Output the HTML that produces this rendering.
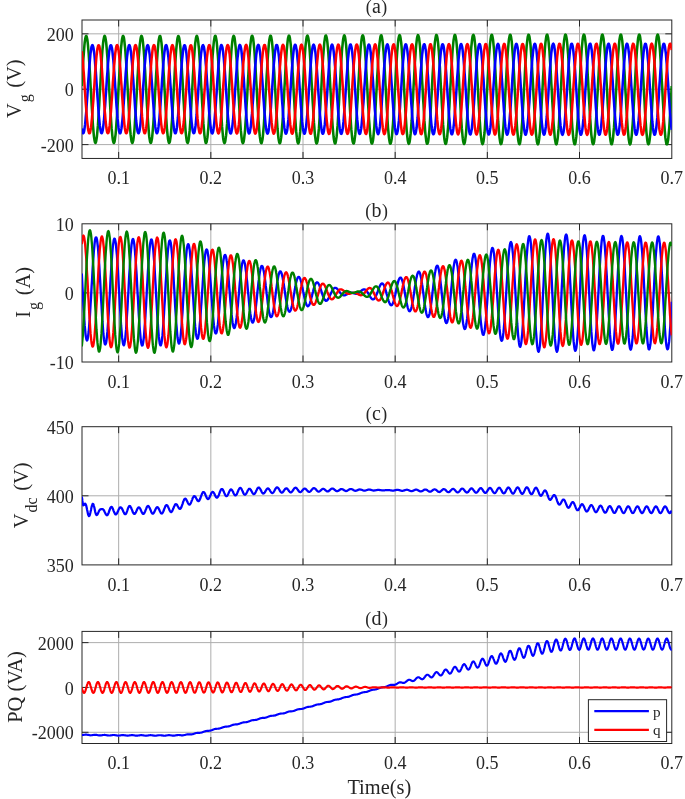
<!DOCTYPE html>
<html lang="en"><head><meta charset="utf-8"><title>Figure</title>
<style>html,body{margin:0;padding:0;background:#fff;}svg{display:block;-webkit-font-smoothing:antialiased;will-change:transform;}</style></head>
<body>
<svg width="685" height="799" viewBox="0 0 685 799" font-family="'Liberation Serif', serif" fill="#262626">
<rect width="685" height="799" fill="#ffffff"/>
<defs>
<clipPath id="clipa"><rect x="82.0" y="20.0" width="589.80" height="138.45"/></clipPath>
<clipPath id="clipb"><rect x="82.0" y="223.8" width="589.80" height="138.20"/></clipPath>
<clipPath id="clipc"><rect x="82.0" y="426.7" width="589.80" height="138.20"/></clipPath>
<clipPath id="clipd"><rect x="82.0" y="631.4" width="589.80" height="112.10"/></clipPath>
</defs>
<line x1="118.66" y1="20.0" x2="118.66" y2="158.45" stroke="#adadad" stroke-width="1.0"/>
<line x1="210.83" y1="20.0" x2="210.83" y2="158.45" stroke="#adadad" stroke-width="1.0"/>
<line x1="303.00" y1="20.0" x2="303.00" y2="158.45" stroke="#adadad" stroke-width="1.0"/>
<line x1="395.17" y1="20.0" x2="395.17" y2="158.45" stroke="#adadad" stroke-width="1.0"/>
<line x1="487.34" y1="20.0" x2="487.34" y2="158.45" stroke="#adadad" stroke-width="1.0"/>
<line x1="579.51" y1="20.0" x2="579.51" y2="158.45" stroke="#adadad" stroke-width="1.0"/>
<line x1="82.0" y1="33.84" x2="671.8" y2="33.84" stroke="#adadad" stroke-width="1.0"/>
<line x1="82.0" y1="89.22" x2="671.8" y2="89.22" stroke="#adadad" stroke-width="1.0"/>
<line x1="82.0" y1="144.60" x2="671.8" y2="144.60" stroke="#adadad" stroke-width="1.0"/>
<rect x="82.0" y="20.0" width="589.80" height="138.45" fill="none" stroke="#262626" stroke-width="1.0"/>
<line x1="118.66" y1="158.45" x2="118.66" y2="151.95" stroke="#262626" stroke-width="1.0"/>
<line x1="118.66" y1="20.0" x2="118.66" y2="26.5" stroke="#262626" stroke-width="1.0"/>
<line x1="210.83" y1="158.45" x2="210.83" y2="151.95" stroke="#262626" stroke-width="1.0"/>
<line x1="210.83" y1="20.0" x2="210.83" y2="26.5" stroke="#262626" stroke-width="1.0"/>
<line x1="303.00" y1="158.45" x2="303.00" y2="151.95" stroke="#262626" stroke-width="1.0"/>
<line x1="303.00" y1="20.0" x2="303.00" y2="26.5" stroke="#262626" stroke-width="1.0"/>
<line x1="395.17" y1="158.45" x2="395.17" y2="151.95" stroke="#262626" stroke-width="1.0"/>
<line x1="395.17" y1="20.0" x2="395.17" y2="26.5" stroke="#262626" stroke-width="1.0"/>
<line x1="487.34" y1="158.45" x2="487.34" y2="151.95" stroke="#262626" stroke-width="1.0"/>
<line x1="487.34" y1="20.0" x2="487.34" y2="26.5" stroke="#262626" stroke-width="1.0"/>
<line x1="579.51" y1="158.45" x2="579.51" y2="151.95" stroke="#262626" stroke-width="1.0"/>
<line x1="579.51" y1="20.0" x2="579.51" y2="26.5" stroke="#262626" stroke-width="1.0"/>
<line x1="82.0" y1="33.84" x2="88.5" y2="33.84" stroke="#262626" stroke-width="1.0"/>
<line x1="671.8" y1="33.84" x2="665.3" y2="33.84" stroke="#262626" stroke-width="1.0"/>
<line x1="82.0" y1="89.22" x2="88.5" y2="89.22" stroke="#262626" stroke-width="1.0"/>
<line x1="671.8" y1="89.22" x2="665.3" y2="89.22" stroke="#262626" stroke-width="1.0"/>
<line x1="82.0" y1="144.60" x2="88.5" y2="144.60" stroke="#262626" stroke-width="1.0"/>
<line x1="671.8" y1="144.60" x2="665.3" y2="144.60" stroke="#262626" stroke-width="1.0"/>
<g clip-path="url(#clipa)">
<polyline fill="none" stroke="#008000" stroke-width="2.55" stroke-linejoin="round" points="81.8,86.1 82.1,80.1 82.4,74.3 82.8,68.7 83.1,63.3 83.4,58.3 83.8,53.6 84.1,49.4 84.4,45.7 84.7,42.5 85.1,39.9 85.4,38.0 85.7,36.7 86.1,36.0 86.4,36.0 86.7,36.7 87.0,38.0 87.4,40.0 87.7,42.6 88.0,45.7 88.3,49.5 88.7,53.7 89.0,58.3 89.3,63.4 89.7,68.8 90.0,74.4 90.3,80.2 90.6,86.2 91.0,92.2 91.3,98.1 91.6,103.9 92.0,109.6 92.3,115.0 92.6,120.1 92.9,124.8 93.3,129.1 93.6,132.8 93.9,136.1 94.3,138.7 94.6,140.7 94.9,142.1 95.2,142.9 95.6,142.9 95.9,142.3 96.2,141.1 96.5,139.2 96.9,136.6 97.2,133.5 97.5,129.9 97.9,125.7 98.2,121.1 98.5,116.1 98.8,110.7 99.2,105.1 99.5,99.3 99.8,93.4 100.2,87.4 100.5,81.4 100.8,75.6 101.1,69.9 101.5,64.5 101.8,59.3 102.1,54.6 102.4,50.3 102.8,46.5 103.1,43.2 103.4,40.5 103.8,38.4 104.1,36.9 104.4,36.1 104.7,35.9 105.1,36.5 105.4,37.7 105.7,39.5 106.1,42.0 106.4,45.0 106.7,48.6 107.0,52.7 107.4,57.3 107.7,62.3 108.0,67.6 108.4,73.2 108.7,79.0 109.0,84.9 109.3,90.8 109.7,96.8 110.0,102.7 110.3,108.4 110.6,113.8 111.0,119.0 111.3,123.8 111.6,128.2 112.0,132.0 112.3,135.4 112.6,138.2 112.9,140.3 113.3,141.9 113.6,142.7 113.9,143.0 114.3,142.5 114.6,141.4 114.9,139.6 115.2,137.2 115.6,134.3 115.9,130.7 116.2,126.6 116.5,122.1 116.9,117.2 117.2,111.9 117.5,106.4 117.9,100.6 118.2,94.7 118.5,88.7 118.8,82.7 119.2,76.9 119.5,71.1 119.8,65.6 120.2,60.4 120.5,55.6 120.8,51.2 121.1,47.3 121.5,43.8 121.8,41.0 122.1,38.8 122.5,37.2 122.8,36.2 123.1,35.9 123.4,36.3 123.8,37.3 124.1,39.0 124.4,41.4 124.7,44.3 125.1,47.8 125.4,51.8 125.7,56.3 126.1,61.1 126.4,66.4 126.7,71.9 127.0,77.7 127.4,83.6 127.7,89.5 128.0,95.5 128.4,101.4 128.7,107.1 129.0,112.7 129.3,117.9 129.7,122.8 130.0,127.2 130.3,131.2 130.6,134.7 131.0,137.6 131.3,139.9 131.6,141.6 132.0,142.6 132.3,143.0 132.6,142.7 132.9,141.7 133.3,140.1 133.6,137.8 133.9,135.0 134.3,131.5 134.6,127.6 134.9,123.1 135.2,118.3 135.6,113.1 135.9,107.6 136.2,101.9 136.6,96.0 136.9,90.0 137.2,84.0 137.5,78.1 137.9,72.4 138.2,66.8 138.5,61.5 138.8,56.6 139.2,52.1 139.5,48.1 139.8,44.5 140.2,41.6 140.5,39.2 140.8,37.5 141.1,36.4 141.5,35.9 141.8,36.2 142.1,37.1 142.5,38.6 142.8,40.8 143.1,43.6 143.4,47.0 143.8,50.9 144.1,55.2 144.4,60.0 144.7,65.2 145.1,70.7 145.4,76.4 145.7,82.3 146.1,88.2 146.4,94.2 146.7,100.1 147.0,105.9 147.4,111.5 147.7,116.8 148.0,121.7 148.4,126.3 148.7,130.4 149.0,134.0 149.3,137.0 149.7,139.5 150.0,141.3 150.3,142.4 150.7,142.9 151.0,142.8 151.3,142.0 151.6,140.5 152.0,138.4 152.3,135.6 152.6,132.3 152.9,128.5 153.3,124.2 153.6,119.4 153.9,114.3 154.3,108.8 154.6,103.1 154.9,97.3 155.2,91.3 155.6,85.3 155.9,79.4 156.2,73.6 156.6,68.0 156.9,62.7 157.2,57.7 157.5,53.1 157.9,48.9 158.2,45.3 158.5,42.2 158.8,39.7 159.2,37.8 159.5,36.5 159.8,36.0 160.2,36.1 160.5,36.8 160.8,38.2 161.1,40.3 161.5,42.9 161.8,46.2 162.1,50.0 162.5,54.2 162.8,59.0 163.1,64.1 163.4,69.5 163.8,75.1 164.1,81.0 164.4,86.9 164.8,92.9 165.1,98.8 165.4,104.7 165.7,110.3 166.1,115.7 166.4,120.7 166.7,125.3 167.0,129.5 167.4,133.3 167.7,136.4 168.0,139.0 168.4,140.9 168.7,142.2 169.0,142.9 169.3,142.9 169.7,142.2 170.0,140.9 170.3,138.9 170.7,136.3 171.0,133.1 171.3,129.4 171.6,125.1 172.0,120.5 172.3,115.4 172.6,110.0 172.9,104.4 173.3,98.6 173.6,92.6 173.9,86.6 174.3,80.7 174.6,74.9 174.9,69.2 175.2,63.8 175.6,58.7 175.9,54.0 176.2,49.8 176.6,46.0 176.9,42.8 177.2,40.2 177.5,38.1 177.9,36.8 178.2,36.0 178.5,36.0 178.8,36.6 179.2,37.9 179.5,39.8 179.8,42.3 180.2,45.4 180.5,49.1 180.8,53.3 181.1,57.9 181.5,62.9 181.8,68.3 182.1,73.9 182.5,79.7 182.8,85.6 183.1,91.6 183.4,97.5 183.8,103.4 184.1,109.1 184.4,114.5 184.8,119.6 185.1,124.4 185.4,128.7 185.7,132.5 186.1,135.8 186.4,138.5 186.7,140.6 187.0,142.0 187.4,142.8 187.7,143.0 188.0,142.4 188.4,141.2 188.7,139.4 189.0,136.9 189.3,133.8 189.7,130.2 190.0,126.1 190.3,121.5 190.7,116.6 191.0,111.2 191.3,105.6 191.6,99.9 192.0,93.9 192.3,88.0 192.6,82.0 192.9,76.1 193.3,70.4 193.6,65.0 193.9,59.8 194.3,55.0 194.6,50.7 194.9,46.8 195.2,43.4 195.6,40.7 195.9,38.5 196.2,37.0 196.6,36.1 196.9,35.9 197.2,36.4 197.5,37.5 197.9,39.3 198.2,41.7 198.5,44.7 198.9,48.2 199.2,52.3 199.5,56.8 199.8,61.8 200.2,67.0 200.5,72.6 200.8,78.4 201.1,84.3 201.5,90.3 201.8,96.3 202.1,102.1 202.5,107.9 202.8,113.4 203.1,118.6 203.4,123.4 203.8,127.8 204.1,131.7 204.4,135.1 204.8,138.0 205.1,140.2 205.4,141.8 205.7,142.8 206.1,143.0 206.4,142.6 206.7,141.6 207.0,139.9 207.4,137.5 207.7,134.6 208.0,131.1 208.4,127.1 208.7,122.6 209.0,117.7 209.3,112.4 209.7,106.9 210.0,101.1 210.3,95.2 210.7,89.3 211.0,83.3 211.3,77.4 211.6,71.6 212.0,66.1 212.3,60.9 212.6,56.0 213.0,51.5 213.3,47.5 213.6,44.1 213.9,41.2 214.3,38.9 214.6,37.2 214.9,36.2 215.2,35.8 215.6,36.1 215.9,37.1 216.2,38.8 216.6,41.0 216.9,43.9 217.2,47.3 217.5,51.3 217.9,55.8 218.2,60.6 218.5,65.8 218.9,71.4 219.2,77.1 219.5,83.0 219.8,89.0 220.2,95.0 220.5,100.9 220.8,106.7 221.1,112.2 221.5,117.5 221.8,122.4 222.1,126.9 222.5,131.0 222.8,134.5 223.1,137.5 223.4,139.8 223.8,141.6 224.1,142.7 224.4,143.1 224.8,142.8 225.1,141.9 225.4,140.4 225.7,138.2 226.1,135.4 226.4,132.0 226.7,128.1 227.1,123.7 227.4,118.8 227.7,113.7 228.0,108.2 228.4,102.4 228.7,96.5 229.0,90.6 229.3,84.6 229.7,78.7 230.0,72.9 230.3,67.3 230.7,62.0 231.0,57.0 231.3,52.4 231.6,48.3 232.0,44.7 232.3,41.7 232.6,39.3 233.0,37.4 233.3,36.3 233.6,35.8 233.9,36.0 234.3,36.8 234.6,38.3 234.9,40.4 235.2,43.2 235.6,46.5 235.9,50.4 236.2,54.7 236.6,59.5 236.9,64.6 237.2,70.1 237.5,75.8 237.9,81.7 238.2,87.7 238.5,93.7 238.9,99.6 239.2,105.4 239.5,111.0 239.8,116.4 240.2,121.4 240.5,126.0 240.8,130.2 241.2,133.8 241.5,136.9 241.8,139.4 242.1,141.3 242.5,142.5 242.8,143.1 243.1,143.0 243.4,142.3 243.8,140.8 244.1,138.8 244.4,136.1 244.8,132.8 245.1,129.0 245.4,124.7 245.7,120.0 246.1,114.8 246.4,109.4 246.7,103.7 247.1,97.9 247.4,91.9 247.7,85.9 248.0,79.9 248.4,74.1 248.7,68.4 249.0,63.1 249.3,58.0 249.7,53.3 250.0,49.1 250.3,45.4 250.7,42.2 251.0,39.7 251.3,37.7 251.6,36.4 252.0,35.8 252.3,35.8 252.6,36.5 253.0,37.8 253.3,39.8 253.6,42.5 253.9,45.7 254.3,49.4 254.6,53.7 254.9,58.4 255.2,63.5 255.6,68.9 255.9,74.5 256.2,80.4 256.6,86.3 256.9,92.4 257.2,98.3 257.5,104.2 257.9,109.9 258.2,115.3 258.5,120.4 258.9,125.1 259.2,129.4 259.5,133.1 259.8,136.4 260.2,139.0 260.5,141.0 260.8,142.4 261.2,143.1 261.5,143.2 261.8,142.5 262.1,141.3 262.5,139.3 262.8,136.8 263.1,133.6 263.4,129.9 263.8,125.7 264.1,121.1 264.4,116.0 264.8,110.7 265.1,105.0 265.4,99.2 265.7,93.2 266.1,87.2 266.4,81.2 266.7,75.3 267.1,69.6 267.4,64.2 267.7,59.0 268.0,54.3 268.4,50.0 268.7,46.1 269.0,42.8 269.3,40.1 269.7,38.0 270.0,36.6 270.3,35.8 270.7,35.7 271.0,36.2 271.3,37.4 271.6,39.3 272.0,41.8 272.3,44.9 272.6,48.5 273.0,52.7 273.3,57.3 273.6,62.3 273.9,67.6 274.3,73.2 274.6,79.1 274.9,85.0 275.3,91.0 275.6,97.0 275.9,102.9 276.2,108.7 276.6,114.1 276.9,119.3 277.2,124.1 277.5,128.5 277.9,132.4 278.2,135.8 278.5,138.5 278.9,140.7 279.2,142.2 279.5,143.1 279.8,143.3 280.2,142.8 280.5,141.7 280.8,139.9 281.2,137.4 281.5,134.4 281.8,130.8 282.1,126.7 282.5,122.2 282.8,117.2 283.1,111.9 283.4,106.3 283.8,100.5 284.1,94.5 284.4,88.5 284.8,82.5 285.1,76.6 285.4,70.8 285.7,65.3 286.1,60.1 286.4,55.2 286.7,50.8 287.1,46.9 287.4,43.4 287.7,40.6 288.0,38.4 288.4,36.8 288.7,35.8 289.0,35.6 289.4,36.0 289.7,37.0 290.0,38.8 290.3,41.1 290.7,44.1 291.0,47.6 291.3,51.7 291.6,56.2 292.0,61.1 292.3,66.4 292.6,72.0 293.0,77.8 293.3,83.7 293.6,89.7 293.9,95.7 294.3,101.7 294.6,107.4 294.9,113.0 295.3,118.3 295.6,123.2 295.9,127.6 296.2,131.7 296.6,135.1 296.9,138.0 297.2,140.3 297.5,142.0 297.9,143.0 298.2,143.4 298.5,143.0 298.9,142.0 299.2,140.4 299.5,138.1 299.8,135.2 300.2,131.7 300.5,127.7 300.8,123.3 301.2,118.4 301.5,113.1 301.8,107.5 302.1,101.8 302.5,95.8 302.8,89.8 303.1,83.8 303.5,77.9 303.8,72.1 304.1,66.5 304.4,61.2 304.8,56.2 305.1,51.7 305.4,47.6 305.7,44.1 306.1,41.1 306.4,38.7 306.7,37.0 307.1,35.9 307.4,35.5 307.7,35.8 308.0,36.7 308.4,38.3 308.7,40.5 309.0,43.3 309.4,46.7 309.7,50.7 310.0,55.1 310.3,60.0 310.7,65.2 311.0,70.7 311.3,76.5 311.6,82.4 312.0,88.4 312.3,94.4 312.6,100.4 313.0,106.2 313.3,111.8 313.6,117.2 313.9,122.2 314.3,126.8 314.6,130.9 314.9,134.5 315.3,137.5 315.6,140.0 315.9,141.8 316.2,142.9 316.6,143.4 316.9,143.2 317.2,142.4 317.6,140.9 317.9,138.7 318.2,135.9 318.5,132.6 318.9,128.7 319.2,124.3 319.5,119.5 319.8,114.3 320.2,108.8 320.5,103.1 320.8,97.2 321.2,91.1 321.5,85.1 321.8,79.1 322.1,73.3 322.5,67.6 322.8,62.3 323.1,57.2 323.5,52.6 323.8,48.4 324.1,44.8 324.4,41.6 324.8,39.1 325.1,37.3 325.4,36.0 325.7,35.5 326.1,35.6 326.4,36.4 326.7,37.8 327.1,39.9 327.4,42.6 327.7,45.9 328.0,49.7 328.4,54.1 328.7,58.8 329.0,64.0 329.4,69.5 329.7,75.2 330.0,81.1 330.3,87.1 330.7,93.1 331.0,99.1 331.3,105.0 331.7,110.7 332.0,116.1 332.3,121.2 332.6,125.8 333.0,130.1 333.3,133.8 333.6,137.0 333.9,139.5 334.3,141.5 334.6,142.8 334.9,143.4 335.3,143.4 335.6,142.7 335.9,141.3 336.2,139.3 336.6,136.7 336.9,133.4 337.2,129.6 337.6,125.4 337.9,120.6 338.2,115.5 338.5,110.1 338.9,104.4 339.2,98.5 339.5,92.5 339.8,86.4 340.2,80.4 340.5,74.5 340.8,68.8 341.2,63.4 341.5,58.3 341.8,53.5 342.1,49.2 342.5,45.5 342.8,42.2 343.1,39.6 343.5,37.5 343.8,36.2 344.1,35.5 344.4,35.4 344.8,36.1 345.1,37.4 345.4,39.3 345.7,41.9 346.1,45.1 346.4,48.8 346.7,53.0 347.1,57.7 347.4,62.8 347.7,68.2 348.0,73.9 348.4,79.8 348.7,85.8 349.0,91.8 349.4,97.8 349.7,103.7 350.0,109.5 350.3,114.9 350.7,120.1 351.0,124.9 351.3,129.2 351.7,133.1 352.0,136.4 352.3,139.1 352.6,141.2 353.0,142.6 353.3,143.4 353.6,143.5 353.9,143.0 354.3,141.8 354.6,139.9 354.9,137.4 355.3,134.2 355.6,130.6 355.9,126.4 356.2,121.7 356.6,116.7 356.9,111.3 357.2,105.7 357.6,99.8 357.9,93.8 358.2,87.7 358.5,81.7 358.9,75.8 359.2,70.0 359.5,64.5 359.8,59.3 360.2,54.5 360.5,50.1 360.8,46.2 361.2,42.8 361.5,40.0 361.8,37.9 362.1,36.3 362.5,35.5 362.8,35.3 363.1,35.8 363.5,36.9 363.8,38.8 364.1,41.2 364.4,44.2 364.8,47.9 365.1,52.0 365.4,56.6 365.8,61.6 366.1,67.0 366.4,72.6 366.7,78.4 367.1,84.4 367.4,90.5 367.7,96.5 368.0,102.5 368.4,108.3 368.7,113.8 369.0,119.1 369.4,123.9 369.7,128.4 370.0,132.3 370.3,135.8 370.7,138.6 371.0,140.9 371.3,142.5 371.7,143.4 372.0,143.7 372.3,143.2 372.6,142.1 373.0,140.4 373.3,138.0 373.6,135.0 373.9,131.5 374.3,127.4 374.6,122.8 374.9,117.9 375.3,112.5 375.6,106.9 375.9,101.1 376.2,95.1 376.6,89.1 376.9,83.0 377.2,77.1 377.6,71.2 377.9,65.7 378.2,60.4 378.5,55.4 378.9,50.9 379.2,46.9 379.5,43.4 379.9,40.5 380.2,38.2 380.5,36.5 380.8,35.5 381.2,35.2 381.5,35.5 381.8,36.6 382.1,38.2 382.5,40.5 382.8,43.5 383.1,47.0 383.5,51.0 383.8,55.5 384.1,60.4 384.4,65.7 384.8,71.3 385.1,77.1 385.4,83.1 385.8,89.2 386.1,95.2 386.4,101.2 386.7,107.0 387.1,112.6 387.4,118.0 387.7,122.9 388.0,127.5 388.4,131.6 388.7,135.1 389.0,138.1 389.4,140.5 389.7,142.2 390.0,143.3 390.3,143.7 390.7,143.5 391.0,142.5 391.3,140.9 391.7,138.7 392.0,135.8 392.3,132.4 392.6,128.4 393.0,123.9 393.3,119.0 393.6,113.8 394.0,108.2 394.3,102.4 394.6,96.4 394.9,90.4 395.3,84.3 395.6,78.3 395.9,72.5 396.2,66.8 396.6,61.5 396.9,56.4 397.2,51.8 397.6,47.7 397.9,44.1 398.2,41.0 398.5,38.6 398.9,36.8 399.2,35.6 399.5,35.1 399.9,35.3 400.2,36.2 400.5,37.7 400.8,39.9 401.2,42.7 401.5,46.1 401.8,50.0 402.1,54.4 402.5,59.3 402.8,64.5 403.1,70.1 403.5,75.8 403.8,81.8 404.1,87.8 404.4,93.9 404.8,99.9 405.1,105.8 405.4,111.5 405.8,116.9 406.1,121.9 406.4,126.6 406.7,130.8 407.1,134.5 407.4,137.6 407.7,140.1 408.1,142.0 408.4,143.2 408.7,143.8 409.0,143.6 409.4,142.8 409.7,141.4 410.0,139.3 410.3,136.5 410.7,133.2 411.0,129.3 411.3,125.0 411.7,120.2 412.0,115.0 412.3,109.5 412.6,103.7 413.0,97.8 413.3,91.7 413.6,85.7 414.0,79.6 414.3,73.7 414.6,68.0 414.9,62.6 415.3,57.5 415.6,52.8 415.9,48.5 416.2,44.8 416.6,41.6 416.9,39.0 417.2,37.1 417.6,35.8 417.9,35.1 418.2,35.2 418.5,35.9 418.9,37.3 419.2,39.3 419.5,42.0 419.9,45.3 420.2,49.1 420.5,53.4 420.8,58.2 421.2,63.3 421.5,68.8 421.8,74.5 422.1,80.5 422.5,86.5 422.8,92.6 423.1,98.6 423.5,104.5 423.8,110.3 424.1,115.8 424.4,120.9 424.8,125.7 425.1,130.0 425.4,133.8 425.8,137.0 426.1,139.7 426.4,141.7 426.7,143.1 427.1,143.8 427.4,143.8 427.7,143.1 428.1,141.8 428.4,139.8 428.7,137.2 429.0,134.0 429.4,130.3 429.7,126.0 430.0,121.3 430.3,116.2 430.7,110.7 431.0,105.0 431.3,99.1 431.7,93.1 432.0,87.0 432.3,80.9 432.6,75.0 433.0,69.2 433.3,63.7 433.6,58.5 434.0,53.7 434.3,49.4 434.6,45.5 434.9,42.2 435.3,39.5 435.6,37.4 435.9,35.9 436.2,35.1 436.6,35.0 436.9,35.6 437.2,36.9 437.6,38.8 437.9,41.3 438.2,44.4 438.5,48.1 438.9,52.4 439.2,57.0 439.5,62.1 439.9,67.5 440.2,73.2 440.5,79.1 440.8,85.2 441.2,91.3 441.5,97.3 441.8,103.3 442.2,109.1 442.5,114.6 442.8,119.8 443.1,124.7 443.5,129.1 443.8,133.0 444.1,136.4 444.4,139.2 444.8,141.4 445.1,142.9 445.4,143.7 445.8,143.9 446.1,143.4 446.4,142.2 446.7,140.4 447.1,137.9 447.4,134.9 447.7,131.2 448.1,127.0 448.4,122.4 448.7,117.4 449.0,112.0 449.4,106.3 449.7,100.4 450.0,94.4 450.3,88.3 450.7,82.2 451.0,76.3 451.3,70.4 451.7,64.9 452.0,59.6 452.3,54.7 452.6,50.2 453.0,46.2 453.3,42.8 453.6,39.9 454.0,37.7 454.3,36.1 454.6,35.2 454.9,34.9 455.3,35.4 455.6,36.5 455.9,38.2 456.3,40.6 456.6,43.6 456.9,47.2 457.2,51.3 457.6,55.9 457.9,60.9 458.2,66.3 458.5,72.0 458.9,77.8 459.2,83.8 459.5,89.9 459.9,96.0 460.2,102.0 460.5,107.8 460.8,113.5 461.2,118.8 461.5,123.7 461.8,128.2 462.2,132.3 462.5,135.8 462.8,138.7 463.1,141.0 463.5,142.7 463.8,143.7 464.1,144.0 464.4,143.6 464.8,142.6 465.1,140.9 465.4,138.6 465.8,135.6 466.1,132.1 466.4,128.0 466.7,123.5 467.1,118.5 467.4,113.2 467.7,107.6 468.1,101.7 468.4,95.7 468.7,89.6 469.0,83.6 469.4,77.5 469.7,71.7 470.0,66.0 470.4,60.7 470.7,55.7 471.0,51.1 471.3,47.0 471.7,43.4 472.0,40.5 472.3,38.1 472.6,36.3 473.0,35.3 473.3,34.9 473.6,35.1 474.0,36.1 474.3,37.7 474.6,40.0 474.9,42.9 475.3,46.3 475.6,50.4 475.9,54.8 476.3,59.8 476.6,65.1 476.9,70.7 477.2,76.5 477.6,82.5 477.9,88.6 478.2,94.7 478.5,100.7 478.9,106.6 479.2,112.3 479.5,117.7 479.9,122.7 480.2,127.3 480.5,131.5 480.8,135.1 481.2,138.2 481.5,140.6 481.8,142.4 482.2,143.6 482.5,144.1 482.8,143.9 483.1,143.0 483.5,141.4 483.8,139.2 484.1,136.4 484.5,133.0 484.8,129.0 485.1,124.6 485.4,119.7 485.8,114.4 486.1,108.9 486.4,103.0 486.7,97.1 487.1,91.0 487.4,84.9 487.7,78.8 488.1,72.9 488.4,67.2 488.7,61.8 489.0,56.7 489.4,52.0 489.7,47.8 490.0,44.1 490.4,41.0 490.7,38.5 491.0,36.6 491.3,35.4 491.7,34.8 492.0,34.9 492.3,35.8 492.6,37.2 493.0,39.4 493.3,42.1 493.6,45.5 494.0,49.4 494.3,53.8 494.6,58.6 494.9,63.8 495.3,69.4 495.6,75.2 495.9,81.2 496.3,87.2 496.6,93.4 496.9,99.4 497.2,105.3 497.6,111.1 497.9,116.6 498.2,121.7 498.6,126.4 498.9,130.7 499.2,134.4 499.5,137.6 499.9,140.2 500.2,142.2 500.5,143.5 500.8,144.1 501.2,144.0 501.5,143.3 501.8,141.9 502.2,139.8 502.5,137.1 502.8,133.8 503.1,130.0 503.5,125.6 503.8,120.8 504.1,115.7 504.5,110.1 504.8,104.4 505.1,98.4 505.4,92.3 505.8,86.2 506.1,80.1 506.4,74.2 506.7,68.4 507.1,62.9 507.4,57.7 507.7,53.0 508.1,48.6 508.4,44.8 508.7,41.6 509.0,38.9 509.4,36.9 509.7,35.5 510.0,34.8 510.4,34.8 510.7,35.5 511.0,36.8 511.3,38.8 511.7,41.4 512.0,44.6 512.3,48.4 512.6,52.7 513.0,57.5 513.3,62.6 513.6,68.1 514.0,73.9 514.3,79.8 514.6,85.9 514.9,92.0 515.3,98.1 515.6,104.1 515.9,109.9 516.3,115.4 516.6,120.6 516.9,125.5 517.2,129.8 517.6,133.7 517.9,137.0 518.2,139.8 518.6,141.9 518.9,143.3 519.2,144.1 519.5,144.2 519.9,143.6 520.2,142.3 520.5,140.4 520.8,137.8 521.2,134.7 521.5,130.9 521.8,126.7 522.2,122.0 522.5,116.9 522.8,111.4 523.1,105.7 523.5,99.7 523.8,93.7 524.1,87.5 524.5,81.4 524.8,75.4 525.1,69.6 525.4,64.1 525.8,58.8 526.1,53.9 526.4,49.5 526.7,45.6 527.1,42.2 527.4,39.4 527.7,37.2 528.1,35.7 528.4,34.8 528.7,34.7 529.0,35.2 529.4,36.4 529.7,38.2 530.0,40.7 530.4,43.8 530.7,47.5 531.0,51.7 531.3,56.4 531.7,61.4 532.0,66.9 532.3,72.6 532.7,78.5 533.0,84.6 533.3,90.7 533.6,96.8 534.0,102.8 534.3,108.7 534.6,114.3 534.9,119.6 535.3,124.5 535.6,129.0 535.9,133.0 536.3,136.4 536.6,139.3 536.9,141.5 537.2,143.1 537.6,144.0 537.9,144.3 538.2,143.8 538.6,142.7 538.9,140.9 539.2,138.5 539.5,135.5 539.9,131.8 540.2,127.7 540.5,123.1 540.8,118.0 541.2,112.6 541.5,107.0 541.8,101.0 542.2,95.0 542.5,88.9 542.8,82.8 543.1,76.7 543.5,70.9 543.8,65.2 544.1,59.9 544.5,54.9 544.8,50.4 545.1,46.3 545.4,42.8 545.8,39.9 546.1,37.6 546.4,35.9 546.8,34.9 547.1,34.6 547.4,34.9 547.7,36.0 548.1,37.7 548.4,40.1 548.7,43.0 549.0,46.6 549.4,50.7 549.7,55.3 550.0,60.3 550.4,65.6 550.7,71.3 551.0,77.2 551.3,83.2 551.7,89.3 552.0,95.5 552.3,101.5 552.7,107.4 553.0,113.1 553.3,118.5 553.6,123.5 554.0,128.1 554.3,132.2 554.6,135.8 554.9,138.8 555.3,141.1 555.6,142.9 555.9,143.9 556.3,144.3 556.6,144.0 556.9,143.1 557.2,141.4 557.6,139.1 557.9,136.2 558.2,132.7 558.6,128.7 558.9,124.2 559.2,119.2 559.5,113.9 559.9,108.2 560.2,102.4 560.5,96.3 560.9,90.2 561.2,84.1 561.5,78.0 561.8,72.1 562.2,66.4 562.5,61.0 562.8,55.9 563.1,51.3 563.5,47.1 563.8,43.5 564.1,40.4 564.5,38.0 564.8,36.2 565.1,35.0 565.4,34.6 565.8,34.8 566.1,35.7 566.4,37.2 566.8,39.5 567.1,42.3 567.4,45.8 567.7,49.7 568.1,54.2 568.4,59.1 568.7,64.4 569.0,70.0 569.4,75.9 569.7,81.9 570.0,88.0 570.4,94.1 570.7,100.2 571.0,106.1 571.3,111.9 571.7,117.3 572.0,122.4 572.3,127.1 572.7,131.3 573.0,135.0 573.3,138.2 573.6,140.7 574.0,142.6 574.3,143.8 574.6,144.3 575.0,144.2 575.3,143.4 575.6,141.9 575.9,139.7 576.3,136.9 576.6,133.5 576.9,129.6 577.2,125.2 577.6,120.3 577.9,115.1 578.2,109.5 578.6,103.7 578.9,97.7 579.2,91.6 579.5,85.4 579.9,79.3 580.2,73.4 580.5,67.6 580.9,62.1 581.2,57.0 581.5,52.3 581.8,48.0 582.2,44.2 582.5,41.0 582.8,38.5 583.1,36.5 583.5,35.2 583.8,34.6 584.1,34.7 584.5,35.4 584.8,36.8 585.1,38.9 585.4,41.6 585.8,44.9 586.1,48.8 586.4,53.2 586.8,58.0 587.1,63.2 587.4,68.8 587.7,74.6 588.1,80.6 588.4,86.7 588.7,92.8 589.0,98.9 589.4,104.9 589.7,110.6 590.0,116.2 590.4,121.3 590.7,126.1 591.0,130.5 591.3,134.3 591.7,137.5 592.0,140.2 592.3,142.2 592.7,143.6 593.0,144.3 593.3,144.3 593.6,143.6 594.0,142.2 594.3,140.2 594.6,137.6 595.0,134.3 595.3,130.5 595.6,126.2 595.9,121.4 596.3,116.2 596.6,110.7 596.9,105.0 597.2,99.0 597.6,92.9 597.9,86.8 598.2,80.7 598.6,74.7 598.9,68.9 599.2,63.3 599.5,58.1 599.9,53.3 600.2,48.9 600.5,45.0 600.9,41.7 601.2,39.0 601.5,36.9 601.8,35.4 602.2,34.7 602.5,34.6 602.8,35.2 603.1,36.5 603.5,38.4 603.8,41.0 604.1,44.2 604.5,47.9 604.8,52.2 605.1,56.9 605.4,62.1 605.8,67.5 606.1,73.3 606.4,79.2 606.8,85.3 607.1,91.5 607.4,97.6 607.7,103.6 608.1,109.4 608.4,115.0 608.7,120.2 609.1,125.1 609.4,129.6 609.7,133.5 610.0,136.9 610.4,139.7 610.7,141.8 611.0,143.3 611.3,144.2 611.7,144.3 612.0,143.8 612.3,142.6 612.7,140.7 613.0,138.2 613.3,135.1 613.6,131.4 614.0,127.2 614.3,122.5 614.6,117.4 615.0,112.0 615.3,106.2 615.6,100.3 615.9,94.2 616.3,88.1 616.6,82.0 616.9,76.0 617.2,70.1 617.6,64.5 617.9,59.2 618.2,54.3 618.6,49.8 618.9,45.8 619.2,42.4 619.5,39.5 619.9,37.3 620.2,35.7 620.5,34.8 620.9,34.5 621.2,35.0 621.5,36.1 621.8,37.9 622.2,40.4 622.5,43.4 622.8,47.1 623.2,51.2 623.5,55.9 623.8,60.9 624.1,66.3 624.5,72.0 624.8,77.9 625.1,84.0 625.4,90.1 625.8,96.2 626.1,102.3 626.4,108.1 626.8,113.8 627.1,119.1 627.4,124.1 627.7,128.6 628.1,132.7 628.4,136.2 628.7,139.1 629.1,141.4 629.4,143.1 629.7,144.0 630.0,144.4 630.4,144.0 630.7,142.9 631.0,141.2 631.3,138.8 631.7,135.8 632.0,132.3 632.3,128.2 632.7,123.6 633.0,118.6 633.3,113.2 633.6,107.5 634.0,101.6 634.3,95.6 634.6,89.4 635.0,83.3 635.3,77.3 635.6,71.4 635.9,65.7 636.3,60.3 636.6,55.3 636.9,50.7 637.3,46.6 637.6,43.1 637.9,40.1 638.2,37.7 638.6,36.0 638.9,34.9 639.2,34.5 639.5,34.8 639.9,35.8 640.2,37.5 640.5,39.8 640.9,42.7 641.2,46.2 641.5,50.3 641.8,54.8 642.2,59.8 642.5,65.1 642.8,70.7 643.2,76.6 643.5,82.7 643.8,88.8 644.1,94.9 644.5,101.0 644.8,106.9 645.1,112.6 645.4,118.0 645.8,123.0 646.1,127.7 646.4,131.8 646.8,135.5 647.1,138.5 647.4,141.0 647.7,142.8 648.1,143.9 648.4,144.3 648.7,144.1 649.1,143.2 649.4,141.6 649.7,139.4 650.0,136.5 650.4,133.1 650.7,129.1 651.0,124.6 651.4,119.7 651.7,114.4 652.0,108.8 652.3,102.9 652.7,96.9 653.0,90.8 653.3,84.7 653.6,78.6 654.0,72.7 654.3,66.9 654.6,61.5 655.0,56.4 655.3,51.7 655.6,47.5 655.9,43.8 656.3,40.7 656.6,38.2 656.9,36.3 657.3,35.1 657.6,34.6 657.9,34.7 658.2,35.6 658.6,37.1 658.9,39.2 659.2,42.0 659.5,45.4 659.9,49.3 660.2,53.8 660.5,58.6 660.9,63.9 661.2,69.5 661.5,75.3 661.8,81.3 662.2,87.4 662.5,93.6 662.8,99.6 663.2,105.6 663.5,111.4 663.8,116.8 664.1,122.0 664.5,126.7 664.8,131.0 665.1,134.7 665.4,137.9 665.8,140.5 666.1,142.4 666.4,143.7 666.8,144.3 667.1,144.2 667.4,143.5 667.7,142.0 668.1,139.9 668.4,137.2 668.7,133.9 669.1,130.0 669.4,125.6 669.7,120.8 670.0,115.6 670.4,110.0 670.7,104.2 671.0,98.2 671.4,92.1 671.7,86.0"/>
<polyline fill="none" stroke="#0000ff" stroke-width="2.55" stroke-linejoin="round" points="81.8,128.5 82.1,130.5 82.4,132.0 82.8,132.9 83.1,133.3 83.4,133.2 83.8,132.5 84.1,131.2 84.4,129.5 84.7,127.2 85.1,124.4 85.4,121.3 85.7,117.7 86.1,113.7 86.4,109.5 86.7,105.0 87.0,100.3 87.4,95.5 87.7,90.6 88.0,85.6 88.3,80.8 88.7,76.0 89.0,71.4 89.3,67.0 89.7,62.9 90.0,59.1 90.3,55.7 90.6,52.7 91.0,50.2 91.3,48.1 91.6,46.6 92.0,45.6 92.3,45.1 92.6,45.2 92.9,45.9 93.3,47.1 93.6,48.8 93.9,51.0 94.3,53.7 94.6,56.8 94.9,60.4 95.2,64.3 95.6,68.5 95.9,73.0 96.2,77.6 96.5,82.4 96.9,87.3 97.2,92.3 97.5,97.2 97.9,102.0 98.2,106.6 98.5,111.0 98.8,115.1 99.2,119.0 99.5,122.4 99.8,125.4 100.2,128.0 100.5,130.1 100.8,131.7 101.1,132.8 101.5,133.3 101.8,133.2 102.1,132.7 102.4,131.5 102.8,129.9 103.1,127.7 103.4,125.1 103.8,122.0 104.1,118.5 104.4,114.6 104.7,110.4 105.1,106.0 105.4,101.3 105.7,96.5 106.1,91.6 106.4,86.7 106.7,81.8 107.0,77.0 107.4,72.4 107.7,67.9 108.0,63.7 108.4,59.9 108.7,56.4 109.0,53.3 109.3,50.7 109.7,48.5 110.0,46.9 110.3,45.8 110.6,45.2 111.0,45.2 111.3,45.7 111.6,46.8 112.0,48.4 112.3,50.5 112.6,53.1 112.9,56.1 113.3,59.6 113.6,63.4 113.9,67.5 114.3,72.0 114.6,76.6 114.9,81.4 115.2,86.3 115.6,91.2 115.9,96.1 116.2,100.9 116.5,105.6 116.9,110.1 117.2,114.3 117.5,118.2 117.9,121.7 118.2,124.8 118.5,127.5 118.8,129.7 119.2,131.4 119.5,132.6 119.8,133.2 120.2,133.3 120.5,132.8 120.8,131.8 121.1,130.3 121.5,128.2 121.8,125.7 122.1,122.7 122.5,119.3 122.8,115.5 123.1,111.4 123.4,107.0 123.8,102.4 124.1,97.6 124.4,92.7 124.7,87.8 125.1,82.9 125.4,78.1 125.7,73.4 126.1,68.9 126.4,64.6 126.7,60.7 127.0,57.1 127.4,54.0 127.7,51.2 128.0,49.0 128.4,47.2 128.7,46.0 129.0,45.3 129.3,45.1 129.7,45.5 130.0,46.5 130.3,48.0 130.6,50.0 131.0,52.5 131.3,55.4 131.6,58.8 132.0,62.5 132.3,66.6 132.6,71.0 132.9,75.6 133.3,80.3 133.6,85.2 133.9,90.1 134.3,95.0 134.6,99.9 134.9,104.6 135.2,109.1 135.6,113.4 135.9,117.3 136.2,121.0 136.6,124.2 136.9,127.0 137.2,129.3 137.5,131.1 137.9,132.4 138.2,133.1 138.5,133.3 138.8,133.0 139.2,132.1 139.5,130.7 139.8,128.7 140.2,126.3 140.5,123.4 140.8,120.1 141.1,116.4 141.5,112.3 141.8,108.0 142.1,103.4 142.5,98.7 142.8,93.8 143.1,88.9 143.4,83.9 143.8,79.1 144.1,74.4 144.4,69.8 144.7,65.5 145.1,61.5 145.4,57.9 145.7,54.6 146.1,51.8 146.4,49.4 146.7,47.5 147.0,46.2 147.4,45.4 147.7,45.1 148.0,45.4 148.4,46.2 148.7,47.6 149.0,49.5 149.3,51.9 149.7,54.7 150.0,58.0 150.3,61.7 150.7,65.7 151.0,70.0 151.3,74.5 151.6,79.3 152.0,84.1 152.3,89.0 152.6,94.0 152.9,98.8 153.3,103.6 153.6,108.1 153.9,112.5 154.3,116.5 154.6,120.2 154.9,123.5 155.2,126.4 155.6,128.8 155.9,130.7 156.2,132.1 156.6,133.0 156.9,133.3 157.2,133.1 157.5,132.3 157.9,131.0 158.2,129.2 158.5,126.9 158.8,124.1 159.2,120.8 159.5,117.2 159.8,113.2 160.2,108.9 160.5,104.4 160.8,99.7 161.1,94.9 161.5,89.9 161.8,85.0 162.1,80.2 162.5,75.4 162.8,70.8 163.1,66.5 163.4,62.4 163.8,58.6 164.1,55.3 164.4,52.4 164.8,49.9 165.1,47.9 165.4,46.4 165.7,45.5 166.1,45.1 166.4,45.3 166.7,46.0 167.0,47.3 167.4,49.0 167.7,51.3 168.0,54.1 168.4,57.2 168.7,60.8 169.0,64.8 169.3,69.0 169.7,73.5 170.0,78.2 170.3,83.1 170.7,88.0 171.0,92.9 171.3,97.8 171.6,102.5 172.0,107.2 172.3,111.5 172.6,115.6 172.9,119.4 173.3,122.8 173.6,125.8 173.9,128.3 174.3,130.4 174.6,131.9 174.9,132.9 175.2,133.3 175.6,133.2 175.9,132.6 176.2,131.4 176.6,129.6 176.9,127.4 177.2,124.7 177.5,121.6 177.9,118.0 178.2,114.1 178.5,109.9 178.8,105.4 179.2,100.7 179.5,95.9 179.8,91.0 180.2,86.1 180.5,81.2 180.8,76.4 181.1,71.8 181.5,67.4 181.8,63.2 182.1,59.4 182.5,56.0 182.8,53.0 183.1,50.4 183.4,48.3 183.8,46.7 184.1,45.7 184.4,45.2 184.8,45.2 185.1,45.8 185.4,46.9 185.7,48.6 186.1,50.8 186.4,53.4 186.7,56.5 187.0,60.0 187.4,63.9 187.7,68.1 188.0,72.5 188.4,77.2 188.7,82.0 189.0,86.9 189.3,91.8 189.7,96.7 190.0,101.5 190.3,106.2 190.7,110.6 191.0,114.8 191.3,118.6 191.6,122.1 192.0,125.2 192.3,127.8 192.6,130.0 192.9,131.6 193.3,132.7 193.6,133.3 193.9,133.3 194.3,132.8 194.6,131.7 194.9,130.1 195.2,128.0 195.6,125.4 195.9,122.3 196.2,118.9 196.6,115.0 196.9,110.9 197.2,106.4 197.5,101.8 197.9,97.0 198.2,92.1 198.5,87.2 198.9,82.3 199.2,77.4 199.5,72.8 199.8,68.3 200.2,64.1 200.5,60.2 200.8,56.7 201.1,53.5 201.5,50.9 201.8,48.7 202.1,47.0 202.5,45.8 202.8,45.2 203.1,45.1 203.4,45.6 203.8,46.6 204.1,48.1 204.4,50.2 204.8,52.8 205.1,55.8 205.4,59.2 205.7,63.0 206.1,67.1 206.4,71.5 206.7,76.1 207.0,80.9 207.4,85.8 207.7,90.7 208.0,95.7 208.4,100.5 208.7,105.2 209.0,109.7 209.3,113.9 209.7,117.9 210.0,121.4 210.3,124.6 210.7,127.3 211.0,129.6 211.3,131.4 211.6,132.6 212.0,133.3 212.3,133.4 212.6,133.0 213.0,132.0 213.3,130.5 213.6,128.5 213.9,126.0 214.3,123.1 214.6,119.7 214.9,115.9 215.2,111.8 215.6,107.5 215.9,102.8 216.2,98.1 216.6,93.2 216.9,88.2 217.2,83.3 217.5,78.5 217.9,73.8 218.2,69.2 218.5,65.0 218.9,61.0 219.2,57.4 219.5,54.1 219.8,51.4 220.2,49.0 220.5,47.2 220.8,45.9 221.1,45.2 221.5,45.0 221.8,45.4 222.1,46.3 222.5,47.7 222.8,49.6 223.1,52.1 223.4,55.0 223.8,58.4 224.1,62.1 224.4,66.1 224.8,70.5 225.1,75.1 225.4,79.8 225.7,84.7 226.1,89.7 226.4,94.6 226.7,99.5 227.1,104.2 227.4,108.7 227.7,113.1 228.0,117.1 228.4,120.7 228.7,124.0 229.0,126.8 229.3,129.2 229.7,131.1 230.0,132.4 230.3,133.2 230.7,133.5 231.0,133.2 231.3,132.4 231.6,131.0 232.0,129.1 232.3,126.7 232.6,123.8 233.0,120.5 233.3,116.8 233.6,112.8 233.9,108.5 234.3,103.9 234.6,99.1 234.9,94.3 235.2,89.3 235.6,84.4 235.9,79.5 236.2,74.8 236.6,70.2 236.9,65.8 237.2,61.8 237.5,58.1 237.9,54.8 238.2,51.9 238.5,49.4 238.9,47.5 239.2,46.1 239.5,45.2 239.8,44.9 240.2,45.2 240.5,45.9 240.8,47.3 241.2,49.1 241.5,51.5 241.8,54.3 242.1,57.5 242.5,61.2 242.8,65.2 243.1,69.5 243.4,74.0 243.8,78.8 244.1,83.6 244.4,88.6 244.8,93.5 245.1,98.4 245.4,103.2 245.7,107.8 246.1,112.2 246.4,116.3 246.7,120.0 247.1,123.4 247.4,126.3 247.7,128.8 248.0,130.8 248.4,132.2 248.7,133.2 249.0,133.5 249.3,133.4 249.7,132.7 250.0,131.4 250.3,129.6 250.7,127.3 251.0,124.5 251.3,121.3 251.6,117.7 252.0,113.7 252.3,109.5 252.6,104.9 253.0,100.2 253.3,95.4 253.6,90.4 253.9,85.5 254.3,80.6 254.6,75.8 254.9,71.1 255.2,66.7 255.6,62.6 255.9,58.8 256.2,55.4 256.6,52.4 256.9,49.9 257.2,47.8 257.5,46.3 257.9,45.3 258.2,44.9 258.5,45.0 258.9,45.7 259.2,46.9 259.5,48.6 259.8,50.8 260.2,53.6 260.5,56.7 260.8,60.3 261.2,64.2 261.5,68.5 261.8,73.0 262.1,77.7 262.5,82.6 262.8,87.5 263.1,92.5 263.4,97.4 263.8,102.2 264.1,106.8 264.4,111.3 264.8,115.4 265.1,119.3 265.4,122.7 265.7,125.8 266.1,128.4 266.4,130.4 266.7,132.0 267.1,133.1 267.4,133.6 267.7,133.5 268.0,132.9 268.4,131.8 268.7,130.1 269.0,127.9 269.3,125.2 269.7,122.1 270.0,118.6 270.3,114.7 270.7,110.5 271.0,106.0 271.3,101.3 271.6,96.4 272.0,91.5 272.3,86.5 272.6,81.6 273.0,76.8 273.3,72.1 273.6,67.6 273.9,63.4 274.3,59.6 274.6,56.1 274.9,53.0 275.3,50.3 275.6,48.2 275.9,46.5 276.2,45.4 276.6,44.9 276.9,44.9 277.2,45.4 277.5,46.5 277.9,48.1 278.2,50.3 278.5,52.9 278.9,56.0 279.2,59.5 279.5,63.3 279.8,67.5 280.2,72.0 280.5,76.6 280.8,81.5 281.2,86.4 281.5,91.4 281.8,96.3 282.1,101.2 282.5,105.9 282.8,110.4 283.1,114.6 283.4,118.5 283.8,122.1 284.1,125.2 284.4,127.9 284.8,130.1 285.1,131.8 285.4,133.0 285.7,133.6 286.1,133.7 286.4,133.2 286.7,132.1 287.1,130.6 287.4,128.5 287.7,125.9 288.0,122.9 288.4,119.4 288.7,115.6 289.0,111.4 289.4,107.0 289.7,102.3 290.0,97.5 290.3,92.6 290.7,87.6 291.0,82.7 291.3,77.8 291.6,73.1 292.0,68.6 292.3,64.3 292.6,60.3 293.0,56.7 293.3,53.6 293.6,50.8 293.9,48.5 294.3,46.8 294.6,45.6 294.9,44.9 295.3,44.7 295.6,45.2 295.9,46.1 296.2,47.7 296.6,49.7 296.9,52.2 297.2,55.2 297.5,58.6 297.9,62.4 298.2,66.5 298.5,70.9 298.9,75.6 299.2,80.4 299.5,85.3 299.8,90.3 300.2,95.2 300.5,100.1 300.8,104.9 301.2,109.4 301.5,113.7 301.8,117.7 302.1,121.4 302.5,124.6 302.8,127.4 303.1,129.7 303.5,131.5 303.8,132.8 304.1,133.6 304.4,133.8 304.8,133.4 305.1,132.5 305.4,131.0 305.7,129.0 306.1,126.6 306.4,123.6 306.7,120.3 307.1,116.5 307.4,112.4 307.7,108.0 308.0,103.4 308.4,98.6 308.7,93.7 309.0,88.7 309.4,83.7 309.7,78.8 310.0,74.1 310.3,69.5 310.7,65.2 311.0,61.1 311.3,57.4 311.6,54.2 312.0,51.3 312.3,48.9 312.6,47.1 313.0,45.7 313.3,44.9 313.6,44.6 313.9,45.0 314.3,45.8 314.6,47.2 314.9,49.1 315.3,51.6 315.6,54.4 315.9,57.8 316.2,61.5 316.6,65.6 316.9,69.9 317.2,74.5 317.6,79.3 317.9,84.2 318.2,89.2 318.5,94.2 318.9,99.1 319.2,103.9 319.5,108.5 319.8,112.8 320.2,116.9 320.5,120.7 320.8,124.0 321.2,126.9 321.5,129.3 321.8,131.3 322.1,132.7 322.5,133.5 322.8,133.8 323.1,133.6 323.5,132.8 323.8,131.5 324.1,129.6 324.4,127.2 324.8,124.4 325.1,121.1 325.4,117.4 325.7,113.4 326.1,109.0 326.4,104.5 326.7,99.7 327.1,94.8 327.4,89.8 327.7,84.8 328.0,79.9 328.4,75.1 328.7,70.4 329.0,66.0 329.4,61.9 329.7,58.2 330.0,54.8 330.3,51.8 330.7,49.3 331.0,47.3 331.3,45.9 331.7,45.0 332.0,44.6 332.3,44.8 332.6,45.5 333.0,46.8 333.3,48.6 333.6,50.9 333.9,53.7 334.3,57.0 334.6,60.6 334.9,64.6 335.3,68.9 335.6,73.5 335.9,78.2 336.2,83.1 336.6,88.1 336.9,93.1 337.2,98.0 337.6,102.9 337.9,107.5 338.2,112.0 338.5,116.1 338.9,119.9 339.2,123.4 339.5,126.4 339.8,128.9 340.2,130.9 340.5,132.5 340.8,133.5 341.2,133.9 341.5,133.8 341.8,133.1 342.1,131.9 342.5,130.1 342.8,127.8 343.1,125.1 343.5,121.9 343.8,118.3 344.1,114.3 344.4,110.0 344.8,105.5 345.1,100.8 345.4,95.9 345.7,90.9 346.1,85.9 346.4,80.9 346.7,76.1 347.1,71.4 347.4,66.9 347.7,62.8 348.0,58.9 348.4,55.4 348.7,52.4 349.0,49.8 349.4,47.7 349.7,46.1 350.0,45.0 350.3,44.5 350.7,44.6 351.0,45.2 351.3,46.4 351.7,48.1 352.0,50.3 352.3,53.0 352.6,56.2 353.0,59.7 353.3,63.7 353.6,67.9 353.9,72.4 354.3,77.2 354.6,82.0 354.9,87.0 355.3,92.0 355.6,97.0 355.9,101.8 356.2,106.6 356.6,111.0 356.9,115.3 357.2,119.2 357.6,122.7 357.9,125.8 358.2,128.5 358.5,130.6 358.9,132.3 359.2,133.4 359.5,133.9 359.8,133.9 360.2,133.4 360.5,132.3 360.8,130.6 361.2,128.5 361.5,125.8 361.8,122.7 362.1,119.2 362.5,115.3 362.8,111.0 363.1,106.5 363.5,101.8 363.8,97.0 364.1,92.0 364.4,87.0 364.8,82.0 365.1,77.1 365.4,72.4 365.8,67.9 366.1,63.6 366.4,59.7 366.7,56.1 367.1,52.9 367.4,50.2 367.7,48.0 368.0,46.3 368.4,45.1 368.7,44.5 369.0,44.5 369.4,45.0 369.7,46.0 370.0,47.6 370.3,49.7 370.7,52.3 371.0,55.4 371.3,58.9 371.7,62.7 372.0,66.9 372.3,71.4 372.6,76.1 373.0,80.9 373.3,85.9 373.6,90.9 373.9,95.9 374.3,100.8 374.6,105.6 374.9,110.1 375.3,114.4 375.6,118.4 375.9,122.0 376.2,125.2 376.6,128.0 376.9,130.3 377.2,132.0 377.6,133.2 377.9,133.9 378.2,134.1 378.5,133.6 378.9,132.6 379.2,131.1 379.5,129.0 379.9,126.5 380.2,123.5 380.5,120.0 380.8,116.2 381.2,112.0 381.5,107.6 381.8,102.9 382.1,98.0 382.5,93.1 382.8,88.1 383.1,83.1 383.5,78.2 383.8,73.4 384.1,68.8 384.4,64.5 384.8,60.4 385.1,56.8 385.4,53.5 385.8,50.7 386.1,48.4 386.4,46.6 386.7,45.3 387.1,44.5 387.4,44.3 387.7,44.7 388.0,45.7 388.4,47.1 388.7,49.1 389.0,51.6 389.4,54.6 389.7,58.0 390.0,61.8 390.3,65.9 390.7,70.4 391.0,75.0 391.3,79.9 391.7,84.8 392.0,89.8 392.3,94.8 392.6,99.8 393.0,104.6 393.3,109.2 393.6,113.5 394.0,117.6 394.3,121.3 394.6,124.6 394.9,127.5 395.3,129.9 395.6,131.7 395.9,133.1 396.2,133.9 396.6,134.1 396.9,133.8 397.2,133.0 397.6,131.5 397.9,129.6 398.2,127.1 398.5,124.2 398.9,120.9 399.2,117.1 399.5,113.0 399.9,108.6 400.2,104.0 400.5,99.1 400.8,94.2 401.2,89.2 401.5,84.2 401.8,79.2 402.1,74.4 402.5,69.7 402.8,65.4 403.1,61.3 403.5,57.5 403.8,54.1 404.1,51.2 404.4,48.8 404.8,46.8 405.1,45.4 405.4,44.6 405.8,44.3 406.1,44.5 406.4,45.3 406.7,46.7 407.1,48.6 407.4,51.0 407.7,53.9 408.1,57.2 408.4,60.9 408.7,65.0 409.0,69.3 409.4,74.0 409.7,78.8 410.0,83.7 410.3,88.7 410.7,93.7 411.0,98.7 411.3,103.6 411.7,108.2 412.0,112.6 412.3,116.8 412.6,120.6 413.0,124.0 413.3,127.0 413.6,129.5 414.0,131.4 414.3,132.9 414.6,133.8 414.9,134.2 415.3,134.0 415.6,133.3 415.9,132.0 416.2,130.1 416.6,127.8 416.9,125.0 417.2,121.7 417.6,118.0 417.9,114.0 418.2,109.6 418.5,105.0 418.9,100.2 419.2,95.3 419.5,90.3 419.9,85.2 420.2,80.3 420.5,75.4 420.8,70.7 421.2,66.3 421.5,62.1 421.8,58.2 422.1,54.8 422.5,51.8 422.8,49.2 423.1,47.2 423.5,45.6 423.8,44.6 424.1,44.2 424.4,44.3 424.8,45.0 425.1,46.3 425.4,48.1 425.8,50.4 426.1,53.1 426.4,56.4 426.7,60.0 427.1,64.0 427.4,68.3 427.7,72.9 428.1,77.7 428.4,82.6 428.7,87.6 429.0,92.7 429.4,97.6 429.7,102.5 430.0,107.2 430.3,111.7 430.7,116.0 431.0,119.8 431.3,123.3 431.7,126.4 432.0,129.0 432.3,131.1 432.6,132.7 433.0,133.8 433.3,134.2 433.6,134.2 434.0,133.5 434.3,132.4 434.6,130.6 434.9,128.4 435.3,125.7 435.6,122.5 435.9,118.9 436.2,114.9 436.6,110.6 436.9,106.1 437.2,101.3 437.6,96.4 437.9,91.4 438.2,86.3 438.5,81.3 438.9,76.4 439.2,71.7 439.5,67.2 439.9,62.9 440.2,59.0 440.5,55.5 440.8,52.3 441.2,49.7 441.5,47.5 441.8,45.9 442.2,44.7 442.5,44.2 442.8,44.2 443.1,44.8 443.5,45.9 443.8,47.6 444.1,49.8 444.4,52.4 444.8,55.6 445.1,59.1 445.4,63.1 445.8,67.3 446.1,71.9 446.4,76.6 446.7,81.5 447.1,86.5 447.4,91.6 447.7,96.6 448.1,101.5 448.4,106.3 448.7,110.8 449.0,115.1 449.4,119.1 449.7,122.6 450.0,125.8 450.3,128.5 450.7,130.8 451.0,132.5 451.3,133.6 451.7,134.3 452.0,134.3 452.3,133.8 452.6,132.7 453.0,131.1 453.3,129.0 453.6,126.4 454.0,123.3 454.3,119.8 454.6,115.9 454.9,111.6 455.3,107.1 455.6,102.4 455.9,97.5 456.3,92.5 456.6,87.4 456.9,82.4 457.2,77.5 457.6,72.7 457.9,68.1 458.2,63.8 458.5,59.8 458.9,56.1 459.2,52.9 459.5,50.2 459.9,47.9 460.2,46.1 460.5,44.9 460.8,44.2 461.2,44.1 461.5,44.5 461.8,45.5 462.2,47.1 462.5,49.2 462.8,51.7 463.1,54.8 463.5,58.3 463.8,62.1 464.1,66.3 464.4,70.8 464.8,75.5 465.1,80.4 465.4,85.4 465.8,90.5 466.1,95.5 466.4,100.4 466.7,105.3 467.1,109.9 467.4,114.2 467.7,118.3 468.1,122.0 468.4,125.2 468.7,128.1 469.0,130.4 469.4,132.2 469.7,133.5 470.0,134.2 470.4,134.4 470.7,134.0 471.0,133.1 471.3,131.6 471.7,129.6 472.0,127.0 472.3,124.0 472.6,120.6 473.0,116.8 473.3,112.6 473.6,108.2 474.0,103.5 474.3,98.6 474.6,93.6 474.9,88.5 475.3,83.5 475.6,78.5 475.9,73.7 476.3,69.1 476.6,64.7 476.9,60.6 477.2,56.9 477.6,53.5 477.9,50.7 478.2,48.3 478.5,46.4 478.9,45.0 479.2,44.2 479.5,44.0 479.9,44.3 480.2,45.2 480.5,46.6 480.8,48.6 481.2,51.1 481.5,54.0 481.8,57.4 482.2,61.2 482.5,65.3 482.8,69.8 483.1,74.5 483.5,79.3 483.8,84.3 484.1,89.4 484.5,94.4 484.8,99.4 485.1,104.2 485.4,108.9 485.8,113.3 486.1,117.5 486.4,121.2 486.7,124.6 487.1,127.5 487.4,130.0 487.7,131.9 488.1,133.3 488.4,134.2 488.7,134.5 489.0,134.2 489.4,133.4 489.7,132.0 490.0,130.1 490.4,127.7 490.7,124.8 491.0,121.5 491.3,117.7 491.7,113.6 492.0,109.2 492.3,104.5 492.6,99.7 493.0,94.7 493.3,89.6 493.6,84.6 494.0,79.6 494.3,74.7 494.6,70.0 494.9,65.6 495.3,61.4 495.6,57.6 495.9,54.2 496.3,51.2 496.6,48.7 496.9,46.7 497.2,45.2 497.6,44.3 497.9,43.9 498.2,44.1 498.6,44.9 498.9,46.2 499.2,48.1 499.5,50.4 499.9,53.3 500.2,56.6 500.5,60.3 500.8,64.4 501.2,68.8 501.5,73.4 501.8,78.2 502.2,83.2 502.5,88.2 502.8,93.3 503.1,98.3 503.5,103.2 503.8,107.9 504.1,112.4 504.5,116.6 504.8,120.5 505.1,124.0 505.4,127.0 505.8,129.6 506.1,131.6 506.4,133.2 506.7,134.1 507.1,134.6 507.4,134.4 507.7,133.7 508.1,132.5 508.4,130.7 508.7,128.3 509.0,125.5 509.4,122.3 509.7,118.6 510.0,114.6 510.4,110.2 510.7,105.6 511.0,100.8 511.3,95.8 511.7,90.8 512.0,85.7 512.3,80.7 512.6,75.8 513.0,71.0 513.3,66.5 513.6,62.2 514.0,58.3 514.3,54.8 514.6,51.7 514.9,49.1 515.3,47.0 515.6,45.4 515.9,44.4 516.3,43.9 516.6,44.0 516.9,44.6 517.2,45.8 517.6,47.5 517.9,49.8 518.2,52.6 518.6,55.8 518.9,59.4 519.2,63.4 519.5,67.7 519.9,72.3 520.2,77.1 520.5,82.1 520.8,87.1 521.2,92.2 521.5,97.2 521.8,102.2 522.2,107.0 522.5,111.5 522.8,115.8 523.1,119.7 523.5,123.3 523.8,126.4 524.1,129.1 524.5,131.3 524.8,132.9 525.1,134.0 525.4,134.6 525.8,134.6 526.1,134.0 526.4,132.8 526.7,131.2 527.1,128.9 527.4,126.2 527.7,123.1 528.1,119.5 528.4,115.5 528.7,111.2 529.0,106.6 529.4,101.9 529.7,96.9 530.0,91.9 530.4,86.8 530.7,81.7 531.0,76.8 531.3,72.0 531.7,67.4 532.0,63.1 532.3,59.1 532.7,55.5 533.0,52.3 533.3,49.6 533.6,47.3 534.0,45.6 534.3,44.5 534.6,43.9 534.9,43.8 535.3,44.3 535.6,45.4 535.9,47.0 536.3,49.2 536.6,51.9 536.9,55.0 537.2,58.5 537.6,62.5 537.9,66.7 538.2,71.3 538.6,76.0 538.9,81.0 539.2,86.0 539.5,91.1 539.9,96.2 540.2,101.1 540.5,106.0 540.8,110.6 541.2,114.9 541.5,118.9 541.8,122.6 542.2,125.8 542.5,128.6 542.8,130.9 543.1,132.7 543.5,133.9 543.8,134.6 544.1,134.7 544.5,134.2 544.8,133.2 545.1,131.6 545.4,129.5 545.8,126.9 546.1,123.9 546.4,120.4 546.8,116.5 547.1,112.2 547.4,107.7 547.7,102.9 548.1,98.0 548.4,93.0 548.7,87.9 549.0,82.8 549.4,77.8 549.7,73.0 550.0,68.4 550.4,64.0 550.7,59.9 551.0,56.2 551.3,52.9 551.7,50.1 552.0,47.7 552.3,45.9 552.7,44.6 553.0,43.9 553.3,43.7 553.6,44.1 554.0,45.1 554.3,46.6 554.6,48.6 554.9,51.2 555.3,54.2 555.6,57.7 555.9,61.5 556.3,65.7 556.6,70.2 556.9,75.0 557.2,79.9 557.6,84.9 557.9,90.0 558.2,95.1 558.6,100.1 558.9,104.9 559.2,109.6 559.5,114.0 559.9,118.1 560.2,121.9 560.5,125.2 560.9,128.1 561.2,130.5 561.5,132.4 561.8,133.7 562.2,134.5 562.5,134.8 562.8,134.4 563.1,133.5 563.5,132.1 563.8,130.1 564.1,127.6 564.5,124.6 564.8,121.2 565.1,117.4 565.4,113.2 565.8,108.7 566.1,104.0 566.4,99.1 566.8,94.1 567.1,89.0 567.4,83.9 567.7,78.9 568.1,74.0 568.4,69.3 568.7,64.9 569.0,60.8 569.4,57.0 569.7,53.6 570.0,50.6 570.4,48.2 570.7,46.2 571.0,44.8 571.3,44.0 571.7,43.7 572.0,44.0 572.3,44.8 572.7,46.2 573.0,48.1 573.3,50.6 573.6,53.5 574.0,56.9 574.3,60.6 574.6,64.8 575.0,69.2 575.3,73.9 575.6,78.8 575.9,83.8 576.3,88.9 576.6,94.0 576.9,99.0 577.2,103.9 577.6,108.6 577.9,113.1 578.2,117.3 578.6,121.1 578.9,124.5 579.2,127.5 579.5,130.0 579.9,132.0 580.2,133.5 580.5,134.4 580.9,134.8 581.2,134.6 581.5,133.8 581.8,132.4 582.2,130.6 582.5,128.2 582.8,125.3 583.1,122.0 583.5,118.2 583.8,114.1 584.1,109.7 584.5,105.1 584.8,100.2 585.1,95.2 585.4,90.1 585.8,85.0 586.1,80.0 586.4,75.1 586.8,70.4 587.1,65.8 587.4,61.6 587.7,57.8 588.1,54.3 588.4,51.2 588.7,48.7 589.0,46.6 589.4,45.1 589.7,44.1 590.0,43.7 590.4,43.8 590.7,44.6 591.0,45.8 591.3,47.7 591.7,50.0 592.0,52.8 592.3,56.1 592.7,59.8 593.0,63.9 593.3,68.2 593.6,72.9 594.0,77.7 594.3,82.7 594.6,87.8 595.0,92.9 595.3,97.9 595.6,102.8 595.9,107.6 596.3,112.1 596.6,116.4 596.9,120.3 597.2,123.8 597.6,126.9 597.9,129.5 598.2,131.6 598.6,133.2 598.9,134.3 599.2,134.7 599.5,134.7 599.9,134.0 600.2,132.8 600.5,131.0 600.9,128.7 601.2,126.0 601.5,122.7 601.8,119.1 602.2,115.1 602.5,110.7 602.8,106.1 603.1,101.3 603.5,96.3 603.8,91.2 604.1,86.2 604.5,81.1 604.8,76.2 605.1,71.4 605.4,66.8 605.8,62.5 606.1,58.6 606.4,55.0 606.8,51.9 607.1,49.2 607.4,47.0 607.7,45.4 608.1,44.3 608.4,43.7 608.7,43.8 609.1,44.4 609.4,45.5 609.7,47.2 610.0,49.4 610.4,52.2 610.7,55.3 611.0,58.9 611.3,62.9 611.7,67.2 612.0,71.8 612.3,76.6 612.7,81.6 613.0,86.7 613.3,91.7 613.6,96.8 614.0,101.8 614.3,106.6 614.6,111.2 615.0,115.5 615.3,119.5 615.6,123.1 615.9,126.3 616.3,129.0 616.6,131.2 616.9,132.9 617.2,134.1 617.6,134.7 617.9,134.7 618.2,134.2 618.6,133.1 618.9,131.5 619.2,129.3 619.5,126.6 619.9,123.5 620.2,119.9 620.5,116.0 620.9,111.7 621.2,107.1 621.5,102.3 621.8,97.4 622.2,92.4 622.5,87.3 622.8,82.2 623.2,77.2 623.5,72.4 623.8,67.8 624.1,63.4 624.5,59.4 624.8,55.8 625.1,52.5 625.4,49.7 625.8,47.5 626.1,45.7 626.4,44.5 626.8,43.8 627.1,43.7 627.4,44.2 627.7,45.2 628.1,46.8 628.4,48.9 628.7,51.5 629.1,54.6 629.4,58.1 629.7,62.0 630.0,66.3 630.4,70.8 630.7,75.6 631.0,80.5 631.3,85.5 631.7,90.6 632.0,95.7 632.3,100.7 632.7,105.5 633.0,110.2 633.3,114.6 633.6,118.6 634.0,122.3 634.3,125.6 634.6,128.4 635.0,130.8 635.3,132.6 635.6,133.9 635.9,134.6 636.3,134.8 636.6,134.4 636.9,133.4 637.3,131.9 637.6,129.8 637.9,127.2 638.2,124.2 638.6,120.7 638.9,116.9 639.2,112.7 639.5,108.1 639.9,103.4 640.2,98.5 640.5,93.5 640.9,88.4 641.2,83.3 641.5,78.3 641.8,73.4 642.2,68.8 642.5,64.4 642.8,60.3 643.2,56.5 643.5,53.2 643.8,50.3 644.1,47.9 644.5,46.0 644.8,44.7 645.1,43.9 645.4,43.7 645.8,44.0 646.1,44.9 646.4,46.4 646.8,48.4 647.1,50.9 647.4,53.9 647.7,57.3 648.1,61.1 648.4,65.3 648.7,69.8 649.1,74.5 649.4,79.4 649.7,84.4 650.0,89.5 650.4,94.6 650.7,99.6 651.0,104.5 651.4,109.2 651.7,113.6 652.0,117.8 652.3,121.5 652.7,124.9 653.0,127.9 653.3,130.3 653.6,132.2 654.0,133.6 654.3,134.5 654.6,134.8 655.0,134.5 655.3,133.6 655.6,132.2 655.9,130.3 656.3,127.8 656.6,124.9 656.9,121.5 657.3,117.7 657.6,113.6 657.9,109.2 658.2,104.5 658.6,99.6 658.9,94.6 659.2,89.5 659.5,84.4 659.9,79.4 660.2,74.5 660.5,69.8 660.9,65.3 661.2,61.1 661.5,57.3 661.8,53.9 662.2,50.9 662.5,48.4 662.8,46.4 663.2,44.9 663.5,44.0 663.8,43.7 664.1,43.9 664.5,44.7 664.8,46.0 665.1,47.9 665.4,50.3 665.8,53.2 666.1,56.5 666.4,60.3 666.8,64.4 667.1,68.8 667.4,73.5 667.7,78.3 668.1,83.3 668.4,88.4 668.7,93.5 669.1,98.5 669.4,103.4 669.7,108.2 670.0,112.7 670.4,116.9 670.7,120.7 671.0,124.2 671.4,127.3 671.7,129.8"/>
<polyline fill="none" stroke="#ff0000" stroke-width="2.55" stroke-linejoin="round" points="81.8,51.3 82.1,54.0 82.4,57.2 82.8,60.8 83.1,64.7 83.4,68.9 83.8,73.4 84.1,78.1 84.4,83.0 84.7,87.9 85.1,92.8 85.4,97.7 85.7,102.4 86.1,107.1 86.4,111.4 86.7,115.6 87.0,119.3 87.4,122.8 87.7,125.7 88.0,128.3 88.3,130.3 88.7,131.9 89.0,132.9 89.3,133.3 89.7,133.2 90.0,132.6 90.3,131.4 90.6,129.7 91.0,127.5 91.3,124.8 91.6,121.6 92.0,118.1 92.3,114.2 92.6,110.0 92.9,105.5 93.3,100.8 93.6,96.0 93.9,91.1 94.3,86.2 94.6,81.3 94.9,76.5 95.2,71.9 95.6,67.5 95.9,63.3 96.2,59.5 96.5,56.1 96.9,53.0 97.2,50.4 97.5,48.3 97.9,46.7 98.2,45.7 98.5,45.2 98.8,45.2 99.2,45.8 99.5,46.9 99.8,48.6 100.2,50.7 100.5,53.4 100.8,56.4 101.1,59.9 101.5,63.8 101.8,68.0 102.1,72.4 102.4,77.1 102.8,81.9 103.1,86.8 103.4,91.7 103.8,96.6 104.1,101.4 104.4,106.1 104.7,110.5 105.1,114.7 105.4,118.5 105.7,122.0 106.1,125.1 106.4,127.8 106.7,129.9 107.0,131.6 107.4,132.7 107.7,133.3 108.0,133.3 108.4,132.8 108.7,131.7 109.0,130.1 109.3,128.0 109.7,125.4 110.0,122.4 110.3,118.9 110.6,115.1 111.0,110.9 111.3,106.5 111.6,101.9 112.0,97.1 112.3,92.2 112.6,87.3 112.9,82.4 113.3,77.6 113.6,72.9 113.9,68.4 114.3,64.2 114.6,60.3 114.9,56.8 115.2,53.6 115.6,51.0 115.9,48.8 116.2,47.0 116.5,45.9 116.9,45.2 117.2,45.1 117.5,45.6 117.9,46.6 118.2,48.2 118.5,50.2 118.8,52.7 119.2,55.7 119.5,59.1 119.8,62.9 120.2,67.0 120.5,71.4 120.8,76.1 121.1,80.8 121.5,85.7 121.8,90.6 122.1,95.5 122.5,100.4 122.8,105.1 123.1,109.6 123.4,113.8 123.8,117.7 124.1,121.3 124.4,124.5 124.7,127.2 125.1,129.5 125.4,131.2 125.7,132.5 126.1,133.2 126.4,133.3 126.7,132.9 127.0,132.0 127.4,130.5 127.7,128.5 128.0,126.0 128.4,123.1 128.7,119.7 129.0,115.9 129.3,111.9 129.7,107.5 130.0,102.9 130.3,98.1 130.6,93.3 131.0,88.4 131.3,83.4 131.6,78.6 132.0,73.9 132.3,69.4 132.6,65.1 132.9,61.1 133.3,57.5 133.6,54.3 133.9,51.5 134.3,49.2 134.6,47.4 134.9,46.1 135.2,45.3 135.6,45.1 135.9,45.5 136.2,46.3 136.6,47.8 136.9,49.7 137.2,52.1 137.5,55.0 137.9,58.4 138.2,62.1 138.5,66.1 138.8,70.5 139.2,75.0 139.5,79.8 139.8,84.6 140.2,89.6 140.5,94.5 140.8,99.3 141.1,104.1 141.5,108.6 141.8,112.9 142.1,116.9 142.5,120.6 142.8,123.8 143.1,126.7 143.4,129.0 143.8,130.9 144.1,132.3 144.4,133.1 144.7,133.3 145.1,133.1 145.4,132.2 145.7,130.9 146.1,129.0 146.4,126.6 146.7,123.7 147.0,120.5 147.4,116.8 147.7,112.8 148.0,108.5 148.4,103.9 148.7,99.2 149.0,94.3 149.3,89.4 149.7,84.5 150.0,79.6 150.3,74.9 150.7,70.3 151.0,66.0 151.3,62.0 151.6,58.3 152.0,55.0 152.3,52.1 152.6,49.7 152.9,47.7 153.3,46.3 153.6,45.4 153.9,45.1 154.3,45.3 154.6,46.1 154.9,47.4 155.2,49.2 155.6,51.6 155.9,54.4 156.2,57.6 156.6,61.2 156.9,65.2 157.2,69.5 157.5,74.0 157.9,78.7 158.2,83.6 158.5,88.5 158.8,93.4 159.2,98.3 159.5,103.0 159.8,107.6 160.2,112.0 160.5,116.0 160.8,119.8 161.1,123.1 161.5,126.1 161.8,128.6 162.1,130.5 162.5,132.0 162.8,132.9 163.1,133.3 163.4,133.2 163.8,132.5 164.1,131.2 164.4,129.4 164.8,127.2 165.1,124.4 165.4,121.2 165.7,117.6 166.1,113.7 166.4,109.4 166.7,104.9 167.0,100.3 167.4,95.4 167.7,90.5 168.0,85.6 168.4,80.7 168.7,75.9 169.0,71.3 169.3,66.9 169.7,62.8 170.0,59.1 170.3,55.7 170.7,52.7 171.0,50.1 171.3,48.1 171.6,46.6 172.0,45.6 172.3,45.1 172.6,45.2 172.9,45.9 173.3,47.1 173.6,48.8 173.9,51.0 174.3,53.7 174.6,56.9 174.9,60.4 175.2,64.3 175.6,68.5 175.9,73.0 176.2,77.7 176.6,82.5 176.9,87.4 177.2,92.3 177.5,97.2 177.9,102.0 178.2,106.6 178.5,111.0 178.8,115.2 179.2,119.0 179.5,122.4 179.8,125.5 180.2,128.1 180.5,130.1 180.8,131.7 181.1,132.8 181.5,133.3 181.8,133.2 182.1,132.7 182.5,131.5 182.8,129.9 183.1,127.7 183.4,125.0 183.8,122.0 184.1,118.5 184.4,114.6 184.8,110.4 185.1,106.0 185.4,101.3 185.7,96.5 186.1,91.6 186.4,86.7 186.7,81.8 187.0,77.0 187.4,72.3 187.7,67.9 188.0,63.7 188.4,59.8 188.7,56.4 189.0,53.3 189.3,50.6 189.7,48.5 190.0,46.9 190.3,45.7 190.7,45.2 191.0,45.2 191.3,45.7 191.6,46.8 192.0,48.4 192.3,50.5 192.6,53.1 192.9,56.1 193.3,59.6 193.6,63.4 193.9,67.6 194.3,72.0 194.6,76.6 194.9,81.4 195.2,86.3 195.6,91.3 195.9,96.2 196.2,101.0 196.6,105.7 196.9,110.1 197.2,114.3 197.5,118.2 197.9,121.8 198.2,124.9 198.5,127.6 198.9,129.8 199.2,131.5 199.5,132.6 199.8,133.3 200.2,133.3 200.5,132.9 200.8,131.9 201.1,130.3 201.5,128.3 201.8,125.7 202.1,122.7 202.5,119.3 202.8,115.5 203.1,111.4 203.4,107.0 203.8,102.3 204.1,97.6 204.4,92.7 204.8,87.7 205.1,82.8 205.4,78.0 205.7,73.3 206.1,68.8 206.4,64.6 206.7,60.6 207.0,57.0 207.4,53.9 207.7,51.1 208.0,48.9 208.4,47.1 208.7,45.9 209.0,45.2 209.3,45.1 209.7,45.5 210.0,46.4 210.3,47.9 210.7,49.9 211.0,52.4 211.3,55.4 211.6,58.8 212.0,62.5 212.3,66.6 212.6,71.0 213.0,75.6 213.3,80.4 213.6,85.2 213.9,90.2 214.3,95.1 214.6,99.9 214.9,104.7 215.2,109.2 215.6,113.5 215.9,117.4 216.2,121.1 216.6,124.3 216.9,127.1 217.2,129.4 217.5,131.2 217.9,132.5 218.2,133.2 218.5,133.4 218.9,133.1 219.2,132.2 219.5,130.8 219.8,128.8 220.2,126.4 220.5,123.4 220.8,120.1 221.1,116.4 221.5,112.3 221.8,108.0 222.1,103.4 222.5,98.6 222.8,93.7 223.1,88.8 223.4,83.9 223.8,79.0 224.1,74.3 224.4,69.7 224.8,65.4 225.1,61.4 225.4,57.7 225.7,54.5 226.1,51.6 226.4,49.3 226.7,47.4 227.1,46.0 227.4,45.2 227.7,45.0 228.0,45.3 228.4,46.1 228.7,47.5 229.0,49.4 229.3,51.8 229.7,54.6 230.0,57.9 230.3,61.6 230.7,65.6 231.0,70.0 231.3,74.5 231.6,79.3 232.0,84.2 232.3,89.1 232.6,94.0 233.0,98.9 233.3,103.7 233.6,108.2 233.9,112.6 234.3,116.6 234.6,120.3 234.9,123.7 235.2,126.6 235.6,129.0 235.9,130.9 236.2,132.3 236.6,133.2 236.9,133.5 237.2,133.3 237.5,132.5 237.9,131.2 238.2,129.3 238.5,127.0 238.9,124.2 239.2,120.9 239.5,117.3 239.8,113.3 240.2,109.0 240.5,104.4 240.8,99.7 241.2,94.8 241.5,89.9 241.8,85.0 242.1,80.1 242.5,75.3 242.8,70.7 243.1,66.3 243.4,62.2 243.8,58.5 244.1,55.1 244.4,52.2 244.8,49.7 245.1,47.7 245.4,46.2 245.7,45.3 246.1,44.9 246.4,45.1 246.7,45.8 247.1,47.1 247.4,48.9 247.7,51.2 248.0,53.9 248.4,57.1 248.7,60.7 249.0,64.7 249.3,69.0 249.7,73.5 250.0,78.2 250.3,83.1 250.7,88.0 251.0,93.0 251.3,97.9 251.6,102.7 252.0,107.3 252.3,111.7 252.6,115.8 253.0,119.6 253.3,123.0 253.6,126.0 253.9,128.6 254.3,130.6 254.6,132.1 254.9,133.1 255.2,133.6 255.6,133.4 255.9,132.8 256.2,131.6 256.6,129.8 256.9,127.6 257.2,124.9 257.5,121.7 257.9,118.1 258.2,114.2 258.5,110.0 258.9,105.5 259.2,100.8 259.5,95.9 259.8,91.0 260.2,86.0 260.5,81.1 260.8,76.3 261.2,71.6 261.5,67.2 261.8,63.0 262.1,59.2 262.5,55.7 262.8,52.7 263.1,50.1 263.4,48.0 263.8,46.4 264.1,45.4 264.4,44.9 264.8,44.9 265.1,45.5 265.4,46.7 265.7,48.4 266.1,50.5 266.4,53.2 266.7,56.3 267.1,59.9 267.4,63.8 267.7,68.0 268.0,72.5 268.4,77.2 268.7,82.0 269.0,86.9 269.3,91.9 269.7,96.8 270.0,101.6 270.3,106.3 270.7,110.8 271.0,115.0 271.3,118.9 271.6,122.4 272.0,125.5 272.3,128.1 272.6,130.3 273.0,131.9 273.3,133.0 273.6,133.6 273.9,133.6 274.3,133.0 274.6,132.0 274.9,130.3 275.3,128.2 275.6,125.6 275.9,122.5 276.2,119.0 276.6,115.1 276.9,111.0 277.2,106.5 277.5,101.8 277.9,97.0 278.2,92.1 278.5,87.1 278.9,82.2 279.2,77.3 279.5,72.6 279.8,68.1 280.2,63.9 280.5,60.0 280.8,56.4 281.2,53.3 281.5,50.6 281.8,48.4 282.1,46.7 282.5,45.5 282.8,44.9 283.1,44.8 283.4,45.3 283.8,46.3 284.1,47.9 284.4,50.0 284.8,52.5 285.1,55.6 285.4,59.0 285.7,62.8 286.1,67.0 286.4,71.4 286.7,76.1 287.1,80.9 287.4,85.8 287.7,90.8 288.0,95.8 288.4,100.6 288.7,105.3 289.0,109.9 289.4,114.1 289.7,118.1 290.0,121.7 290.3,124.9 290.7,127.6 291.0,129.9 291.3,131.6 291.6,132.9 292.0,133.6 292.3,133.7 292.6,133.3 293.0,132.3 293.3,130.8 293.6,128.8 293.9,126.2 294.3,123.3 294.6,119.9 294.9,116.1 295.3,111.9 295.6,107.5 295.9,102.9 296.2,98.1 296.6,93.2 296.9,88.2 297.2,83.2 297.5,78.3 297.9,73.6 298.2,69.1 298.5,64.8 298.9,60.8 299.2,57.1 299.5,53.9 299.8,51.1 300.2,48.8 300.5,46.9 300.8,45.6 301.2,44.9 301.5,44.7 301.8,45.1 302.1,46.0 302.5,47.4 302.8,49.4 303.1,51.9 303.5,54.8 303.8,58.2 304.1,61.9 304.4,66.0 304.8,70.4 305.1,75.0 305.4,79.8 305.7,84.7 306.1,89.7 306.4,94.7 306.7,99.6 307.1,104.3 307.4,108.9 307.7,113.3 308.0,117.3 308.4,121.0 308.7,124.3 309.0,127.1 309.4,129.5 309.7,131.4 310.0,132.7 310.3,133.5 310.7,133.8 311.0,133.5 311.3,132.6 311.6,131.2 312.0,129.3 312.3,126.9 312.6,124.0 313.0,120.7 313.3,117.0 313.6,112.9 313.9,108.5 314.3,103.9 314.6,99.2 314.9,94.2 315.3,89.3 315.6,84.3 315.9,79.4 316.2,74.6 316.6,70.0 316.9,65.6 317.2,61.6 317.6,57.8 317.9,54.5 318.2,51.6 318.5,49.2 318.9,47.2 319.2,45.8 319.5,44.9 319.8,44.6 320.2,44.9 320.5,45.7 320.8,47.0 321.2,48.9 321.5,51.2 321.8,54.1 322.1,57.4 322.5,61.0 322.8,65.1 323.1,69.4 323.5,74.0 323.8,78.8 324.1,83.7 324.4,88.6 324.8,93.6 325.1,98.5 325.4,103.3 325.7,108.0 326.1,112.4 326.4,116.5 326.7,120.3 327.1,123.6 327.4,126.6 327.7,129.1 328.0,131.1 328.4,132.6 328.7,133.5 329.0,133.9 329.4,133.7 329.7,132.9 330.0,131.7 330.3,129.9 330.7,127.5 331.0,124.7 331.3,121.5 331.7,117.9 332.0,113.9 332.3,109.6 332.6,105.0 333.0,100.2 333.3,95.3 333.6,90.4 333.9,85.4 334.3,80.4 334.6,75.6 334.9,71.0 335.3,66.5 335.6,62.4 335.9,58.6 336.2,55.1 336.6,52.1 336.9,49.6 337.2,47.5 337.6,46.0 337.9,45.0 338.2,44.6 338.5,44.7 338.9,45.4 339.2,46.6 339.5,48.3 339.8,50.6 340.2,53.3 340.5,56.5 340.8,60.1 341.2,64.1 341.5,68.4 341.8,72.9 342.1,77.7 342.5,82.6 342.8,87.5 343.1,92.5 343.5,97.5 343.8,102.3 344.1,107.0 344.4,111.5 344.8,115.7 345.1,119.5 345.4,123.0 345.7,126.1 346.1,128.7 346.4,130.8 346.7,132.4 347.1,133.4 347.4,133.9 347.7,133.8 348.0,133.2 348.4,132.1 348.7,130.4 349.0,128.2 349.4,125.5 349.7,122.3 350.0,118.7 350.3,114.8 350.7,110.6 351.0,106.0 351.3,101.3 351.7,96.4 352.0,91.5 352.3,86.5 352.6,81.5 353.0,76.6 353.3,71.9 353.6,67.4 353.9,63.2 354.3,59.3 354.6,55.8 354.9,52.7 355.3,50.0 355.6,47.9 355.9,46.2 356.2,45.1 356.6,44.5 356.9,44.5 357.2,45.1 357.6,46.2 357.9,47.8 358.2,50.0 358.5,52.6 358.9,55.8 359.2,59.3 359.5,63.2 359.8,67.4 360.2,71.9 360.5,76.6 360.8,81.5 361.2,86.4 361.5,91.4 361.8,96.4 362.1,101.3 362.5,106.0 362.8,110.6 363.1,114.8 363.5,118.8 363.8,122.3 364.1,125.5 364.4,128.2 364.8,130.4 365.1,132.1 365.4,133.3 365.8,133.9 366.1,134.0 366.4,133.5 366.7,132.4 367.1,130.9 367.4,128.7 367.7,126.1 368.0,123.1 368.4,119.6 368.7,115.7 369.0,111.6 369.4,107.1 369.7,102.4 370.0,97.5 370.3,92.6 370.7,87.6 371.0,82.6 371.3,77.7 371.7,72.9 372.0,68.4 372.3,64.1 372.6,60.1 373.0,56.5 373.3,53.3 373.6,50.5 373.9,48.2 374.3,46.5 374.6,45.2 374.9,44.5 375.3,44.4 375.6,44.8 375.9,45.8 376.2,47.4 376.6,49.4 376.9,52.0 377.2,55.0 377.6,58.4 377.9,62.2 378.2,66.4 378.5,70.9 378.9,75.5 379.2,80.4 379.5,85.3 379.9,90.3 380.2,95.3 380.5,100.3 380.8,105.0 381.2,109.6 381.5,114.0 381.8,118.0 382.1,121.6 382.5,124.9 382.8,127.7 383.1,130.0 383.5,131.9 383.8,133.2 384.1,133.9 384.4,134.1 384.8,133.7 385.1,132.8 385.4,131.3 385.8,129.3 386.1,126.8 386.4,123.9 386.7,120.5 387.1,116.7 387.4,112.5 387.7,108.1 388.0,103.5 388.4,98.6 388.7,93.7 389.0,88.7 389.4,83.6 389.7,78.7 390.0,73.9 390.3,69.3 390.7,64.9 391.0,60.9 391.3,57.2 391.7,53.9 392.0,51.0 392.3,48.6 392.6,46.7 393.0,45.4 393.3,44.6 393.6,44.3 394.0,44.6 394.3,45.5 394.6,46.9 394.9,48.9 395.3,51.3 395.6,54.2 395.9,57.6 396.2,61.3 396.6,65.4 396.9,69.8 397.2,74.5 397.6,79.3 397.9,84.2 398.2,89.3 398.5,94.3 398.9,99.2 399.2,104.0 399.5,108.7 399.9,113.1 400.2,117.2 400.5,120.9 400.8,124.3 401.2,127.2 401.5,129.6 401.8,131.6 402.1,133.0 402.5,133.9 402.8,134.2 403.1,133.9 403.5,133.1 403.8,131.8 404.1,129.9 404.4,127.5 404.8,124.6 405.1,121.3 405.4,117.6 405.8,113.5 406.1,109.1 406.4,104.5 406.7,99.7 407.1,94.8 407.4,89.7 407.7,84.7 408.1,79.8 408.4,74.9 408.7,70.3 409.0,65.8 409.4,61.7 409.7,57.9 410.0,54.5 410.3,51.5 410.7,49.0 411.0,47.0 411.3,45.5 411.7,44.6 412.0,44.3 412.3,44.4 412.6,45.2 413.0,46.5 413.3,48.3 413.6,50.7 414.0,53.5 414.3,56.8 414.6,60.4 414.9,64.5 415.3,68.8 415.6,73.4 415.9,78.2 416.2,83.1 416.6,88.2 416.9,93.2 417.2,98.2 417.6,103.0 417.9,107.7 418.2,112.2 418.5,116.3 418.9,120.2 419.2,123.6 419.5,126.7 419.9,129.2 420.2,131.3 420.5,132.8 420.8,133.8 421.2,134.2 421.5,134.1 421.8,133.4 422.1,132.2 422.5,130.4 422.8,128.1 423.1,125.3 423.5,122.1 423.8,118.5 424.1,114.5 424.4,110.1 424.8,105.6 425.1,100.8 425.4,95.9 425.8,90.9 426.1,85.8 426.4,80.8 426.7,76.0 427.1,71.2 427.4,66.7 427.7,62.5 428.1,58.6 428.4,55.1 428.7,52.1 429.0,49.5 429.4,47.4 429.7,45.8 430.0,44.7 430.3,44.2 430.7,44.3 431.0,44.9 431.3,46.1 431.7,47.8 432.0,50.0 432.3,52.8 432.6,56.0 433.0,59.6 433.3,63.5 433.6,67.8 434.0,72.4 434.3,77.1 434.6,82.0 434.9,87.0 435.3,92.1 435.6,97.1 435.9,102.0 436.2,106.7 436.6,111.2 436.9,115.5 437.2,119.4 437.6,123.0 437.9,126.1 438.2,128.8 438.5,130.9 438.9,132.6 439.2,133.7 439.5,134.2 439.9,134.2 440.2,133.7 440.5,132.5 440.8,130.9 441.2,128.7 441.5,126.0 441.8,122.9 442.2,119.3 442.5,115.4 442.8,111.1 443.1,106.6 443.5,101.9 443.8,97.0 444.1,92.0 444.4,86.9 444.8,81.9 445.1,77.0 445.4,72.2 445.8,67.7 446.1,63.4 446.4,59.4 446.7,55.8 447.1,52.7 447.4,49.9 447.7,47.7 448.1,46.0 448.4,44.8 448.7,44.2 449.0,44.1 449.4,44.7 449.7,45.7 450.0,47.3 450.3,49.5 450.7,52.1 451.0,55.2 451.3,58.7 451.7,62.6 452.0,66.8 452.3,71.3 452.6,76.0 453.0,80.9 453.3,85.9 453.6,91.0 454.0,96.0 454.3,100.9 454.6,105.7 454.9,110.3 455.3,114.6 455.6,118.6 455.9,122.3 456.3,125.5 456.6,128.3 456.9,130.6 457.2,132.3 457.6,133.6 457.9,134.2 458.2,134.4 458.5,133.9 458.9,132.9 459.2,131.4 459.5,129.3 459.9,126.7 460.2,123.7 460.5,120.2 460.8,116.3 461.2,112.1 461.5,107.7 461.8,102.9 462.2,98.1 462.5,93.1 462.8,88.0 463.1,83.0 463.5,78.0 463.8,73.2 464.1,68.6 464.4,64.3 464.8,60.2 465.1,56.5 465.4,53.2 465.8,50.4 466.1,48.1 466.4,46.3 466.7,45.0 467.1,44.2 467.4,44.0 467.7,44.4 468.1,45.4 468.4,46.9 468.7,48.9 469.0,51.4 469.4,54.4 469.7,57.8 470.0,61.7 470.4,65.8 470.7,70.3 471.0,75.0 471.3,79.8 471.7,84.8 472.0,89.9 472.3,94.9 472.6,99.9 473.0,104.7 473.3,109.4 473.6,113.8 474.0,117.8 474.3,121.6 474.6,124.9 474.9,127.8 475.3,130.2 475.6,132.1 475.9,133.4 476.3,134.2 476.6,134.5 476.9,134.1 477.2,133.2 477.6,131.8 477.9,129.9 478.2,127.4 478.5,124.4 478.9,121.0 479.2,117.3 479.5,113.1 479.9,108.7 480.2,104.0 480.5,99.2 480.8,94.2 481.2,89.1 481.5,84.1 481.8,79.1 482.2,74.2 482.5,69.6 482.8,65.1 483.1,61.0 483.5,57.2 483.8,53.9 484.1,50.9 484.5,48.5 484.8,46.5 485.1,45.1 485.4,44.3 485.8,44.0 486.1,44.2 486.4,45.0 486.7,46.4 487.1,48.3 487.4,50.7 487.7,53.6 488.1,57.0 488.4,60.7 488.7,64.8 489.0,69.2 489.4,73.9 489.7,78.7 490.0,83.7 490.4,88.8 490.7,93.8 491.0,98.8 491.3,103.7 491.7,108.4 492.0,112.9 492.3,117.0 492.6,120.8 493.0,124.3 493.3,127.2 493.6,129.8 494.0,131.8 494.3,133.2 494.6,134.2 494.9,134.5 495.3,134.3 495.6,133.6 495.9,132.2 496.3,130.4 496.6,128.0 496.9,125.2 497.2,121.9 497.6,118.2 497.9,114.1 498.2,109.7 498.6,105.1 498.9,100.2 499.2,95.3 499.5,90.2 499.9,85.2 500.2,80.2 500.5,75.3 500.8,70.5 501.2,66.0 501.5,61.8 501.8,58.0 502.2,54.5 502.5,51.5 502.8,48.9 503.1,46.8 503.5,45.3 503.8,44.3 504.1,43.9 504.5,44.0 504.8,44.7 505.1,46.0 505.4,47.8 505.8,50.1 506.1,52.9 506.4,56.2 506.7,59.8 507.1,63.9 507.4,68.2 507.7,72.8 508.1,77.7 508.4,82.6 508.7,87.7 509.0,92.7 509.4,97.8 509.7,102.7 510.0,107.4 510.4,111.9 510.7,116.2 511.0,120.1 511.3,123.6 511.7,126.7 512.0,129.3 512.3,131.4 512.6,133.0 513.0,134.1 513.3,134.6 513.6,134.5 514.0,133.8 514.3,132.6 514.6,130.9 514.9,128.6 515.3,125.9 515.6,122.7 515.9,119.1 516.3,115.1 516.6,110.7 516.9,106.1 517.2,101.3 517.6,96.4 517.9,91.3 518.2,86.3 518.6,81.2 518.9,76.3 519.2,71.5 519.5,67.0 519.9,62.7 520.2,58.8 520.5,55.2 520.8,52.0 521.2,49.4 521.5,47.2 521.8,45.5 522.2,44.4 522.5,43.9 522.8,43.9 523.1,44.5 523.5,45.6 523.8,47.3 524.1,49.5 524.5,52.2 524.8,55.4 525.1,59.0 525.4,62.9 525.8,67.2 526.1,71.8 526.4,76.6 526.7,81.5 527.1,86.6 527.4,91.6 527.7,96.7 528.1,101.6 528.4,106.4 528.7,111.0 529.0,115.3 529.4,119.3 529.7,122.9 530.0,126.1 530.4,128.8 530.7,131.1 531.0,132.8 531.3,134.0 531.7,134.6 532.0,134.6 532.3,134.1 532.7,133.0 533.0,131.4 533.3,129.2 533.6,126.6 534.0,123.5 534.3,119.9 534.6,116.0 534.9,111.7 535.3,107.2 535.6,102.4 535.9,97.5 536.3,92.5 536.6,87.4 536.9,82.3 537.2,77.3 537.6,72.5 537.9,67.9 538.2,63.6 538.6,59.5 538.9,55.9 539.2,52.6 539.5,49.9 539.9,47.6 540.2,45.8 540.5,44.6 540.8,43.9 541.2,43.8 541.5,44.2 541.8,45.2 542.2,46.8 542.5,48.9 542.8,51.5 543.1,54.6 543.5,58.1 543.8,62.0 544.1,66.2 544.5,70.7 544.8,75.5 545.1,80.4 545.4,85.4 545.8,90.5 546.1,95.6 546.4,100.6 546.8,105.4 547.1,110.1 547.4,114.4 547.7,118.5 548.1,122.2 548.4,125.5 548.7,128.3 549.0,130.7 549.4,132.5 549.7,133.8 550.0,134.6 550.4,134.7 550.7,134.3 551.0,133.4 551.3,131.9 551.7,129.8 552.0,127.3 552.3,124.2 552.7,120.8 553.0,116.9 553.3,112.7 553.6,108.2 554.0,103.5 554.3,98.6 554.6,93.6 554.9,88.5 555.3,83.4 555.6,78.4 555.9,73.5 556.3,68.9 556.6,64.5 556.9,60.4 557.2,56.6 557.6,53.3 557.9,50.4 558.2,48.0 558.6,46.1 558.9,44.7 559.2,43.9 559.5,43.7 559.9,44.0 560.2,44.9 560.5,46.4 560.9,48.4 561.2,50.9 561.5,53.8 561.8,57.3 562.2,61.1 562.5,65.2 562.8,69.7 563.1,74.4 563.5,79.3 563.8,84.3 564.1,89.4 564.5,94.5 564.8,99.5 565.1,104.4 565.4,109.1 565.8,113.5 566.1,117.7 566.4,121.5 566.8,124.9 567.1,127.8 567.4,130.3 567.7,132.2 568.1,133.6 568.4,134.5 568.7,134.8 569.0,134.5 569.4,133.7 569.7,132.3 570.0,130.3 570.4,127.9 570.7,125.0 571.0,121.6 571.3,117.8 571.7,113.7 572.0,109.3 572.3,104.6 572.7,99.7 573.0,94.7 573.3,89.6 573.6,84.5 574.0,79.5 574.3,74.6 574.6,69.9 575.0,65.4 575.3,61.2 575.6,57.4 575.9,53.9 576.3,51.0 576.6,48.4 576.9,46.4 577.2,45.0 577.6,44.0 577.9,43.7 578.2,43.9 578.6,44.7 578.9,46.0 579.2,47.9 579.5,50.3 579.9,53.1 580.2,56.5 580.5,60.2 580.9,64.3 581.2,68.7 581.5,73.4 581.8,78.2 582.2,83.2 582.5,88.3 582.8,93.4 583.1,98.4 583.5,103.3 583.8,108.1 584.1,112.6 584.5,116.8 584.8,120.7 585.1,124.1 585.4,127.2 585.8,129.8 586.1,131.8 586.4,133.4 586.8,134.3 587.1,134.8 587.4,134.6 587.7,133.9 588.1,132.6 588.4,130.8 588.7,128.5 589.0,125.6 589.4,122.4 589.7,118.7 590.0,114.6 590.4,110.2 590.7,105.6 591.0,100.8 591.3,95.8 591.7,90.7 592.0,85.6 592.3,80.6 592.7,75.6 593.0,70.9 593.3,66.3 593.6,62.1 594.0,58.2 594.3,54.7 594.6,51.6 595.0,48.9 595.3,46.8 595.6,45.2 595.9,44.2 596.3,43.7 596.6,43.8 596.9,44.5 597.2,45.7 597.6,47.4 597.9,49.7 598.2,52.5 598.6,55.7 598.9,59.3 599.2,63.4 599.5,67.7 599.9,72.3 600.2,77.1 600.5,82.1 600.9,87.2 601.2,92.3 601.5,97.3 601.8,102.3 602.2,107.1 602.5,111.6 602.8,115.9 603.1,119.9 603.5,123.4 603.8,126.6 604.1,129.2 604.5,131.4 604.8,133.1 605.1,134.2 605.4,134.7 605.8,134.7 606.1,134.1 606.4,132.9 606.8,131.2 607.1,129.0 607.4,126.3 607.7,123.1 608.1,119.5 608.4,115.5 608.7,111.2 609.1,106.6 609.4,101.8 609.7,96.9 610.0,91.8 610.4,86.7 610.7,81.7 611.0,76.7 611.3,71.9 611.7,67.3 612.0,63.0 612.3,59.0 612.7,55.4 613.0,52.2 613.3,49.5 613.6,47.2 614.0,45.5 614.3,44.4 614.6,43.8 615.0,43.7 615.3,44.3 615.6,45.4 615.9,47.0 616.3,49.2 616.6,51.8 616.9,55.0 617.2,58.5 617.6,62.5 617.9,66.7 618.2,71.3 618.6,76.1 618.9,81.0 619.2,86.1 619.5,91.2 619.9,96.2 620.2,101.2 620.5,106.0 620.9,110.6 621.2,115.0 621.5,119.0 621.8,122.7 622.2,125.9 622.5,128.7 622.8,131.0 623.2,132.8 623.5,134.0 623.8,134.6 624.1,134.7 624.5,134.3 624.8,133.2 625.1,131.7 625.4,129.6 625.8,126.9 626.1,123.9 626.4,120.3 626.8,116.4 627.1,112.2 627.4,107.7 627.7,102.9 628.1,98.0 628.4,92.9 628.7,87.8 629.1,82.8 629.4,77.8 629.7,72.9 630.0,68.3 630.4,63.9 630.7,59.9 631.0,56.2 631.3,52.9 631.7,50.0 632.0,47.7 632.3,45.9 632.7,44.6 633.0,43.8 633.3,43.7 633.6,44.1 634.0,45.1 634.3,46.6 634.6,48.6 635.0,51.2 635.3,54.2 635.6,57.7 635.9,61.6 636.3,65.8 636.6,70.3 636.9,75.0 637.3,79.9 637.6,85.0 637.9,90.0 638.2,95.1 638.6,100.1 638.9,105.0 639.2,109.7 639.5,114.1 639.9,118.2 640.2,121.9 640.5,125.2 640.9,128.1 641.2,130.5 641.5,132.4 641.8,133.8 642.2,134.5 642.5,134.8 642.8,134.4 643.2,133.5 643.5,132.1 643.8,130.1 644.1,127.6 644.5,124.6 644.8,121.1 645.1,117.3 645.4,113.1 645.8,108.7 646.1,104.0 646.4,99.1 646.8,94.0 647.1,89.0 647.4,83.9 647.7,78.9 648.1,74.0 648.4,69.3 648.7,64.9 649.1,60.7 649.4,56.9 649.7,53.5 650.0,50.6 650.4,48.2 650.7,46.2 651.0,44.8 651.4,44.0 651.7,43.7 652.0,44.0 652.3,44.8 652.7,46.2 653.0,48.1 653.3,50.6 653.6,53.5 654.0,56.9 654.3,60.7 654.6,64.8 655.0,69.3 655.3,74.0 655.6,78.8 655.9,83.9 656.3,88.9 656.6,94.0 656.9,99.0 657.3,103.9 657.6,108.7 657.9,113.1 658.2,117.3 658.6,121.1 658.9,124.6 659.2,127.5 659.5,130.0 659.9,132.0 660.2,133.5 660.5,134.4 660.9,134.8 661.2,134.6 661.5,133.8 661.8,132.4 662.2,130.5 662.5,128.1 662.8,125.3 663.2,121.9 663.5,118.2 663.8,114.1 664.1,109.7 664.5,105.0 664.8,100.1 665.1,95.1 665.4,90.1 665.8,85.0 666.1,80.0 666.4,75.0 666.8,70.3 667.1,65.8 667.4,61.6 667.7,57.7 668.1,54.2 668.4,51.2 668.7,48.7 669.1,46.6 669.4,45.1 669.7,44.1 670.0,43.7 670.4,43.8 670.7,44.6 671.0,45.9 671.4,47.7 671.7,50.0"/>
</g>
<text x="118.66" y="184.05" font-size="18" text-anchor="middle">0.1</text>
<text x="210.83" y="184.05" font-size="18" text-anchor="middle">0.2</text>
<text x="303.00" y="184.05" font-size="18" text-anchor="middle">0.3</text>
<text x="395.17" y="184.05" font-size="18" text-anchor="middle">0.4</text>
<text x="487.34" y="184.05" font-size="18" text-anchor="middle">0.5</text>
<text x="579.51" y="184.05" font-size="18" text-anchor="middle">0.6</text>
<text x="671.68" y="184.05" font-size="18" text-anchor="middle">0.7</text>
<text x="73.8" y="40.95" font-size="18" text-anchor="end">200</text>
<text x="73.8" y="96.32" font-size="18" text-anchor="end">0</text>
<text x="73.8" y="151.70" font-size="18" text-anchor="end">-200</text>
<text x="376.50" y="12.80" font-size="20" text-anchor="middle"><tspan font-size="17.8">(</tspan><tspan dx="0.4">a</tspan><tspan font-size="17.8" dx="0.4">)</tspan></text>
<text transform="translate(21.4,88.72) rotate(-90)" font-size="20.4" text-anchor="middle">V<tspan font-size="16" dx="1" dy="9">g</tspan><tspan dx="1.5" dy="-9" xml:space="preserve"> (V)</tspan></text>
<line x1="118.66" y1="223.8" x2="118.66" y2="362.0" stroke="#adadad" stroke-width="1.0"/>
<line x1="210.83" y1="223.8" x2="210.83" y2="362.0" stroke="#adadad" stroke-width="1.0"/>
<line x1="303.00" y1="223.8" x2="303.00" y2="362.0" stroke="#adadad" stroke-width="1.0"/>
<line x1="395.17" y1="223.8" x2="395.17" y2="362.0" stroke="#adadad" stroke-width="1.0"/>
<line x1="487.34" y1="223.8" x2="487.34" y2="362.0" stroke="#adadad" stroke-width="1.0"/>
<line x1="579.51" y1="223.8" x2="579.51" y2="362.0" stroke="#adadad" stroke-width="1.0"/>
<line x1="82.0" y1="292.90" x2="671.8" y2="292.90" stroke="#adadad" stroke-width="1.0"/>
<rect x="82.0" y="223.8" width="589.80" height="138.20" fill="none" stroke="#262626" stroke-width="1.0"/>
<line x1="118.66" y1="362.0" x2="118.66" y2="355.5" stroke="#262626" stroke-width="1.0"/>
<line x1="118.66" y1="223.8" x2="118.66" y2="230.3" stroke="#262626" stroke-width="1.0"/>
<line x1="210.83" y1="362.0" x2="210.83" y2="355.5" stroke="#262626" stroke-width="1.0"/>
<line x1="210.83" y1="223.8" x2="210.83" y2="230.3" stroke="#262626" stroke-width="1.0"/>
<line x1="303.00" y1="362.0" x2="303.00" y2="355.5" stroke="#262626" stroke-width="1.0"/>
<line x1="303.00" y1="223.8" x2="303.00" y2="230.3" stroke="#262626" stroke-width="1.0"/>
<line x1="395.17" y1="362.0" x2="395.17" y2="355.5" stroke="#262626" stroke-width="1.0"/>
<line x1="395.17" y1="223.8" x2="395.17" y2="230.3" stroke="#262626" stroke-width="1.0"/>
<line x1="487.34" y1="362.0" x2="487.34" y2="355.5" stroke="#262626" stroke-width="1.0"/>
<line x1="487.34" y1="223.8" x2="487.34" y2="230.3" stroke="#262626" stroke-width="1.0"/>
<line x1="579.51" y1="362.0" x2="579.51" y2="355.5" stroke="#262626" stroke-width="1.0"/>
<line x1="579.51" y1="223.8" x2="579.51" y2="230.3" stroke="#262626" stroke-width="1.0"/>
<line x1="82.0" y1="292.90" x2="88.5" y2="292.90" stroke="#262626" stroke-width="1.0"/>
<line x1="671.8" y1="292.90" x2="665.3" y2="292.90" stroke="#262626" stroke-width="1.0"/>
<g clip-path="url(#clipb)">
<polyline fill="none" stroke="#0000ff" stroke-width="2.35" stroke-linejoin="round" points="81.8,273.5 82.1,279.9 82.4,286.4 82.8,292.7 83.1,298.9 83.4,304.9 83.8,310.6 84.1,316.0 84.4,320.9 84.7,325.4 85.1,329.4 85.4,332.8 85.7,335.6 86.1,337.8 86.4,339.3 86.7,340.2 87.0,340.4 87.4,339.9 87.7,338.8 88.0,337.0 88.3,334.6 88.7,331.5 89.0,328.0 89.3,323.9 89.7,319.4 90.0,314.5 90.3,309.3 90.6,303.8 91.0,298.1 91.3,292.3 91.6,286.5 92.0,280.7 92.3,275.0 92.6,269.5 92.9,264.2 93.3,259.2 93.6,254.6 93.9,250.5 94.3,246.8 94.6,243.7 94.9,241.2 95.2,239.2 95.6,237.9 95.9,237.3 96.2,237.3 96.5,237.9 96.9,239.3 97.2,241.2 97.5,243.8 97.9,247.0 98.2,250.7 98.5,254.9 98.8,259.5 99.2,264.5 99.5,269.9 99.8,275.5 100.2,281.3 100.5,287.2 100.8,293.2 101.1,299.2 101.5,305.0 101.8,310.7 102.1,316.1 102.4,321.2 102.8,325.9 103.1,330.2 103.4,334.0 103.8,337.3 104.1,340.0 104.4,342.1 104.7,343.6 105.1,344.4 105.4,344.5 105.7,344.0 106.1,342.8 106.4,341.0 106.7,338.5 107.0,335.5 107.4,331.9 107.7,327.8 108.0,323.3 108.4,318.3 108.7,313.1 109.0,307.5 109.3,301.8 109.7,295.9 110.0,290.0 110.3,284.1 110.6,278.3 111.0,272.6 111.3,267.2 111.6,262.1 112.0,257.4 112.3,253.0 112.6,249.2 112.9,245.9 113.3,243.2 113.6,241.1 113.9,239.6 114.3,238.7 114.6,238.6 114.9,239.0 115.2,240.2 115.6,242.0 115.9,244.4 116.2,247.4 116.5,250.9 116.9,255.0 117.2,259.5 117.5,264.4 117.9,269.7 118.2,275.2 118.5,281.0 118.8,286.9 119.2,292.8 119.5,298.8 119.8,304.6 120.2,310.3 120.5,315.8 120.8,320.9 121.1,325.7 121.5,330.1 121.8,334.0 122.1,337.4 122.5,340.2 122.8,342.4 123.1,344.0 123.4,344.9 123.8,345.2 124.1,344.8 124.4,343.8 124.7,342.1 125.1,339.8 125.4,336.8 125.7,333.4 126.1,329.4 126.4,324.9 126.7,320.0 127.0,314.8 127.4,309.3 127.7,303.6 128.0,297.8 128.4,291.8 128.7,285.9 129.0,280.1 129.3,274.4 129.7,268.9 130.0,263.7 130.3,258.9 130.6,254.5 131.0,250.5 131.3,247.1 131.6,244.2 132.0,242.0 132.3,240.3 132.6,239.3 132.9,239.0 133.3,239.3 133.6,240.3 133.9,242.0 134.3,244.2 134.6,247.1 134.9,250.5 135.2,254.5 135.6,258.9 135.9,263.7 136.2,268.9 136.6,274.4 136.9,280.1 137.2,286.0 137.5,291.9 137.9,297.9 138.2,303.7 138.5,309.5 138.8,315.0 139.2,320.2 139.5,325.1 139.8,329.6 140.2,333.6 140.5,337.1 140.8,340.0 141.1,342.3 141.5,344.1 141.8,345.1 142.1,345.5 142.5,345.3 142.8,344.4 143.1,342.8 143.4,340.6 143.8,337.8 144.1,334.5 144.4,330.6 144.7,326.2 145.1,321.4 145.4,316.3 145.7,310.9 146.1,305.2 146.4,299.4 146.7,293.4 147.0,287.5 147.4,281.6 147.7,275.9 148.0,270.4 148.4,265.1 148.7,260.2 149.0,255.7 149.3,251.7 149.7,248.1 150.0,245.1 150.3,242.8 150.7,241.0 151.0,239.9 151.3,239.4 151.6,239.6 152.0,240.4 152.3,241.9 152.6,244.1 152.9,246.8 153.3,250.1 153.6,253.9 153.9,258.2 154.3,263.0 154.6,268.1 154.9,273.5 155.2,279.1 155.6,285.0 155.9,290.9 156.2,296.8 156.6,302.7 156.9,308.4 157.2,313.9 157.5,319.2 157.9,324.2 158.2,328.7 158.5,332.8 158.8,336.4 159.2,339.4 159.5,341.9 159.8,343.7 160.2,344.9 160.5,345.4 160.8,345.3 161.1,344.5 161.5,343.1 161.8,341.1 162.1,338.4 162.5,335.2 162.8,331.4 163.1,327.2 163.4,322.5 163.8,317.4 164.1,312.1 164.4,306.5 164.8,300.8 165.1,294.9 165.4,289.0 165.7,283.2 166.1,277.5 166.4,272.0 166.7,266.7 167.0,261.8 167.4,257.3 167.7,253.2 168.0,249.6 168.4,246.6 168.7,244.1 169.0,242.3 169.3,241.0 169.7,240.5 170.0,240.5 170.3,241.2 170.7,242.6 171.0,244.6 171.3,247.2 171.6,250.3 172.0,254.0 172.3,258.2 172.6,262.7 172.9,267.7 173.3,272.9 173.6,278.4 173.9,284.0 174.3,289.8 174.6,295.6 174.9,301.3 175.2,306.9 175.6,312.3 175.9,317.5 176.2,322.3 176.6,326.8 176.9,330.8 177.2,334.3 177.5,337.3 177.9,339.8 178.2,341.6 178.5,342.8 178.8,343.5 179.2,343.4 179.5,342.8 179.8,341.5 180.2,339.6 180.5,337.1 180.8,334.1 181.1,330.6 181.5,326.6 181.8,322.2 182.1,317.4 182.5,312.4 182.8,307.1 183.1,301.7 183.4,296.1 183.8,290.5 184.1,285.0 184.4,279.6 184.8,274.4 185.1,269.4 185.4,264.8 185.7,260.4 186.1,256.6 186.4,253.1 186.7,250.2 187.0,247.8 187.4,246.0 187.7,244.8 188.0,244.2 188.4,244.2 188.7,244.8 189.0,245.9 189.3,247.7 189.7,250.0 190.0,252.9 190.3,256.2 190.7,260.0 191.0,264.2 191.3,268.7 191.6,273.5 192.0,278.5 192.3,283.7 192.6,289.0 192.9,294.3 193.3,299.5 193.6,304.7 193.9,309.7 194.3,314.4 194.6,318.9 194.9,323.0 195.2,326.7 195.6,330.0 195.9,332.9 196.2,335.2 196.6,336.9 196.9,338.1 197.2,338.8 197.5,338.8 197.9,338.3 198.2,337.3 198.5,335.6 198.9,333.5 199.2,330.8 199.5,327.7 199.8,324.2 200.2,320.3 200.5,316.0 200.8,311.5 201.1,306.8 201.5,301.9 201.8,296.9 202.1,291.9 202.5,287.0 202.8,282.1 203.1,277.4 203.4,272.9 203.8,268.6 204.1,264.7 204.4,261.1 204.8,258.0 205.1,255.3 205.4,253.1 205.7,251.4 206.1,250.2 206.4,249.5 206.7,249.4 207.0,249.8 207.4,250.8 207.7,252.3 208.0,254.3 208.4,256.7 208.7,259.6 209.0,262.9 209.3,266.6 209.7,270.5 210.0,274.7 210.3,279.2 210.7,283.7 211.0,288.4 211.3,293.1 211.6,297.8 212.0,302.4 212.3,306.8 212.6,311.1 213.0,315.1 213.3,318.8 213.6,322.2 213.9,325.2 214.3,327.8 214.6,329.9 214.9,331.5 215.2,332.7 215.6,333.4 215.9,333.5 216.2,333.2 216.6,332.3 216.9,331.0 217.2,329.1 217.5,326.9 217.9,324.2 218.2,321.2 218.5,317.8 218.9,314.1 219.2,310.2 219.5,306.1 219.8,301.8 220.2,297.4 220.5,293.0 220.8,288.7 221.1,284.4 221.5,280.2 221.8,276.2 222.1,272.4 222.5,268.9 222.8,265.7 223.1,262.9 223.4,260.5 223.8,258.4 224.1,256.9 224.4,255.7 224.8,255.1 225.1,254.9 225.4,255.2 225.7,255.9 226.1,257.1 226.4,258.8 226.7,260.9 227.1,263.3 227.4,266.1 227.7,269.2 228.0,272.6 228.4,276.3 228.7,280.1 229.0,284.1 229.3,288.1 229.7,292.2 230.0,296.3 230.3,300.3 230.7,304.2 231.0,307.9 231.3,311.5 231.6,314.7 232.0,317.7 232.3,320.4 232.6,322.7 233.0,324.6 233.3,326.1 233.6,327.2 233.9,327.9 234.3,328.1 234.6,327.9 234.9,327.2 235.2,326.1 235.6,324.6 235.9,322.7 236.2,320.5 236.6,317.9 236.9,315.1 237.2,311.9 237.5,308.6 237.9,305.0 238.2,301.4 238.5,297.6 238.9,293.9 239.2,290.1 239.5,286.4 239.8,282.8 240.2,279.3 240.5,276.0 240.8,273.0 241.2,270.2 241.5,267.7 241.8,265.5 242.1,263.7 242.5,262.3 242.8,261.3 243.1,260.6 243.4,260.4 243.8,260.6 244.1,261.1 244.4,262.1 244.8,263.4 245.1,265.1 245.4,267.2 245.7,269.5 246.1,272.1 246.4,275.0 246.7,278.1 247.1,281.3 247.4,284.7 247.7,288.1 248.0,291.6 248.4,295.0 248.7,298.5 249.0,301.8 249.3,305.0 249.7,308.0 250.0,310.8 250.3,313.4 250.7,315.7 251.0,317.7 251.3,319.4 251.6,320.8 252.0,321.7 252.3,322.4 252.6,322.6 253.0,322.5 253.3,322.0 253.6,321.1 253.9,319.9 254.3,318.4 254.6,316.6 254.9,314.5 255.2,312.1 255.6,309.5 255.9,306.7 256.2,303.8 256.6,300.7 256.9,297.6 257.2,294.4 257.5,291.2 257.9,288.1 258.2,285.1 258.5,282.1 258.9,279.4 259.2,276.8 259.5,274.4 259.8,272.3 260.2,270.5 260.5,268.9 260.8,267.7 261.2,266.7 261.5,266.1 261.8,265.9 262.1,266.0 262.5,266.4 262.8,267.1 263.1,268.2 263.4,269.6 263.8,271.2 264.1,273.1 264.4,275.2 264.8,277.6 265.1,280.1 265.4,282.7 265.7,285.5 266.1,288.3 266.4,291.2 266.7,294.0 267.1,296.9 267.4,299.6 267.7,302.3 268.0,304.8 268.4,307.1 268.7,309.3 269.0,311.2 269.3,312.9 269.7,314.3 270.0,315.5 270.3,316.3 270.7,316.9 271.0,317.1 271.3,317.1 271.6,316.7 272.0,316.1 272.3,315.1 272.6,313.9 273.0,312.5 273.3,310.8 273.6,308.9 273.9,306.8 274.3,304.6 274.6,302.2 274.9,299.8 275.3,297.2 275.6,294.7 275.9,292.1 276.2,289.6 276.6,287.1 276.9,284.8 277.2,282.5 277.5,280.4 277.9,278.5 278.2,276.7 278.5,275.2 278.9,273.9 279.2,272.9 279.5,272.1 279.8,271.6 280.2,271.4 280.5,271.4 280.8,271.7 281.2,272.3 281.5,273.1 281.8,274.1 282.1,275.4 282.5,276.9 282.8,278.5 283.1,280.4 283.4,282.3 283.8,284.4 284.1,286.6 284.4,288.8 284.8,291.1 285.1,293.3 285.4,295.5 285.7,297.7 286.1,299.8 286.4,301.8 286.7,303.6 287.1,305.3 287.4,306.9 287.7,308.2 288.0,309.4 288.4,310.3 288.7,311.0 289.0,311.4 289.4,311.7 289.7,311.6 290.0,311.4 290.3,310.9 290.7,310.2 291.0,309.3 291.3,308.2 291.6,307.0 292.0,305.5 292.3,303.9 292.6,302.2 293.0,300.4 293.3,298.6 293.6,296.6 293.9,294.7 294.3,292.7 294.6,290.8 294.9,288.9 295.3,287.1 295.6,285.4 295.9,283.8 296.2,282.3 296.6,281.0 296.9,279.8 297.2,278.9 297.5,278.1 297.9,277.5 298.2,277.1 298.5,276.9 298.9,276.9 299.2,277.1 299.5,277.5 299.8,278.0 300.2,278.8 300.5,279.7 300.8,280.8 301.2,282.0 301.5,283.4 301.8,284.8 302.1,286.3 302.5,287.9 302.8,289.6 303.1,291.2 303.5,292.8 303.8,294.5 304.1,296.1 304.4,297.6 304.8,299.0 305.1,300.4 305.4,301.6 305.7,302.7 306.1,303.7 306.4,304.5 306.7,305.2 307.1,305.7 307.4,306.0 307.7,306.2 308.0,306.2 308.4,306.0 308.7,305.7 309.0,305.2 309.4,304.6 309.7,303.8 310.0,302.9 310.3,301.9 310.7,300.8 311.0,299.6 311.3,298.4 311.6,297.1 312.0,295.8 312.3,294.4 312.6,293.1 313.0,291.8 313.3,290.5 313.6,289.2 313.9,288.1 314.3,287.0 314.6,286.0 314.9,285.1 315.3,284.3 315.6,283.7 315.9,283.1 316.2,282.7 316.6,282.5 316.9,282.3 317.2,282.3 317.6,282.5 317.9,282.7 318.2,283.1 318.5,283.6 318.9,284.2 319.2,284.9 319.5,285.7 319.8,286.6 320.2,287.5 320.5,288.5 320.8,289.5 321.2,290.6 321.5,291.6 321.8,292.6 322.1,293.7 322.5,294.6 322.8,295.6 323.1,296.5 323.5,297.3 323.8,298.1 324.1,298.7 324.4,299.3 324.8,299.8 325.1,300.2 325.4,300.5 325.7,300.7 326.1,300.7 326.4,300.7 326.7,300.6 327.1,300.4 327.4,300.1 327.7,299.7 328.0,299.3 328.4,298.7 328.7,298.1 329.0,297.5 329.4,296.8 329.7,296.1 330.0,295.4 330.3,294.6 330.7,293.9 331.0,293.2 331.3,292.4 331.7,291.8 332.0,291.1 332.3,290.5 332.6,289.9 333.0,289.4 333.3,289.0 333.6,288.6 333.9,288.3 334.3,288.1 334.6,287.9 334.9,287.8 335.3,287.8 335.6,287.8 335.9,287.9 336.2,288.1 336.6,288.3 336.9,288.6 337.2,288.9 337.6,289.2 337.9,289.6 338.2,290.0 338.5,290.5 338.9,290.9 339.2,291.4 339.5,291.8 339.8,292.3 340.2,292.7 340.5,293.1 340.8,293.5 341.2,293.9 341.5,294.2 341.8,294.5 342.1,294.7 342.5,294.9 342.8,295.1 343.1,295.2 343.5,295.3 343.8,295.4 344.1,295.4 344.4,295.3 344.8,295.3 345.1,295.2 345.4,295.1 345.7,294.9 346.1,294.7 346.4,294.6 346.7,294.4 347.1,294.2 347.4,294.0 347.7,293.8 348.0,293.6 348.4,293.4 348.7,293.2 349.0,293.1 349.4,293.0 349.7,292.9 350.0,292.8 350.3,292.7 350.7,292.7 351.0,292.6 351.3,292.7 351.7,292.7 352.0,292.7 352.3,292.8 352.6,292.9 353.0,293.0 353.3,293.1 353.6,293.2 353.9,293.3 354.3,293.4 354.6,293.5 354.9,293.6 355.3,293.6 355.6,293.7 355.9,293.7 356.2,293.7 356.6,293.7 356.9,293.7 357.2,293.6 357.6,293.5 357.9,293.4 358.2,293.2 358.5,293.0 358.9,292.8 359.2,292.6 359.5,292.3 359.8,292.1 360.2,291.8 360.5,291.5 360.8,291.2 361.2,290.9 361.5,290.6 361.8,290.4 362.1,290.1 362.5,289.9 362.8,289.7 363.1,289.6 363.5,289.5 363.8,289.4 364.1,289.4 364.4,289.4 364.8,289.5 365.1,289.6 365.4,289.8 365.8,290.0 366.1,290.3 366.4,290.7 366.7,291.0 367.1,291.5 367.4,292.0 367.7,292.5 368.0,293.0 368.4,293.6 368.7,294.2 369.0,294.7 369.4,295.3 369.7,295.9 370.0,296.5 370.3,297.0 370.7,297.5 371.0,297.9 371.3,298.3 371.7,298.7 372.0,299.0 372.3,299.2 372.6,299.3 373.0,299.4 373.3,299.3 373.6,299.2 373.9,299.0 374.3,298.7 374.6,298.3 374.9,297.9 375.3,297.3 375.6,296.7 375.9,296.1 376.2,295.3 376.6,294.5 376.9,293.7 377.2,292.8 377.6,291.9 377.9,291.0 378.2,290.1 378.5,289.2 378.9,288.4 379.2,287.5 379.5,286.8 379.9,286.0 380.2,285.4 380.5,284.8 380.8,284.3 381.2,284.0 381.5,283.7 381.8,283.5 382.1,283.5 382.5,283.6 382.8,283.8 383.1,284.1 383.5,284.5 383.8,285.1 384.1,285.8 384.4,286.5 384.8,287.4 385.1,288.4 385.4,289.4 385.8,290.5 386.1,291.7 386.4,292.9 386.7,294.1 387.1,295.3 387.4,296.6 387.7,297.8 388.0,298.9 388.4,300.0 388.7,301.1 389.0,302.0 389.4,302.9 389.7,303.6 390.0,304.2 390.3,304.7 390.7,305.0 391.0,305.2 391.3,305.3 391.7,305.1 392.0,304.9 392.3,304.4 392.6,303.8 393.0,303.1 393.3,302.2 393.6,301.2 394.0,300.1 394.3,298.9 394.6,297.5 394.9,296.1 395.3,294.6 395.6,293.1 395.9,291.5 396.2,290.0 396.6,288.4 396.9,286.9 397.2,285.5 397.6,284.1 397.9,282.8 398.2,281.6 398.5,280.5 398.9,279.6 399.2,278.9 399.5,278.3 399.9,277.9 400.2,277.6 400.5,277.6 400.8,277.7 401.2,278.1 401.5,278.6 401.8,279.3 402.1,280.2 402.5,281.3 402.8,282.5 403.1,283.9 403.5,285.5 403.8,287.1 404.1,288.8 404.4,290.6 404.8,292.5 405.1,294.3 405.4,296.2 405.8,298.1 406.1,299.9 406.4,301.7 406.7,303.4 407.1,304.9 407.4,306.3 407.7,307.6 408.1,308.7 408.4,309.6 408.7,310.3 409.0,310.9 409.4,311.1 409.7,311.2 410.0,311.0 410.3,310.6 410.7,310.0 411.0,309.1 411.3,308.1 411.7,306.8 412.0,305.3 412.3,303.7 412.6,301.9 413.0,300.0 413.3,298.0 413.6,295.8 414.0,293.7 414.3,291.4 414.6,289.2 414.9,287.0 415.3,284.9 415.6,282.8 415.9,280.9 416.2,279.0 416.6,277.4 416.9,275.9 417.2,274.6 417.6,273.5 417.9,272.7 418.2,272.1 418.5,271.7 418.9,271.6 419.2,271.8 419.5,272.3 419.9,273.0 420.2,274.0 420.5,275.2 420.8,276.7 421.2,278.3 421.5,280.2 421.8,282.3 422.1,284.5 422.5,286.8 422.8,289.3 423.1,291.8 423.5,294.3 423.8,296.8 424.1,299.4 424.4,301.8 424.8,304.2 425.1,306.4 425.4,308.6 425.8,310.5 426.1,312.2 426.4,313.7 426.7,314.9 427.1,315.9 427.4,316.6 427.7,317.0 428.1,317.1 428.4,316.9 428.7,316.4 429.0,315.6 429.4,314.5 429.7,313.2 430.0,311.5 430.3,309.6 430.7,307.5 431.0,305.2 431.3,302.7 431.7,300.1 432.0,297.3 432.3,294.5 432.6,291.6 433.0,288.8 433.3,285.9 433.6,283.1 434.0,280.4 434.3,277.9 434.6,275.5 434.9,273.3 435.3,271.4 435.6,269.7 435.9,268.3 436.2,267.1 436.6,266.3 436.9,265.8 437.2,265.7 437.6,265.9 437.9,266.4 438.2,267.3 438.5,268.5 438.9,270.0 439.2,271.8 439.5,273.9 439.9,276.3 440.2,278.8 440.5,281.6 440.8,284.5 441.2,287.6 441.5,290.8 441.8,294.0 442.2,297.2 442.5,300.3 442.8,303.5 443.1,306.5 443.5,309.3 443.8,312.0 444.1,314.4 444.4,316.6 444.8,318.5 445.1,320.1 445.4,321.4 445.8,322.3 446.1,322.9 446.4,323.1 446.7,322.9 447.1,322.3 447.4,321.4 447.7,320.1 448.1,318.4 448.4,316.5 448.7,314.2 449.0,311.6 449.4,308.8 449.7,305.7 450.0,302.5 450.3,299.1 450.7,295.6 451.0,292.1 451.3,288.6 451.7,285.1 452.0,281.6 452.3,278.3 452.6,275.2 453.0,272.2 453.3,269.5 453.6,267.1 454.0,264.9 454.3,263.1 454.6,261.7 454.9,260.7 455.3,260.0 455.6,259.8 455.9,259.9 456.3,260.5 456.6,261.5 456.9,262.9 457.2,264.7 457.6,266.8 457.9,269.3 458.2,272.1 458.5,275.2 458.9,278.5 459.2,282.0 459.5,285.7 459.9,289.5 460.2,293.3 460.5,297.2 460.8,301.0 461.2,304.8 461.5,308.4 461.8,311.9 462.2,315.2 462.5,318.1 462.8,320.8 463.1,323.2 463.5,325.2 463.8,326.8 464.1,328.0 464.4,328.7 464.8,329.0 465.1,328.9 465.4,328.3 465.8,327.2 466.1,325.7 466.4,323.8 466.7,321.5 467.1,318.9 467.4,315.9 467.7,312.5 468.1,309.0 468.4,305.2 468.7,301.2 469.0,297.1 469.4,292.9 469.7,288.7 470.0,284.5 470.4,280.4 470.7,276.5 471.0,272.7 471.3,269.1 471.7,265.9 472.0,262.9 472.3,260.3 472.6,258.2 473.0,256.4 473.3,255.1 473.6,254.2 474.0,253.8 474.3,253.9 474.6,254.5 474.9,255.6 475.3,257.2 475.6,259.2 475.9,261.6 476.3,264.5 476.6,267.7 476.9,271.3 477.2,275.1 477.6,279.2 477.9,283.5 478.2,287.9 478.5,292.4 478.9,296.9 479.2,301.5 479.5,305.9 479.9,310.2 480.2,314.3 480.5,318.1 480.8,321.6 481.2,324.9 481.5,327.7 481.8,330.1 482.2,332.0 482.5,333.5 482.8,334.5 483.1,334.9 483.5,334.9 483.8,334.3 484.1,333.1 484.5,331.5 484.8,329.4 485.1,326.8 485.4,323.8 485.8,320.4 486.1,316.6 486.4,312.5 486.7,308.1 487.1,303.5 487.4,298.8 487.7,294.0 488.1,289.1 488.4,284.2 488.7,279.5 489.0,274.9 489.4,270.5 489.7,266.3 490.0,262.5 490.4,259.0 490.7,255.9 491.0,253.3 491.3,251.2 491.7,249.6 492.0,248.5 492.3,247.9 492.6,248.0 493.0,248.5 493.3,249.7 493.6,251.4 494.0,253.6 494.3,256.3 494.6,259.5 494.9,263.1 495.3,267.1 495.6,271.5 495.9,276.1 496.3,281.0 496.6,286.0 496.9,291.2 497.2,296.4 497.6,301.6 497.9,306.7 498.2,311.6 498.6,316.3 498.9,320.8 499.2,324.9 499.5,328.7 499.9,332.0 500.2,334.8 500.5,337.2 500.8,339.0 501.2,340.2 501.5,340.8 501.8,340.8 502.2,340.3 502.5,339.1 502.8,337.4 503.1,335.1 503.5,332.2 503.8,328.9 504.1,325.1 504.5,320.8 504.8,316.2 505.1,311.3 505.4,306.1 505.8,300.8 506.1,295.3 506.4,289.8 506.7,284.3 507.1,278.8 507.4,273.6 507.7,268.5 508.1,263.7 508.4,259.3 508.7,255.3 509.0,251.7 509.4,248.6 509.7,246.1 510.0,244.2 510.4,242.8 510.7,242.1 511.0,242.0 511.3,242.5 511.7,243.7 512.0,245.5 512.3,247.9 512.6,250.8 513.0,254.3 513.3,258.3 513.6,262.8 514.0,267.6 514.3,272.8 514.6,278.3 514.9,283.9 515.3,289.7 515.6,295.6 515.9,301.4 516.3,307.2 516.6,312.8 516.9,318.2 517.2,323.2 517.6,328.0 517.9,332.3 518.2,336.1 518.6,339.4 518.9,342.2 519.2,344.3 519.5,345.8 519.9,346.6 520.2,346.8 520.5,346.3 520.8,345.1 521.2,343.3 521.5,340.8 521.8,337.7 522.2,334.1 522.5,329.9 522.8,325.3 523.1,320.2 523.5,314.7 523.8,309.0 524.1,303.1 524.5,296.9 524.8,290.8 525.1,284.6 525.4,278.5 525.8,272.6 526.1,266.9 526.4,261.5 526.7,256.5 527.1,251.9 527.4,247.8 527.7,244.3 528.1,241.3 528.4,239.0 528.7,237.4 529.0,236.4 529.4,236.2 529.7,236.7 530.0,237.8 530.4,239.7 530.7,242.2 531.0,245.4 531.3,249.2 531.7,253.5 532.0,258.4 532.3,263.7 532.7,269.4 533.0,275.4 533.3,281.6 533.6,288.0 534.0,294.4 534.3,300.9 534.6,307.3 534.9,313.5 535.3,319.4 535.6,325.1 535.9,330.3 536.3,335.1 536.6,339.4 536.9,343.1 537.2,346.2 537.6,348.7 537.9,350.4 538.2,351.4 538.6,351.7 538.9,351.2 539.2,350.1 539.5,348.2 539.9,345.6 540.2,342.3 540.5,338.4 540.8,334.0 541.2,329.0 541.5,323.6 541.8,317.7 542.2,311.6 542.5,305.2 542.8,298.7 543.1,292.1 543.5,285.5 543.8,278.9 544.1,272.6 544.5,266.5 544.8,260.8 545.1,255.4 545.4,250.5 545.8,246.2 546.1,242.4 546.4,239.3 546.8,236.8 547.1,235.0 547.4,234.0 547.7,233.7 548.1,234.1 548.4,235.3 548.7,237.2 549.0,239.8 549.4,243.0 549.7,246.9 550.0,251.3 550.4,256.3 550.7,261.7 551.0,267.5 551.3,273.6 551.7,279.9 552.0,286.4 552.3,293.0 552.7,299.6 553.0,306.1 553.3,312.4 553.6,318.5 554.0,324.2 554.3,329.6 554.6,334.5 554.9,338.9 555.3,342.7 555.6,345.8 555.9,348.4 556.3,350.2 556.6,351.3 556.9,351.7 557.2,351.3 557.6,350.2 557.9,348.4 558.2,345.9 558.6,342.8 558.9,339.0 559.2,334.7 559.5,329.8 559.9,324.5 560.2,318.8 560.5,312.8 560.9,306.5 561.2,300.0 561.5,293.5 561.8,287.0 562.2,280.5 562.5,274.2 562.8,268.2 563.1,262.4 563.5,257.1 563.8,252.1 564.1,247.7 564.5,243.9 564.8,240.7 565.1,238.1 565.4,236.2 565.8,235.0 566.1,234.6 566.4,234.8 566.8,235.8 567.1,237.5 567.4,239.9 567.7,243.0 568.1,246.7 568.4,250.9 568.7,255.7 569.0,260.9 569.4,266.6 569.7,272.5 570.0,278.7 570.4,285.1 570.7,291.6 571.0,298.1 571.3,304.5 571.7,310.8 572.0,316.8 572.3,322.6 572.7,327.9 573.0,332.9 573.3,337.3 573.6,341.2 574.0,344.5 574.3,347.1 574.6,349.1 575.0,350.3 575.3,350.8 575.6,350.6 575.9,349.7 576.3,348.1 576.6,345.8 576.9,342.9 577.2,339.3 577.6,335.1 577.9,330.4 578.2,325.3 578.6,319.7 578.9,313.8 579.2,307.7 579.5,301.3 579.9,294.9 580.2,288.5 580.5,282.1 580.9,275.8 581.2,269.8 581.5,264.0 581.8,258.6 582.2,253.7 582.5,249.2 582.8,245.3 583.1,241.9 583.5,239.3 583.8,237.2 584.1,235.9 584.5,235.3 584.8,235.4 585.1,236.2 585.4,237.8 585.8,240.0 586.1,242.8 586.4,246.3 586.8,250.4 587.1,255.0 587.4,260.1 587.7,265.6 588.1,271.4 588.4,277.5 588.7,283.8 589.0,290.2 589.4,296.6 589.7,303.0 590.0,309.2 590.4,315.3 590.7,321.0 591.0,326.5 591.3,331.4 591.7,335.9 592.0,339.9 592.3,343.3 592.7,346.0 593.0,348.1 593.3,349.5 593.6,350.2 594.0,350.2 594.3,349.5 594.6,348.0 595.0,345.9 595.3,343.1 595.6,339.7 595.9,335.7 596.3,331.1 596.6,326.1 596.9,320.7 597.2,314.9 597.6,308.9 597.9,302.7 598.2,296.3 598.6,289.9 598.9,283.5 599.2,277.3 599.5,271.2 599.9,265.5 600.2,260.0 600.5,255.0 600.9,250.5 601.2,246.5 601.5,243.0 601.8,240.2 602.2,238.1 602.5,236.6 602.8,235.8 603.1,235.8 603.5,236.4 603.8,237.8 604.1,239.8 604.5,242.6 604.8,245.9 605.1,249.8 605.4,254.3 605.8,259.2 606.1,264.6 606.4,270.3 606.8,276.3 607.1,282.5 607.4,288.8 607.7,295.2 608.1,301.5 608.4,307.8 608.7,313.8 609.1,319.6 609.4,325.1 609.7,330.1 610.0,334.7 610.4,338.8 610.7,342.3 611.0,345.1 611.3,347.4 611.7,348.9 612.0,349.8 612.3,349.9 612.7,349.3 613.0,348.0 613.3,346.1 613.6,343.4 614.0,340.2 614.3,336.3 614.6,331.9 615.0,327.0 615.3,321.7 615.6,316.1 615.9,310.1 616.3,304.0 616.6,297.7 616.9,291.3 617.2,285.0 617.6,278.7 617.9,272.7 618.2,266.9 618.6,261.4 618.9,256.3 619.2,251.7 619.5,247.5 619.9,244.0 620.2,241.1 620.5,238.8 620.9,237.2 621.2,236.2 621.5,236.0 621.8,236.5 622.2,237.7 622.5,239.6 622.8,242.2 623.2,245.4 623.5,249.1 623.8,253.5 624.1,258.3 624.5,263.5 624.8,269.1 625.1,275.0 625.4,281.2 625.8,287.5 626.1,293.8 626.4,300.1 626.8,306.4 627.1,312.4 627.4,318.3 627.7,323.8 628.1,328.9 628.4,333.6 628.7,337.7 629.1,341.3 629.4,344.3 629.7,346.7 630.0,348.4 630.4,349.4 630.7,349.7 631.0,349.2 631.3,348.1 631.7,346.3 632.0,343.8 632.3,340.7 632.7,337.0 633.0,332.8 633.3,328.0 633.6,322.8 634.0,317.2 634.3,311.4 634.6,305.3 635.0,299.0 635.3,292.7 635.6,286.4 635.9,280.1 636.3,274.0 636.6,268.2 636.9,262.7 637.3,257.5 637.6,252.8 637.9,248.6 638.2,244.9 638.6,241.8 638.9,239.4 639.2,237.7 639.5,236.6 639.9,236.2 640.2,236.6 640.5,237.6 640.9,239.3 641.2,241.7 641.5,244.8 641.8,248.4 642.2,252.6 642.5,257.3 642.8,262.5 643.2,268.0 643.5,273.8 643.8,279.9 644.1,286.1 644.5,292.4 644.8,298.7 645.1,305.0 645.4,311.1 645.8,316.9 646.1,322.5 646.4,327.7 646.8,332.5 647.1,336.7 647.4,340.5 647.7,343.6 648.1,346.1 648.4,347.9 648.7,349.1 649.1,349.5 649.4,349.2 649.7,348.3 650.0,346.6 650.4,344.3 650.7,341.3 651.0,337.7 651.4,333.6 651.7,329.0 652.0,323.9 652.3,318.4 652.7,312.6 653.0,306.6 653.3,300.4 653.6,294.1 654.0,287.8 654.3,281.5 654.6,275.4 655.0,269.5 655.3,263.9 655.6,258.7 655.9,253.9 656.3,249.6 656.6,245.8 656.9,242.6 657.3,240.0 657.6,238.1 657.9,236.9 658.2,236.4 658.6,236.6 658.9,237.5 659.2,239.0 659.5,241.3 659.9,244.2 660.2,247.7 660.5,251.7 660.9,256.3 661.2,261.4 661.5,266.8 661.8,272.5 662.2,278.6 662.5,284.7 662.8,291.0 663.2,297.3 663.5,303.6 663.8,309.7 664.1,315.6 664.5,321.3 664.8,326.5 665.1,331.4 665.4,335.8 665.8,339.6 666.1,342.8 666.4,345.5 666.8,347.5 667.1,348.7 667.4,349.3 667.7,349.2 668.1,348.4 668.4,346.9 668.7,344.7 669.1,341.9 669.4,338.5 669.7,334.5 670.0,330.0 670.4,325.0 670.7,319.6 671.0,313.9 671.4,307.9 671.7,301.7"/>
<polyline fill="none" stroke="#ff0000" stroke-width="2.35" stroke-linejoin="round" points="81.8,244.2 82.1,241.2 82.4,238.8 82.8,237.1 83.1,236.0 83.4,235.6 83.8,236.0 84.1,237.0 84.4,238.6 84.7,241.0 85.1,243.9 85.4,247.5 85.7,251.6 86.1,256.1 86.4,261.2 86.7,266.6 87.0,272.2 87.4,278.2 87.7,284.3 88.0,290.4 88.3,296.6 88.7,302.7 89.0,308.7 89.3,314.5 89.7,319.9 90.0,325.0 90.3,329.7 90.6,333.9 91.0,337.6 91.3,340.7 91.6,343.2 92.0,345.0 92.3,346.1 92.6,346.6 92.9,346.4 93.3,345.5 93.6,343.9 93.9,341.7 94.3,338.8 94.6,335.4 94.9,331.4 95.2,326.9 95.6,321.9 95.9,316.6 96.2,311.0 96.5,305.1 96.9,299.1 97.2,292.9 97.5,286.8 97.9,280.7 98.2,274.7 98.5,268.9 98.8,263.5 99.2,258.3 99.5,253.6 99.8,249.4 100.2,245.7 100.5,242.6 100.8,240.1 101.1,238.2 101.5,237.0 101.8,236.4 102.1,236.6 102.4,237.5 102.8,239.0 103.1,241.2 103.4,244.0 103.8,247.4 104.1,251.4 104.4,255.8 104.7,260.8 105.1,266.1 105.4,271.7 105.7,277.6 106.1,283.6 106.4,289.8 106.7,296.0 107.0,302.1 107.4,308.1 107.7,313.9 108.0,319.4 108.4,324.6 108.7,329.4 109.0,333.7 109.3,337.5 109.7,340.7 110.0,343.3 110.3,345.3 110.6,346.6 111.0,347.2 111.3,347.1 111.6,346.4 112.0,344.9 112.3,342.8 112.6,340.1 112.9,336.8 113.3,332.9 113.6,328.5 113.9,323.6 114.3,318.4 114.6,312.8 114.9,307.0 115.2,300.9 115.6,294.8 115.9,288.6 116.2,282.5 116.5,276.5 116.9,270.7 117.2,265.2 117.5,259.9 117.9,255.1 118.2,250.8 118.5,247.0 118.8,243.7 119.2,241.0 119.5,239.0 119.8,237.7 120.2,237.0 120.5,237.0 120.8,237.7 121.1,239.1 121.5,241.1 121.8,243.8 122.1,247.1 122.5,250.9 122.8,255.3 123.1,260.1 123.4,265.3 123.8,270.9 124.1,276.7 124.4,282.7 124.7,288.8 125.1,295.0 125.4,301.2 125.7,307.2 126.1,313.1 126.4,318.6 126.7,323.9 127.0,328.8 127.4,333.2 127.7,337.1 128.0,340.4 128.4,343.2 128.7,345.3 129.0,346.7 129.3,347.5 129.7,347.6 130.0,346.9 130.3,345.7 130.6,343.7 131.0,341.1 131.3,337.9 131.6,334.1 132.0,329.8 132.3,325.1 132.6,319.9 132.9,314.4 133.3,308.6 133.6,302.6 133.9,296.5 134.3,290.3 134.6,284.2 134.9,278.1 135.2,272.3 135.6,266.7 135.9,261.4 136.2,256.5 136.6,252.0 136.9,248.1 137.2,244.7 137.5,241.9 137.9,239.7 138.2,238.2 138.5,237.4 138.8,237.2 139.2,237.8 139.5,239.0 139.8,240.9 140.2,243.4 140.5,246.6 140.8,250.3 141.1,254.5 141.5,259.3 141.8,264.4 142.1,269.9 142.5,275.7 142.8,281.6 143.1,287.8 143.4,293.9 143.8,300.1 144.1,306.1 144.4,312.0 144.7,317.7 145.1,323.0 145.4,328.0 145.7,332.5 146.1,336.5 146.4,339.9 146.7,342.8 147.0,345.0 147.4,346.6 147.7,347.5 148.0,347.8 148.4,347.3 148.7,346.2 149.0,344.3 149.3,341.9 149.7,338.8 150.0,335.1 150.3,331.0 150.7,326.3 151.0,321.2 151.3,315.8 151.6,310.0 152.0,304.1 152.3,298.0 152.6,291.9 152.9,285.7 153.3,279.7 153.6,273.8 153.9,268.1 154.3,262.8 154.6,257.8 154.9,253.2 155.2,249.2 155.6,245.7 155.9,242.8 156.2,240.5 156.6,238.8 156.9,237.8 157.2,237.6 157.5,238.0 157.9,239.0 158.2,240.8 158.5,243.2 158.8,246.2 159.2,249.8 159.5,253.9 159.8,258.5 160.2,263.6 160.5,269.0 160.8,274.6 161.1,280.5 161.5,286.6 161.8,292.7 162.1,298.9 162.5,304.9 162.8,310.8 163.1,316.4 163.4,321.8 163.8,326.8 164.1,331.3 164.4,335.4 164.8,338.9 165.1,341.9 165.4,344.2 165.7,345.9 166.1,347.0 166.4,347.3 166.7,347.0 167.0,345.9 167.4,344.3 167.7,342.0 168.0,339.0 168.4,335.5 168.7,331.5 169.0,327.0 169.3,322.0 169.7,316.7 170.0,311.1 170.3,305.3 170.7,299.4 171.0,293.3 171.3,287.3 171.6,281.3 172.0,275.5 172.3,269.9 172.6,264.6 172.9,259.7 173.3,255.2 173.6,251.2 173.9,247.7 174.3,244.7 174.6,242.4 174.9,240.7 175.2,239.7 175.6,239.3 175.9,239.6 176.2,240.5 176.6,242.1 176.9,244.4 177.2,247.2 177.5,250.6 177.9,254.5 178.2,258.9 178.5,263.7 178.8,268.8 179.2,274.2 179.5,279.9 179.8,285.7 180.2,291.5 180.5,297.4 180.8,303.2 181.1,308.8 181.5,314.3 181.8,319.4 182.1,324.2 182.5,328.6 182.8,332.5 183.1,335.9 183.4,338.8 183.8,341.1 184.1,342.8 184.4,343.8 184.8,344.2 185.1,344.0 185.4,343.1 185.7,341.6 186.1,339.5 186.4,336.8 186.7,333.6 187.0,329.9 187.4,325.7 187.7,321.2 188.0,316.3 188.4,311.1 188.7,305.7 189.0,300.2 189.3,294.6 189.7,289.0 190.0,283.4 190.3,278.0 190.7,272.8 191.0,267.9 191.3,263.3 191.6,259.1 192.0,255.3 192.3,252.0 192.6,249.3 192.9,247.0 193.3,245.4 193.6,244.3 193.9,243.9 194.3,244.1 194.6,244.9 194.9,246.2 195.2,248.2 195.6,250.7 195.9,253.7 196.2,257.2 196.6,261.1 196.9,265.4 197.2,270.0 197.5,274.9 197.9,280.0 198.2,285.2 198.5,290.5 198.9,295.9 199.2,301.1 199.5,306.2 199.8,311.2 200.2,315.8 200.5,320.2 200.8,324.2 201.1,327.9 201.5,331.0 201.8,333.7 202.1,335.8 202.5,337.4 202.8,338.5 203.1,338.9 203.4,338.8 203.8,338.2 204.1,336.9 204.4,335.1 204.8,332.8 205.1,330.0 205.4,326.8 205.7,323.1 206.1,319.1 206.4,314.8 206.7,310.2 207.0,305.4 207.4,300.5 207.7,295.5 208.0,290.5 208.4,285.6 208.7,280.7 209.0,276.1 209.3,271.6 209.7,267.5 210.0,263.7 210.3,260.3 210.7,257.2 211.0,254.7 211.3,252.6 211.6,251.1 212.0,250.0 212.3,249.6 212.6,249.6 213.0,250.2 213.3,251.3 213.6,252.9 213.9,255.1 214.3,257.6 214.6,260.7 214.9,264.1 215.2,267.8 215.6,271.8 215.9,276.1 216.2,280.6 216.6,285.2 216.9,289.8 217.2,294.5 217.5,299.1 217.9,303.7 218.2,308.1 218.5,312.2 218.9,316.1 219.2,319.8 219.5,323.0 219.8,325.9 220.2,328.3 220.5,330.3 220.8,331.8 221.1,332.8 221.5,333.3 221.8,333.3 222.1,332.8 222.5,331.8 222.8,330.3 223.1,328.4 223.4,326.0 223.8,323.2 224.1,320.1 224.4,316.6 224.8,312.9 225.1,308.9 225.4,304.8 225.7,300.5 226.1,296.2 226.4,291.8 226.7,287.5 227.1,283.2 227.4,279.1 227.7,275.2 228.0,271.5 228.4,268.2 228.7,265.1 229.0,262.4 229.3,260.1 229.7,258.2 230.0,256.8 230.3,255.8 230.7,255.3 231.0,255.3 231.3,255.7 231.6,256.6 232.0,257.9 232.3,259.7 232.6,261.8 233.0,264.4 233.3,267.2 233.6,270.4 233.9,273.9 234.3,277.5 234.6,281.4 234.9,285.3 235.2,289.4 235.6,293.4 235.9,297.4 236.2,301.4 236.6,305.2 236.9,308.8 237.2,312.2 237.5,315.4 237.9,318.3 238.2,320.8 238.5,323.0 238.9,324.7 239.2,326.1 239.5,327.1 239.8,327.6 240.2,327.7 240.5,327.3 240.8,326.5 241.2,325.3 241.5,323.7 241.8,321.8 242.1,319.5 242.5,316.8 242.8,313.9 243.1,310.7 243.4,307.4 243.8,303.9 244.1,300.2 244.4,296.5 244.8,292.8 245.1,289.1 245.4,285.4 245.7,281.9 246.1,278.5 246.4,275.4 246.7,272.4 247.1,269.8 247.4,267.4 247.7,265.4 248.0,263.8 248.4,262.5 248.7,261.6 249.0,261.0 249.3,260.9 249.7,261.2 250.0,261.9 250.3,263.0 250.7,264.4 251.0,266.2 251.3,268.3 251.6,270.7 252.0,273.3 252.3,276.2 252.6,279.2 253.0,282.5 253.3,285.8 253.6,289.2 253.9,292.6 254.3,296.0 254.6,299.3 254.9,302.6 255.2,305.7 255.6,308.6 255.9,311.3 256.2,313.7 256.6,315.9 256.9,317.7 257.2,319.3 257.5,320.5 257.9,321.4 258.2,321.9 258.5,322.0 258.9,321.8 259.2,321.2 259.5,320.2 259.8,319.0 260.2,317.4 260.5,315.5 260.8,313.3 261.2,310.9 261.5,308.3 261.8,305.6 262.1,302.7 262.5,299.7 262.8,296.6 263.1,293.5 263.4,290.4 263.8,287.4 264.1,284.4 264.4,281.6 264.8,279.0 265.1,276.5 265.4,274.3 265.7,272.3 266.1,270.6 266.4,269.2 266.7,268.0 267.1,267.2 267.4,266.8 267.7,266.6 268.0,266.8 268.4,267.3 268.7,268.1 269.0,269.3 269.3,270.7 269.7,272.3 270.0,274.3 270.3,276.4 270.7,278.7 271.0,281.2 271.3,283.8 271.6,286.5 272.0,289.3 272.3,292.0 272.6,294.8 273.0,297.5 273.3,300.2 273.6,302.7 273.9,305.1 274.3,307.3 274.6,309.3 274.9,311.1 275.3,312.7 275.6,314.0 275.9,315.0 276.2,315.7 276.6,316.2 276.9,316.3 277.2,316.2 277.5,315.7 277.9,315.0 278.2,314.0 278.5,312.8 278.9,311.3 279.2,309.6 279.5,307.8 279.8,305.7 280.2,303.5 280.5,301.2 280.8,298.8 281.2,296.4 281.5,293.9 281.8,291.4 282.1,289.0 282.5,286.7 282.8,284.5 283.1,282.3 283.4,280.4 283.8,278.6 284.1,277.0 284.4,275.6 284.8,274.4 285.1,273.5 285.4,272.9 285.7,272.5 286.1,272.3 286.4,272.4 286.7,272.8 287.1,273.4 287.4,274.3 287.7,275.3 288.0,276.6 288.4,278.1 288.7,279.7 289.0,281.5 289.4,283.4 289.7,285.4 290.0,287.5 290.3,289.6 290.7,291.8 291.0,293.9 291.3,296.0 291.6,298.1 292.0,300.0 292.3,301.9 292.6,303.6 293.0,305.1 293.3,306.5 293.6,307.7 293.9,308.7 294.3,309.5 294.6,310.1 294.9,310.5 295.3,310.6 295.6,310.5 295.9,310.2 296.2,309.7 296.6,309.0 296.9,308.1 297.2,307.0 297.5,305.7 297.9,304.3 298.2,302.8 298.5,301.2 298.9,299.5 299.2,297.7 299.5,295.9 299.8,294.0 300.2,292.2 300.5,290.4 300.8,288.7 301.2,287.0 301.5,285.5 301.8,284.0 302.1,282.7 302.5,281.5 302.8,280.5 303.1,279.6 303.5,278.9 303.8,278.4 304.1,278.1 304.4,278.0 304.8,278.1 305.1,278.3 305.4,278.8 305.7,279.4 306.1,280.1 306.4,281.0 306.7,282.1 307.1,283.2 307.4,284.5 307.7,285.9 308.0,287.3 308.4,288.8 308.7,290.3 309.0,291.8 309.4,293.3 309.7,294.8 310.0,296.2 310.3,297.6 310.7,298.9 311.0,300.1 311.3,301.1 311.6,302.1 312.0,302.9 312.3,303.6 312.6,304.2 313.0,304.6 313.3,304.8 313.6,304.9 313.9,304.9 314.3,304.7 314.6,304.3 314.9,303.8 315.3,303.2 315.6,302.5 315.9,301.7 316.2,300.7 316.6,299.7 316.9,298.6 317.2,297.5 317.6,296.3 317.9,295.1 318.2,293.9 318.5,292.7 318.9,291.6 319.2,290.4 319.5,289.4 319.8,288.3 320.2,287.4 320.5,286.6 320.8,285.8 321.2,285.2 321.5,284.6 321.8,284.2 322.1,283.9 322.5,283.7 322.8,283.7 323.1,283.7 323.5,283.9 323.8,284.2 324.1,284.6 324.4,285.0 324.8,285.6 325.1,286.3 325.4,287.0 325.7,287.7 326.1,288.6 326.4,289.4 326.7,290.3 327.1,291.2 327.4,292.1 327.7,292.9 328.0,293.8 328.4,294.6 328.7,295.4 329.0,296.1 329.4,296.8 329.7,297.4 330.0,297.9 330.3,298.3 330.7,298.7 331.0,299.0 331.3,299.2 331.7,299.3 332.0,299.3 332.3,299.2 332.6,299.1 333.0,298.9 333.3,298.6 333.6,298.2 333.9,297.8 334.3,297.4 334.6,296.9 334.9,296.4 335.3,295.8 335.6,295.2 335.9,294.6 336.2,294.1 336.6,293.5 336.9,292.9 337.2,292.4 337.6,291.9 337.9,291.4 338.2,291.0 338.5,290.6 338.9,290.3 339.2,290.0 339.5,289.7 339.8,289.5 340.2,289.4 340.5,289.3 340.8,289.3 341.2,289.3 341.5,289.4 341.8,289.5 342.1,289.7 342.5,289.9 342.8,290.1 343.1,290.4 343.5,290.6 343.8,290.9 344.1,291.2 344.4,291.5 344.8,291.8 345.1,292.1 345.4,292.4 345.7,292.6 346.1,292.9 346.4,293.1 346.7,293.3 347.1,293.4 347.4,293.6 347.7,293.7 348.0,293.8 348.4,293.8 348.7,293.9 349.0,293.9 349.4,293.8 349.7,293.8 350.0,293.7 350.3,293.6 350.7,293.5 351.0,293.4 351.3,293.3 351.7,293.2 352.0,293.1 352.3,293.0 352.6,292.9 353.0,292.9 353.3,292.8 353.6,292.8 353.9,292.7 354.3,292.7 354.6,292.8 354.9,292.8 355.3,292.9 355.6,293.0 355.9,293.1 356.2,293.2 356.6,293.4 356.9,293.5 357.2,293.7 357.6,293.9 357.9,294.0 358.2,294.2 358.5,294.4 358.9,294.6 359.2,294.7 359.5,294.9 359.8,295.0 360.2,295.1 360.5,295.2 360.8,295.2 361.2,295.2 361.5,295.1 361.8,295.1 362.1,294.9 362.5,294.8 362.8,294.6 363.1,294.3 363.5,294.1 363.8,293.8 364.1,293.4 364.4,293.1 364.8,292.7 365.1,292.2 365.4,291.8 365.8,291.4 366.1,291.0 366.4,290.5 366.7,290.1 367.1,289.7 367.4,289.3 367.7,289.0 368.0,288.7 368.4,288.4 368.7,288.2 369.0,288.1 369.4,288.0 369.7,288.0 370.0,288.0 370.3,288.1 370.7,288.3 371.0,288.5 371.3,288.8 371.7,289.2 372.0,289.6 372.3,290.1 372.6,290.7 373.0,291.2 373.3,291.9 373.6,292.6 373.9,293.2 374.3,294.0 374.6,294.7 374.9,295.4 375.3,296.1 375.6,296.8 375.9,297.5 376.2,298.1 376.6,298.6 376.9,299.1 377.2,299.6 377.6,299.9 377.9,300.2 378.2,300.4 378.5,300.5 378.9,300.5 379.2,300.4 379.5,300.3 379.9,300.0 380.2,299.6 380.5,299.1 380.8,298.5 381.2,297.8 381.5,297.1 381.8,296.3 382.1,295.4 382.5,294.5 382.8,293.5 383.1,292.5 383.5,291.5 383.8,290.5 384.1,289.5 384.4,288.5 384.8,287.5 385.1,286.6 385.4,285.8 385.8,285.0 386.1,284.3 386.4,283.8 386.7,283.3 387.1,282.9 387.4,282.7 387.7,282.5 388.0,282.6 388.4,282.7 388.7,283.0 389.0,283.4 389.4,283.9 389.7,284.6 390.0,285.4 390.3,286.2 390.7,287.2 391.0,288.3 391.3,289.5 391.7,290.7 392.0,292.0 392.3,293.3 392.6,294.6 393.0,295.9 393.3,297.2 393.6,298.5 394.0,299.7 394.3,300.8 394.6,301.9 394.9,302.9 395.3,303.7 395.6,304.5 395.9,305.1 396.2,305.5 396.6,305.8 396.9,306.0 397.2,306.0 397.6,305.8 397.9,305.4 398.2,304.9 398.5,304.2 398.9,303.4 399.2,302.4 399.5,301.3 399.9,300.1 400.2,298.7 400.5,297.3 400.8,295.8 401.2,294.2 401.5,292.6 401.8,291.0 402.1,289.4 402.5,287.8 402.8,286.2 403.1,284.7 403.5,283.3 403.8,282.0 404.1,280.9 404.4,279.8 404.8,278.9 405.1,278.2 405.4,277.6 405.8,277.3 406.1,277.1 406.4,277.1 406.7,277.3 407.1,277.8 407.4,278.4 407.7,279.2 408.1,280.2 408.4,281.4 408.7,282.7 409.0,284.1 409.4,285.7 409.7,287.4 410.0,289.2 410.3,291.1 410.7,293.0 411.0,294.9 411.3,296.9 411.7,298.8 412.0,300.6 412.3,302.4 412.6,304.0 413.0,305.6 413.3,307.0 413.6,308.2 414.0,309.3 414.3,310.1 414.6,310.8 414.9,311.2 415.3,311.4 415.6,311.4 415.9,311.2 416.2,310.7 416.6,310.0 416.9,309.0 417.2,307.9 417.6,306.5 417.9,305.0 418.2,303.3 418.5,301.4 418.9,299.5 419.2,297.4 419.5,295.2 419.9,293.0 420.2,290.8 420.5,288.6 420.8,286.4 421.2,284.2 421.5,282.2 421.8,280.3 422.1,278.5 422.5,276.9 422.8,275.4 423.1,274.2 423.5,273.2 423.8,272.4 424.1,271.9 424.4,271.6 424.8,271.7 425.1,271.9 425.4,272.5 425.8,273.3 426.1,274.3 426.4,275.6 426.7,277.2 427.1,278.9 427.4,280.8 427.7,282.9 428.1,285.2 428.4,287.5 428.7,290.0 429.0,292.5 429.4,295.0 429.7,297.6 430.0,300.0 430.3,302.5 430.7,304.8 431.0,307.0 431.3,309.0 431.7,310.9 432.0,312.5 432.3,313.9 432.6,315.1 433.0,316.0 433.3,316.6 433.6,316.9 434.0,316.9 434.3,316.6 434.6,316.0 434.9,315.1 435.3,313.9 435.6,312.5 435.9,310.8 436.2,308.9 436.6,306.7 436.9,304.4 437.2,301.9 437.6,299.2 437.9,296.5 438.2,293.7 438.5,290.8 438.9,288.0 439.2,285.2 439.5,282.5 439.9,279.9 440.2,277.4 440.5,275.1 440.8,273.0 441.2,271.2 441.5,269.6 441.8,268.3 442.2,267.3 442.5,266.6 442.8,266.2 443.1,266.2 443.5,266.5 443.8,267.1 444.1,268.1 444.4,269.3 444.8,270.9 445.1,272.8 445.4,274.9 445.8,277.3 446.1,279.9 446.4,282.7 446.7,285.6 447.1,288.6 447.4,291.7 447.7,294.8 448.1,298.0 448.4,301.1 448.7,304.1 449.0,307.0 449.4,309.7 449.7,312.3 450.0,314.6 450.3,316.7 450.7,318.4 451.0,319.9 451.3,321.1 451.7,321.8 452.0,322.3 452.3,322.4 452.6,322.1 453.0,321.4 453.3,320.4 453.6,319.0 454.0,317.3 454.3,315.3 454.6,312.9 454.9,310.3 455.3,307.5 455.6,304.5 455.9,301.3 456.3,298.0 456.6,294.6 456.9,291.1 457.2,287.7 457.6,284.3 457.9,281.0 458.2,277.8 458.5,274.8 458.9,272.0 459.2,269.4 459.5,267.1 459.9,265.2 460.2,263.5 460.5,262.2 460.8,261.3 461.2,260.8 461.5,260.7 461.8,261.0 462.2,261.7 462.5,262.8 462.8,264.2 463.1,266.1 463.5,268.3 463.8,270.8 464.1,273.6 464.4,276.6 464.8,279.9 465.1,283.4 465.4,287.0 465.8,290.7 466.1,294.4 466.4,298.2 466.7,301.9 467.1,305.5 467.4,309.0 467.7,312.2 468.1,315.3 468.4,318.1 468.7,320.6 469.0,322.8 469.4,324.6 469.7,326.1 470.0,327.1 470.4,327.7 470.7,327.8 471.0,327.6 471.3,326.9 471.7,325.7 472.0,324.2 472.3,322.2 472.6,319.9 473.0,317.2 473.3,314.2 473.6,310.9 474.0,307.4 474.3,303.6 474.6,299.8 474.9,295.8 475.3,291.7 475.6,287.7 475.9,283.6 476.3,279.7 476.6,276.0 476.9,272.4 477.2,269.0 477.6,266.0 477.9,263.2 478.2,260.8 478.5,258.9 478.9,257.3 479.2,256.1 479.5,255.4 479.9,255.2 480.2,255.5 480.5,256.2 480.8,257.4 481.2,259.0 481.5,261.1 481.8,263.6 482.2,266.4 482.5,269.6 482.8,273.1 483.1,276.9 483.5,280.9 483.8,285.1 484.1,289.3 484.5,293.7 484.8,298.1 485.1,302.4 485.4,306.6 485.8,310.7 486.1,314.5 486.4,318.2 486.7,321.5 487.1,324.5 487.4,327.0 487.7,329.2 488.1,331.0 488.4,332.2 488.7,333.0 489.0,333.3 489.4,333.1 489.7,332.4 490.0,331.1 490.4,329.4 490.7,327.3 491.0,324.6 491.3,321.6 491.7,318.2 492.0,314.5 492.3,310.5 492.6,306.2 493.0,301.8 493.3,297.2 493.6,292.6 494.0,287.9 494.3,283.3 494.6,278.7 494.9,274.4 495.3,270.2 495.6,266.3 495.9,262.7 496.3,259.5 496.6,256.7 496.9,254.3 497.2,252.4 497.6,251.0 497.9,250.1 498.2,249.8 498.6,250.0 498.9,250.7 499.2,251.9 499.5,253.7 499.9,256.0 500.2,258.7 500.5,261.9 500.8,265.5 501.2,269.4 501.5,273.7 501.8,278.2 502.2,282.9 502.5,287.8 502.8,292.7 503.1,297.7 503.5,302.6 503.8,307.5 504.1,312.1 504.5,316.6 504.8,320.8 505.1,324.6 505.4,328.1 505.8,331.1 506.1,333.7 506.4,335.8 506.7,337.3 507.1,338.3 507.4,338.7 507.7,338.6 508.1,337.9 508.4,336.6 508.7,334.8 509.0,332.4 509.4,329.6 509.7,326.2 510.0,322.5 510.4,318.3 510.7,313.8 511.0,309.1 511.3,304.1 511.7,298.9 512.0,293.7 512.3,288.4 512.6,283.1 513.0,278.0 513.3,273.0 513.6,268.3 514.0,263.8 514.3,259.7 514.6,256.0 514.9,252.7 515.3,249.9 515.6,247.7 515.9,246.0 516.3,244.9 516.6,244.3 516.9,244.4 517.2,245.1 517.6,246.4 517.9,248.3 518.2,250.7 518.6,253.7 518.9,257.2 519.2,261.2 519.5,265.5 519.9,270.2 520.2,275.2 520.5,280.5 520.8,285.9 521.2,291.5 521.5,297.1 521.8,302.6 522.2,308.1 522.5,313.3 522.8,318.4 523.1,323.1 523.5,327.5 523.8,331.5 524.1,335.0 524.5,338.0 524.8,340.4 525.1,342.2 525.4,343.5 525.8,344.1 526.1,344.1 526.4,343.4 526.7,342.1 527.1,340.1 527.4,337.6 527.7,334.5 528.1,330.9 528.4,326.8 528.7,322.2 529.0,317.3 529.4,312.1 529.7,306.6 530.0,300.9 530.4,295.0 530.7,289.2 531.0,283.3 531.3,277.6 531.7,272.0 532.0,266.7 532.3,261.7 532.7,257.1 533.0,252.9 533.3,249.2 533.6,246.1 534.0,243.5 534.3,241.5 534.6,240.2 534.9,239.5 535.3,239.5 535.6,240.1 535.9,241.5 536.3,243.4 536.6,246.0 536.9,249.2 537.2,252.9 537.6,257.2 537.9,261.9 538.2,267.0 538.6,272.4 538.9,278.1 539.2,284.0 539.5,290.0 539.9,296.1 540.2,302.1 540.5,308.0 540.8,313.8 541.2,319.3 541.5,324.4 541.8,329.2 542.2,333.5 542.5,337.3 542.8,340.6 543.1,343.2 543.5,345.2 543.8,346.6 544.1,347.3 544.5,347.3 544.8,346.6 545.1,345.2 545.4,343.2 545.8,340.6 546.1,337.4 546.4,333.6 546.8,329.3 547.1,324.6 547.4,319.5 547.7,314.0 548.1,308.3 548.4,302.4 548.7,296.4 549.0,290.4 549.4,284.4 549.7,278.5 550.0,272.8 550.4,267.3 550.7,262.2 551.0,257.4 551.3,253.2 551.7,249.4 552.0,246.1 552.3,243.5 552.7,241.4 553.0,240.0 553.3,239.3 553.6,239.2 554.0,239.8 554.3,241.1 554.6,243.0 554.9,245.5 555.3,248.7 555.6,252.3 555.9,256.5 556.3,261.1 556.6,266.1 556.9,271.5 557.2,277.1 557.6,282.9 557.9,288.8 558.2,294.7 558.6,300.7 558.9,306.5 559.2,312.1 559.5,317.6 559.9,322.6 560.2,327.4 560.5,331.7 560.9,335.5 561.2,338.7 561.5,341.4 561.8,343.5 562.2,344.9 562.5,345.7 562.8,345.9 563.1,345.4 563.5,344.2 563.8,342.4 564.1,339.9 564.5,336.9 564.8,333.4 565.1,329.3 565.4,324.8 565.8,319.9 566.1,314.7 566.4,309.1 566.8,303.4 567.1,297.6 567.4,291.7 567.7,285.9 568.1,280.1 568.4,274.5 568.7,269.1 569.0,264.0 569.4,259.3 569.7,255.0 570.0,251.2 570.4,247.9 570.7,245.2 571.0,243.1 571.3,241.6 571.7,240.7 572.0,240.5 572.3,240.9 572.7,242.0 573.0,243.8 573.3,246.1 573.6,249.0 574.0,252.5 574.3,256.4 574.6,260.8 575.0,265.6 575.3,270.8 575.6,276.2 575.9,281.8 576.3,287.6 576.6,293.4 576.9,299.2 577.2,305.0 577.6,310.5 577.9,315.9 578.2,320.9 578.6,325.6 578.9,329.9 579.2,333.8 579.5,337.1 579.9,339.9 580.2,342.0 580.5,343.6 580.9,344.5 581.2,344.8 581.5,344.5 581.8,343.5 582.2,341.8 582.5,339.6 582.8,336.7 583.1,333.4 583.5,329.5 583.8,325.2 584.1,320.5 584.5,315.4 584.8,310.0 585.1,304.5 585.4,298.8 585.8,293.0 586.1,287.3 586.4,281.6 586.8,276.0 587.1,270.7 587.4,265.6 587.7,260.9 588.1,256.6 588.4,252.7 588.7,249.4 589.0,246.6 589.4,244.3 589.7,242.7 590.0,241.7 590.4,241.4 590.7,241.7 591.0,242.6 591.3,244.1 591.7,246.3 592.0,249.0 592.3,252.3 592.7,256.1 593.0,260.4 593.3,265.0 593.6,270.0 594.0,275.3 594.3,280.8 594.6,286.4 595.0,292.2 595.3,297.9 595.6,303.6 595.9,309.1 596.3,314.4 596.6,319.5 596.9,324.2 597.2,328.5 597.6,332.4 597.9,335.8 598.2,338.7 598.6,340.9 598.9,342.6 599.2,343.7 599.5,344.1 599.9,343.9 600.2,343.0 600.5,341.6 600.9,339.5 601.2,336.8 601.5,333.6 601.8,329.9 602.2,325.7 602.5,321.2 602.8,316.2 603.1,311.0 603.5,305.6 603.8,300.0 604.1,294.3 604.5,288.6 604.8,282.9 605.1,277.4 605.4,272.1 605.8,267.0 606.1,262.3 606.4,257.9 606.8,254.0 607.1,250.6 607.4,247.7 607.7,245.3 608.1,243.6 608.4,242.5 608.7,242.0 609.1,242.1 609.4,242.9 609.7,244.3 610.0,246.3 610.4,248.9 610.7,252.0 611.0,255.6 611.3,259.7 611.7,264.3 612.0,269.1 612.3,274.3 612.7,279.7 613.0,285.3 613.3,290.9 613.6,296.6 614.0,302.2 614.3,307.7 614.6,313.1 615.0,318.1 615.3,322.9 615.6,327.3 615.9,331.2 616.3,334.7 616.6,337.7 616.9,340.1 617.2,341.9 617.6,343.1 617.9,343.6 618.2,343.6 618.6,342.9 618.9,341.5 619.2,339.6 619.5,337.1 619.9,334.0 620.2,330.5 620.5,326.4 620.9,322.0 621.2,317.1 621.5,312.0 621.8,306.7 622.2,301.1 622.5,295.5 622.8,289.8 623.2,284.2 623.5,278.7 623.8,273.4 624.1,268.3 624.5,263.5 624.8,259.1 625.1,255.1 625.4,251.6 625.8,248.6 626.1,246.1 626.4,244.3 626.8,243.0 627.1,242.4 627.4,242.4 627.7,243.0 628.1,244.2 628.4,246.1 628.7,248.5 629.1,251.5 629.4,255.0 629.7,259.0 630.0,263.4 630.4,268.2 630.7,273.3 631.0,278.6 631.3,284.1 631.7,289.7 632.0,295.3 632.3,301.0 632.7,306.5 633.0,311.8 633.3,316.9 633.6,321.7 634.0,326.2 634.3,330.2 634.6,333.8 635.0,336.8 635.3,339.3 635.6,341.2 635.9,342.6 636.3,343.3 636.6,343.3 636.9,342.8 637.3,341.6 637.6,339.8 637.9,337.4 638.2,334.5 638.6,331.1 638.9,327.1 639.2,322.8 639.5,318.1 639.9,313.0 640.2,307.8 640.5,302.3 640.9,296.7 641.2,291.1 641.5,285.5 641.8,280.0 642.2,274.6 642.5,269.5 642.8,264.7 643.2,260.2 643.5,256.1 643.8,252.5 644.1,249.4 644.5,246.8 644.8,244.8 645.1,243.5 645.4,242.7 645.8,242.6 646.1,243.0 646.4,244.1 646.8,245.9 647.1,248.2 647.4,251.0 647.7,254.4 648.1,258.3 648.4,262.6 648.7,267.2 649.1,272.2 649.4,277.5 649.7,282.9 650.0,288.5 650.4,294.1 650.7,299.7 651.0,305.2 651.4,310.6 651.7,315.7 652.0,320.6 652.3,325.1 652.7,329.2 653.0,332.9 653.3,336.0 653.6,338.6 654.0,340.7 654.3,342.1 654.6,343.0 655.0,343.2 655.3,342.8 655.6,341.7 655.9,340.1 656.3,337.8 656.6,335.0 656.9,331.7 657.3,327.9 657.6,323.7 657.9,319.0 658.2,314.1 658.6,308.9 658.9,303.5 659.2,297.9 659.5,292.3 659.9,286.7 660.2,281.2 660.5,275.8 660.9,270.7 661.2,265.8 661.5,261.2 661.8,257.1 662.2,253.4 662.5,250.2 662.8,247.5 663.2,245.4 663.5,243.9 663.8,243.0 664.1,242.7 664.5,243.0 664.8,244.0 665.1,245.6 665.4,247.7 665.8,250.5 666.1,253.7 666.4,257.5 666.8,261.7 667.1,266.3 667.4,271.2 667.7,276.4 668.1,281.7 668.4,287.3 668.7,292.9 669.1,298.5 669.4,304.0 669.7,309.4 670.0,314.6 670.4,319.5 670.7,324.1 671.0,328.3 671.4,332.0 671.7,335.3"/>
<polyline fill="none" stroke="#008000" stroke-width="2.35" stroke-linejoin="round" points="81.8,346.4 82.1,343.5 82.4,340.1 82.8,336.0 83.1,331.3 83.4,326.1 83.8,320.5 84.1,314.5 84.4,308.2 84.7,301.6 85.1,295.0 85.4,288.2 85.7,281.5 86.1,274.9 86.4,268.5 86.7,262.4 87.0,256.6 87.4,251.3 87.7,246.4 88.0,242.1 88.3,238.4 88.7,235.3 89.0,233.0 89.3,231.3 89.7,230.4 90.0,230.3 90.3,230.8 90.6,232.2 91.0,234.3 91.3,237.0 91.6,240.5 92.0,244.6 92.3,249.2 92.6,254.4 92.9,260.0 93.3,266.0 93.6,272.3 93.9,278.9 94.3,285.6 94.6,292.4 94.9,299.1 95.2,305.8 95.6,312.2 95.9,318.4 96.2,324.3 96.5,329.7 96.9,334.7 97.2,339.1 97.5,342.9 97.9,346.1 98.2,348.6 98.5,350.3 98.8,351.4 99.2,351.6 99.5,351.2 99.8,349.9 100.2,348.0 100.5,345.3 100.8,342.0 101.1,338.0 101.5,333.4 101.8,328.3 102.1,322.8 102.4,316.9 102.8,310.6 103.1,304.1 103.4,297.4 103.8,290.7 104.1,284.0 104.4,277.3 104.7,270.9 105.1,264.7 105.4,258.8 105.7,253.4 106.1,248.4 106.4,243.9 106.7,240.1 107.0,236.9 107.4,234.3 107.7,232.5 108.0,231.4 108.4,231.1 108.7,231.5 109.0,232.7 109.3,234.6 109.7,237.2 110.0,240.5 110.3,244.4 110.6,249.0 111.0,254.0 111.3,259.5 111.6,265.5 112.0,271.7 112.3,278.2 112.6,284.9 112.9,291.6 113.3,298.4 113.6,305.1 113.9,311.6 114.3,317.8 114.6,323.8 114.9,329.3 115.2,334.4 115.6,338.9 115.9,342.8 116.2,346.1 116.5,348.8 116.9,350.7 117.2,351.9 117.5,352.3 117.9,352.0 118.2,350.9 118.5,349.1 118.8,346.6 119.2,343.4 119.5,339.5 119.8,335.1 120.2,330.1 120.5,324.7 120.8,318.8 121.1,312.6 121.5,306.1 121.8,299.5 122.1,292.8 122.5,286.0 122.8,279.4 123.1,272.9 123.4,266.6 123.8,260.6 124.1,255.1 124.4,250.0 124.7,245.4 125.1,241.4 125.4,238.1 125.7,235.4 126.1,233.4 126.4,232.1 126.7,231.6 127.0,231.9 127.4,232.9 127.7,234.6 128.0,237.1 128.4,240.2 128.7,244.0 129.0,248.4 129.3,253.4 129.7,258.8 130.0,264.6 130.3,270.8 130.6,277.3 131.0,283.9 131.3,290.6 131.6,297.4 132.0,304.1 132.3,310.6 132.6,316.9 132.9,322.9 133.3,328.6 133.6,333.7 133.9,338.4 134.3,342.5 134.6,345.9 134.9,348.7 135.2,350.7 135.6,352.1 135.9,352.7 136.2,352.5 136.6,351.6 136.9,350.0 137.2,347.6 137.5,344.5 137.9,340.8 138.2,336.5 138.5,331.6 138.8,326.3 139.2,320.5 139.5,314.4 139.8,307.9 140.2,301.3 140.5,294.6 140.8,287.9 141.1,281.2 141.5,274.6 141.8,268.3 142.1,262.3 142.5,256.6 142.8,251.4 143.1,246.7 143.4,242.6 143.8,239.1 144.1,236.3 144.4,234.1 144.7,232.7 145.1,232.0 145.4,232.1 145.7,233.0 146.1,234.6 146.4,236.9 146.7,239.9 147.0,243.5 147.4,247.8 147.7,252.6 148.0,257.9 148.4,263.6 148.7,269.8 149.0,276.1 149.3,282.7 149.7,289.4 150.0,296.2 150.3,302.9 150.7,309.5 151.0,315.8 151.3,321.9 151.6,327.6 152.0,332.8 152.3,337.6 152.6,341.8 152.9,345.4 153.3,348.3 153.6,350.5 153.9,352.0 154.3,352.7 154.6,352.7 154.9,352.0 155.2,350.5 155.6,348.3 155.9,345.3 156.2,341.8 156.6,337.6 156.9,332.8 157.2,327.6 157.5,321.9 157.9,315.9 158.2,309.5 158.5,303.0 158.8,296.3 159.2,289.6 159.5,282.9 159.8,276.3 160.2,270.0 160.5,263.9 160.8,258.2 161.1,253.0 161.5,248.2 161.8,244.0 162.1,240.4 162.5,237.4 162.8,235.1 163.1,233.6 163.4,232.8 163.8,232.7 164.1,233.4 164.4,234.8 164.8,237.0 165.1,239.8 165.4,243.3 165.7,247.4 166.1,252.1 166.4,257.3 166.7,262.9 167.0,268.9 167.4,275.1 167.7,281.6 168.0,288.2 168.4,294.9 168.7,301.5 169.0,308.0 169.3,314.3 169.7,320.3 170.0,326.0 170.3,331.2 170.7,336.0 171.0,340.2 171.3,343.8 171.6,346.7 172.0,349.0 172.3,350.6 172.6,351.5 172.9,351.6 173.3,350.9 173.6,349.6 173.9,347.5 174.3,344.8 174.6,341.4 174.9,337.4 175.2,332.9 175.6,327.9 175.9,322.4 176.2,316.6 176.6,310.5 176.9,304.2 177.2,297.7 177.5,291.2 177.9,284.8 178.2,278.4 178.5,272.3 178.8,266.4 179.2,260.9 179.5,255.8 179.8,251.1 180.2,247.0 180.5,243.5 180.8,240.6 181.1,238.3 181.5,236.7 181.8,235.9 182.1,235.7 182.5,236.3 182.8,237.6 183.1,239.5 183.4,242.1 183.8,245.3 184.1,249.2 184.4,253.5 184.8,258.3 185.1,263.6 185.4,269.1 185.7,275.0 186.1,281.0 186.4,287.2 186.7,293.5 187.0,299.7 187.4,305.8 187.7,311.7 188.0,317.3 188.4,322.6 188.7,327.6 189.0,332.1 189.3,336.0 189.7,339.5 190.0,342.3 190.3,344.5 190.7,346.0 191.0,346.9 191.3,347.1 191.6,346.6 192.0,345.5 192.3,343.7 192.6,341.2 192.9,338.2 193.3,334.6 193.6,330.5 193.9,326.0 194.3,321.1 194.6,315.8 194.9,310.2 195.2,304.5 195.6,298.6 195.9,292.7 196.2,286.9 196.6,281.1 196.9,275.4 197.2,270.1 197.5,265.0 197.9,260.3 198.2,256.0 198.5,252.2 198.9,248.9 199.2,246.2 199.5,244.0 199.8,242.5 200.2,241.6 200.5,241.4 200.8,241.8 201.1,242.8 201.5,244.5 201.8,246.7 202.1,249.5 202.5,252.9 202.8,256.7 203.1,260.9 203.4,265.6 203.8,270.5 204.1,275.7 204.4,281.1 204.8,286.7 205.1,292.2 205.4,297.8 205.7,303.2 206.1,308.6 206.4,313.7 206.7,318.5 207.0,322.9 207.4,327.0 207.7,330.6 208.0,333.8 208.4,336.4 208.7,338.5 209.0,340.0 209.3,340.8 209.7,341.1 210.0,340.8 210.3,339.9 210.7,338.4 211.0,336.4 211.3,333.8 211.6,330.7 212.0,327.1 212.3,323.2 212.6,318.9 213.0,314.2 213.3,309.4 213.6,304.3 213.9,299.2 214.3,293.9 214.6,288.7 214.9,283.6 215.2,278.6 215.6,273.8 215.9,269.3 216.2,265.0 216.6,261.2 216.9,257.7 217.2,254.7 217.5,252.2 217.9,250.3 218.2,248.8 218.5,247.9 218.9,247.6 219.2,247.9 219.5,248.7 219.8,250.0 220.2,251.9 220.5,254.3 220.8,257.1 221.1,260.4 221.5,264.0 221.8,268.0 222.1,272.3 222.5,276.9 222.8,281.6 223.1,286.4 223.4,291.3 223.8,296.1 224.1,300.9 224.4,305.6 224.8,310.1 225.1,314.4 225.4,318.4 225.7,322.0 226.1,325.2 226.4,328.1 226.7,330.4 227.1,332.3 227.4,333.7 227.7,334.6 228.0,334.9 228.4,334.8 228.7,334.1 229.0,332.9 229.3,331.2 229.7,329.0 230.0,326.4 230.3,323.4 230.7,320.0 231.0,316.3 231.3,312.4 231.6,308.2 232.0,303.8 232.3,299.3 232.6,294.8 233.0,290.3 233.3,285.8 233.6,281.5 233.9,277.3 234.3,273.3 234.6,269.6 234.9,266.2 235.2,263.1 235.6,260.5 235.9,258.2 236.2,256.4 236.6,255.1 236.9,254.2 237.2,253.9 237.5,254.0 237.9,254.6 238.2,255.7 238.5,257.2 238.9,259.2 239.2,261.5 239.5,264.3 239.8,267.4 240.2,270.8 240.5,274.4 240.8,278.3 241.2,282.3 241.5,286.4 241.8,290.6 242.1,294.8 242.5,298.9 242.8,302.9 243.1,306.8 243.4,310.5 243.8,314.0 244.1,317.1 244.4,320.0 244.8,322.5 245.1,324.6 245.4,326.2 245.7,327.5 246.1,328.3 246.4,328.7 246.7,328.7 247.1,328.1 247.4,327.2 247.7,325.8 248.0,324.1 248.4,321.9 248.7,319.4 249.0,316.6 249.3,313.5 249.7,310.2 250.0,306.6 250.3,303.0 250.7,299.2 251.0,295.4 251.3,291.5 251.6,287.7 252.0,284.0 252.3,280.5 252.6,277.1 253.0,273.9 253.3,271.0 253.6,268.3 253.9,266.0 254.3,264.1 254.6,262.5 254.9,261.3 255.2,260.5 255.6,260.1 255.9,260.2 256.2,260.6 256.6,261.4 256.9,262.7 257.2,264.2 257.5,266.2 257.9,268.4 258.2,271.0 258.5,273.8 258.9,276.8 259.2,280.0 259.5,283.3 259.8,286.7 260.2,290.2 260.5,293.7 260.8,297.2 261.2,300.5 261.5,303.8 261.8,306.9 262.1,309.8 262.5,312.5 262.8,314.9 263.1,317.0 263.4,318.8 263.8,320.3 264.1,321.4 264.4,322.1 264.8,322.5 265.1,322.5 265.4,322.1 265.7,321.4 266.1,320.3 266.4,318.9 266.7,317.2 267.1,315.2 267.4,312.9 267.7,310.4 268.0,307.7 268.4,304.8 268.7,301.8 269.0,298.8 269.3,295.6 269.7,292.5 270.0,289.4 270.3,286.3 270.7,283.4 271.0,280.6 271.3,278.0 271.6,275.5 272.0,273.4 272.3,271.4 272.6,269.8 273.0,268.5 273.3,267.5 273.6,266.8 273.9,266.4 274.3,266.4 274.6,266.7 274.9,267.3 275.3,268.2 275.6,269.5 275.9,271.0 276.2,272.8 276.6,274.8 276.9,277.0 277.2,279.4 277.5,282.0 277.9,284.6 278.2,287.4 278.5,290.1 278.9,292.9 279.2,295.7 279.5,298.4 279.8,301.1 280.2,303.5 280.5,305.9 280.8,308.0 281.2,310.0 281.5,311.7 281.8,313.2 282.1,314.4 282.5,315.3 282.8,315.9 283.1,316.3 283.4,316.3 283.8,316.1 284.1,315.5 284.4,314.7 284.8,313.6 285.1,312.3 285.4,310.8 285.7,309.0 286.1,307.1 286.4,305.0 286.7,302.7 287.1,300.4 287.4,298.0 287.7,295.6 288.0,293.1 288.4,290.7 288.7,288.3 289.0,286.0 289.4,283.8 289.7,281.8 290.0,279.9 290.3,278.2 290.7,276.7 291.0,275.4 291.3,274.3 291.6,273.5 292.0,272.9 292.3,272.6 292.6,272.6 293.0,272.8 293.3,273.2 293.6,273.9 293.9,274.8 294.3,276.0 294.6,277.3 294.9,278.8 295.3,280.5 295.6,282.3 295.9,284.2 296.2,286.2 296.6,288.3 296.9,290.4 297.2,292.5 297.5,294.6 297.9,296.6 298.2,298.6 298.5,300.4 298.9,302.2 299.2,303.8 299.5,305.3 299.8,306.6 300.2,307.7 300.5,308.6 300.8,309.3 301.2,309.8 301.5,310.1 301.8,310.1 302.1,309.9 302.5,309.6 302.8,309.0 303.1,308.2 303.5,307.3 303.8,306.1 304.1,304.9 304.4,303.5 304.8,302.0 305.1,300.4 305.4,298.7 305.7,296.9 306.1,295.2 306.4,293.4 306.7,291.7 307.1,290.0 307.4,288.3 307.7,286.8 308.0,285.3 308.4,284.0 308.7,282.8 309.0,281.7 309.4,280.8 309.7,280.0 310.0,279.5 310.3,279.1 310.7,278.8 311.0,278.8 311.3,278.9 311.6,279.2 312.0,279.7 312.3,280.3 312.6,281.1 313.0,282.0 313.3,283.1 313.6,284.2 313.9,285.4 314.3,286.7 314.6,288.1 314.9,289.5 315.3,290.9 315.6,292.3 315.9,293.7 316.2,295.1 316.6,296.4 316.9,297.6 317.2,298.8 317.6,299.8 317.9,300.8 318.2,301.7 318.5,302.4 318.9,303.0 319.2,303.4 319.5,303.7 319.8,303.9 320.2,303.9 320.5,303.8 320.8,303.5 321.2,303.2 321.5,302.7 321.8,302.0 322.1,301.3 322.5,300.5 322.8,299.6 323.1,298.7 323.5,297.7 323.8,296.7 324.1,295.6 324.4,294.5 324.8,293.5 325.1,292.4 325.4,291.4 325.7,290.4 326.1,289.5 326.4,288.6 326.7,287.8 327.1,287.1 327.4,286.5 327.7,286.0 328.0,285.6 328.4,285.3 328.7,285.1 329.0,285.0 329.4,285.0 329.7,285.1 330.0,285.3 330.3,285.6 330.7,286.0 331.0,286.4 331.3,286.9 331.7,287.5 332.0,288.2 332.3,288.8 332.6,289.5 333.0,290.3 333.3,291.0 333.6,291.7 333.9,292.4 334.3,293.2 334.6,293.8 334.9,294.5 335.3,295.1 335.6,295.6 335.9,296.1 336.2,296.5 336.6,296.9 336.9,297.2 337.2,297.4 337.6,297.6 337.9,297.7 338.2,297.7 338.5,297.7 338.9,297.6 339.2,297.4 339.5,297.2 339.8,297.0 340.2,296.7 340.5,296.3 340.8,296.0 341.2,295.6 341.5,295.2 341.8,294.8 342.1,294.4 342.5,293.9 342.8,293.6 343.1,293.2 343.5,292.8 343.8,292.5 344.1,292.2 344.4,291.9 344.8,291.7 345.1,291.5 345.4,291.3 345.7,291.2 346.1,291.1 346.4,291.0 346.7,291.0 347.1,291.1 347.4,291.1 347.7,291.2 348.0,291.3 348.4,291.4 348.7,291.6 349.0,291.7 349.4,291.9 349.7,292.0 350.0,292.2 350.3,292.3 350.7,292.5 351.0,292.6 351.3,292.7 351.7,292.8 352.0,292.8 352.3,292.9 352.6,292.9 353.0,292.9 353.3,292.9 353.6,292.8 353.9,292.7 354.3,292.7 354.6,292.6 354.9,292.5 355.3,292.3 355.6,292.2 355.9,292.1 356.2,292.0 356.6,291.8 356.9,291.7 357.2,291.6 357.6,291.5 357.9,291.5 358.2,291.4 358.5,291.4 358.9,291.4 359.2,291.5 359.5,291.5 359.8,291.6 360.2,291.8 360.5,291.9 360.8,292.1 361.2,292.4 361.5,292.6 361.8,292.9 362.1,293.2 362.5,293.5 362.8,293.9 363.1,294.2 363.5,294.5 363.8,294.9 364.1,295.2 364.4,295.5 364.8,295.8 365.1,296.1 365.4,296.3 365.8,296.5 366.1,296.7 366.4,296.8 366.7,296.9 367.1,296.9 367.4,296.9 367.7,296.8 368.0,296.6 368.4,296.4 368.7,296.2 369.0,295.8 369.4,295.5 369.7,295.0 370.0,294.6 370.3,294.1 370.7,293.5 371.0,292.9 371.3,292.3 371.7,291.7 372.0,291.1 372.3,290.5 372.6,289.9 373.0,289.3 373.3,288.8 373.6,288.3 373.9,287.8 374.3,287.4 374.6,287.0 374.9,286.7 375.3,286.5 375.6,286.3 375.9,286.3 376.2,286.3 376.6,286.4 376.9,286.6 377.2,286.9 377.6,287.3 377.9,287.7 378.2,288.2 378.5,288.8 378.9,289.5 379.2,290.3 379.5,291.0 379.9,291.9 380.2,292.7 380.5,293.6 380.8,294.5 381.2,295.4 381.5,296.3 381.8,297.2 382.1,298.0 382.5,298.8 382.8,299.5 383.1,300.2 383.5,300.8 383.8,301.2 384.1,301.6 384.4,301.9 384.8,302.1 385.1,302.2 385.4,302.1 385.8,301.9 386.1,301.6 386.4,301.2 386.7,300.7 387.1,300.1 387.4,299.3 387.7,298.5 388.0,297.6 388.4,296.6 388.7,295.5 389.0,294.4 389.4,293.2 389.7,292.1 390.0,290.9 390.3,289.7 390.7,288.5 391.0,287.4 391.3,286.3 391.7,285.3 392.0,284.3 392.3,283.5 392.6,282.8 393.0,282.1 393.3,281.6 393.6,281.3 394.0,281.1 394.3,281.0 394.6,281.1 394.9,281.3 395.3,281.7 395.6,282.2 395.9,282.9 396.2,283.7 396.6,284.6 396.9,285.7 397.2,286.9 397.6,288.1 397.9,289.5 398.2,290.9 398.5,292.3 398.9,293.8 399.2,295.3 399.5,296.8 399.9,298.2 400.2,299.6 400.5,300.9 400.8,302.2 401.2,303.4 401.5,304.4 401.8,305.3 402.1,306.1 402.5,306.7 402.8,307.1 403.1,307.4 403.5,307.5 403.8,307.4 404.1,307.1 404.4,306.6 404.8,306.0 405.1,305.2 405.4,304.2 405.8,303.0 406.1,301.8 406.4,300.4 406.7,298.8 407.1,297.2 407.4,295.5 407.7,293.8 408.1,292.0 408.4,290.2 408.7,288.5 409.0,286.7 409.4,285.1 409.7,283.5 410.0,282.0 410.3,280.6 410.7,279.4 411.0,278.3 411.3,277.4 411.7,276.7 412.0,276.1 412.3,275.8 412.6,275.7 413.0,275.8 413.3,276.1 413.6,276.7 414.0,277.4 414.3,278.4 414.6,279.5 414.9,280.8 415.3,282.3 415.6,284.0 415.9,285.8 416.2,287.6 416.6,289.6 416.9,291.6 417.2,293.7 417.6,295.8 417.9,297.8 418.2,299.8 418.5,301.8 418.9,303.7 419.2,305.4 419.5,307.0 419.9,308.4 420.2,309.7 420.5,310.8 420.8,311.6 421.2,312.2 421.5,312.6 421.8,312.7 422.1,312.6 422.5,312.3 422.8,311.7 423.1,310.8 423.5,309.7 423.8,308.4 424.1,306.9 424.4,305.2 424.8,303.3 425.1,301.3 425.4,299.2 425.8,296.9 426.1,294.6 426.4,292.3 426.7,289.9 427.1,287.5 427.4,285.2 427.7,283.0 428.1,280.9 428.4,278.9 428.7,277.0 429.0,275.4 429.4,273.9 429.7,272.7 430.0,271.7 430.3,271.0 430.7,270.6 431.0,270.4 431.3,270.5 431.7,270.9 432.0,271.6 432.3,272.5 432.6,273.7 433.0,275.2 433.3,276.9 433.6,278.8 434.0,280.9 434.3,283.1 434.6,285.6 434.9,288.1 435.3,290.7 435.6,293.3 435.9,296.0 436.2,298.6 436.6,301.2 436.9,303.8 437.2,306.2 437.6,308.4 437.9,310.5 438.2,312.3 438.5,314.0 438.9,315.4 439.2,316.5 439.5,317.3 439.9,317.8 440.2,318.0 440.5,317.9 440.8,317.5 441.2,316.8 441.5,315.8 441.8,314.5 442.2,312.8 442.5,311.0 442.8,308.9 443.1,306.6 443.5,304.0 443.8,301.4 444.1,298.6 444.4,295.7 444.8,292.7 445.1,289.8 445.4,286.8 445.8,284.0 446.1,281.2 446.4,278.5 446.7,276.0 447.1,273.7 447.4,271.6 447.7,269.7 448.1,268.2 448.4,266.9 448.7,266.0 449.0,265.4 449.4,265.1 449.7,265.2 450.0,265.6 450.3,266.4 450.7,267.5 451.0,268.9 451.3,270.7 451.7,272.7 452.0,275.0 452.3,277.6 452.6,280.3 453.0,283.2 453.3,286.3 453.6,289.5 454.0,292.7 454.3,296.0 454.6,299.2 454.9,302.4 455.3,305.5 455.6,308.4 455.9,311.2 456.3,313.7 456.6,316.1 456.9,318.1 457.2,319.8 457.6,321.2 457.9,322.3 458.2,323.0 458.5,323.3 458.9,323.3 459.2,322.8 459.5,322.0 459.9,320.8 460.2,319.3 460.5,317.4 460.8,315.2 461.2,312.7 461.5,310.0 461.8,307.0 462.2,303.8 462.5,300.5 462.8,297.0 463.1,293.5 463.5,289.9 463.8,286.4 464.1,282.9 464.4,279.6 464.8,276.3 465.1,273.3 465.4,270.5 465.8,267.9 466.1,265.7 466.4,263.8 466.7,262.2 467.1,261.0 467.4,260.2 467.7,259.8 468.1,259.9 468.4,260.3 468.7,261.1 469.0,262.4 469.4,264.0 469.7,266.0 470.0,268.4 470.4,271.1 470.7,274.0 471.0,277.3 471.3,280.7 471.7,284.3 472.0,288.0 472.3,291.8 472.6,295.7 473.0,299.5 473.3,303.3 473.6,307.0 474.0,310.5 474.3,313.8 474.6,316.8 474.9,319.6 475.3,322.1 475.6,324.2 475.9,325.9 476.3,327.2 476.6,328.1 476.9,328.6 477.2,328.6 477.6,328.2 477.9,327.3 478.2,326.0 478.5,324.3 478.9,322.1 479.2,319.6 479.5,316.8 479.9,313.6 480.2,310.1 480.5,306.5 480.8,302.6 481.2,298.6 481.5,294.5 481.8,290.3 482.2,286.2 482.5,282.1 482.8,278.2 483.1,274.4 483.5,270.8 483.8,267.5 484.1,264.5 484.5,261.8 484.8,259.5 485.1,257.6 485.4,256.2 485.8,255.1 486.1,254.6 486.4,254.5 486.7,254.9 487.1,255.8 487.4,257.2 487.7,259.0 488.1,261.3 488.4,263.9 488.7,266.9 489.0,270.3 489.4,274.0 489.7,277.9 490.0,282.0 490.4,286.3 490.7,290.7 491.0,295.1 491.3,299.6 491.7,303.9 492.0,308.2 492.3,312.3 492.6,316.1 493.0,319.7 493.3,323.0 493.6,325.9 494.0,328.4 494.3,330.4 494.6,332.1 494.9,333.2 495.3,333.8 495.6,333.9 495.9,333.5 496.3,332.6 496.6,331.2 496.9,329.3 497.2,327.0 497.6,324.2 497.9,321.0 498.2,317.4 498.6,313.5 498.9,309.4 499.2,305.0 499.5,300.4 499.9,295.8 500.2,291.0 500.5,286.3 500.8,281.6 501.2,277.1 501.5,272.7 501.8,268.6 502.2,264.7 502.5,261.2 502.8,258.1 503.1,255.4 503.5,253.1 503.8,251.4 504.1,250.1 504.5,249.4 504.8,249.2 505.1,249.6 505.4,250.5 505.8,251.9 506.1,253.9 506.4,256.4 506.7,259.3 507.1,262.6 507.4,266.4 507.7,270.5 508.1,274.9 508.4,279.5 508.7,284.4 509.0,289.3 509.4,294.3 509.7,299.4 510.0,304.3 510.4,309.2 510.7,313.8 511.0,318.3 511.3,322.4 511.7,326.1 512.0,329.5 512.3,332.4 512.6,334.9 513.0,336.8 513.3,338.2 513.6,339.0 514.0,339.2 514.3,338.9 514.6,338.0 514.9,336.5 515.3,334.5 515.6,331.9 515.9,328.9 516.3,325.4 516.6,321.4 516.9,317.1 517.2,312.5 517.6,307.6 517.9,302.5 518.2,297.3 518.6,292.0 518.9,286.6 519.2,281.4 519.5,276.2 519.9,271.3 520.2,266.6 520.5,262.2 520.8,258.2 521.2,254.6 521.5,251.4 521.8,248.8 522.2,246.7 522.5,245.2 522.8,244.3 523.1,243.9 523.5,244.2 523.8,245.1 524.1,246.6 524.5,248.7 524.8,251.4 525.1,254.5 525.4,258.2 525.8,262.3 526.1,266.8 526.4,271.7 526.7,276.8 527.1,282.2 527.4,287.7 527.7,293.3 528.1,298.9 528.4,304.4 528.7,309.9 529.0,315.1 529.4,320.1 529.7,324.7 530.0,329.0 530.4,332.8 530.7,336.1 531.0,338.9 531.3,341.2 531.7,342.8 532.0,343.8 532.3,344.2 532.7,344.0 533.0,343.1 533.3,341.5 533.6,339.4 534.0,336.7 534.3,333.4 534.6,329.6 534.9,325.3 535.3,320.6 535.6,315.6 535.9,310.3 536.3,304.7 536.6,299.0 536.9,293.1 537.2,287.3 537.6,281.5 537.9,275.9 538.2,270.5 538.6,265.3 538.9,260.5 539.2,256.0 539.5,252.0 539.9,248.6 540.2,245.7 540.5,243.3 540.8,241.6 541.2,240.5 541.5,240.1 541.8,240.3 542.2,241.2 542.5,242.8 542.8,245.0 543.1,247.8 543.5,251.1 543.8,255.0 544.1,259.3 544.5,264.1 544.8,269.2 545.1,274.7 545.4,280.3 545.8,286.1 546.1,292.0 546.4,297.9 546.8,303.7 547.1,309.4 547.4,314.9 547.7,320.1 548.1,325.0 548.4,329.5 548.7,333.5 549.0,337.0 549.4,339.9 549.7,342.3 550.0,344.0 550.4,345.1 550.7,345.6 551.0,345.4 551.3,344.5 551.7,343.0 552.0,340.9 552.3,338.2 552.7,334.9 553.0,331.1 553.3,326.8 553.6,322.1 554.0,317.0 554.3,311.6 554.6,306.0 554.9,300.3 555.3,294.4 555.6,288.6 555.9,282.8 556.3,277.1 556.6,271.6 556.9,266.4 557.2,261.5 557.6,257.0 557.9,253.0 558.2,249.5 558.6,246.5 558.9,244.1 559.2,242.3 559.5,241.1 559.9,240.6 560.2,240.8 560.5,241.5 560.9,243.0 561.2,245.0 561.5,247.7 561.8,250.9 562.2,254.6 562.5,258.8 562.8,263.4 563.1,268.4 563.5,273.7 563.8,279.3 564.1,285.0 564.5,290.8 564.8,296.6 565.1,302.3 565.4,308.0 565.8,313.5 566.1,318.7 566.4,323.5 566.8,328.0 567.1,332.1 567.4,335.6 567.7,338.7 568.1,341.1 568.4,343.0 568.7,344.2 569.0,344.8 569.4,344.7 569.7,344.0 570.0,342.7 570.4,340.7 570.7,338.1 571.0,335.0 571.3,331.4 571.7,327.2 572.0,322.7 572.3,317.8 572.7,312.5 573.0,307.1 573.3,301.4 573.6,295.7 574.0,289.9 574.3,284.1 574.6,278.5 575.0,273.1 575.3,267.9 575.6,263.0 575.9,258.5 576.3,254.4 576.6,250.8 576.9,247.7 577.2,245.2 577.6,243.3 577.9,242.0 578.2,241.4 578.6,241.4 578.9,242.0 579.2,243.3 579.5,245.1 579.9,247.6 580.2,250.7 580.5,254.2 580.9,258.3 581.2,262.8 581.5,267.6 581.8,272.8 582.2,278.2 582.5,283.8 582.8,289.5 583.1,295.3 583.5,301.0 583.8,306.6 584.1,312.0 584.5,317.3 584.8,322.1 585.1,326.7 585.4,330.8 585.8,334.4 586.1,337.5 586.4,340.1 586.8,342.1 587.1,343.4 587.4,344.1 587.7,344.2 588.1,343.7 588.4,342.5 588.7,340.7 589.0,338.3 589.4,335.3 589.7,331.8 590.0,327.8 590.4,323.4 590.7,318.6 591.0,313.5 591.3,308.1 591.7,302.6 592.0,296.9 592.3,291.2 592.7,285.5 593.0,279.9 593.3,274.4 593.6,269.2 594.0,264.3 594.3,259.7 594.6,255.6 595.0,251.9 595.3,248.8 595.6,246.2 595.9,244.1 596.3,242.7 596.6,241.9 596.9,241.8 597.2,242.3 597.6,243.4 597.9,245.1 598.2,247.4 598.6,250.3 598.9,253.8 599.2,257.7 599.5,262.0 599.9,266.8 600.2,271.8 600.5,277.1 600.9,282.7 601.2,288.3 601.5,294.0 601.8,299.7 602.2,305.3 602.5,310.7 602.8,316.0 603.1,320.9 603.5,325.5 603.8,329.6 604.1,333.3 604.5,336.6 604.8,339.2 605.1,341.3 605.4,342.8 605.8,343.6 606.1,343.9 606.4,343.5 606.8,342.4 607.1,340.8 607.4,338.5 607.7,335.7 608.1,332.3 608.4,328.5 608.7,324.2 609.1,319.5 609.4,314.5 609.7,309.2 610.0,303.7 610.4,298.1 610.7,292.4 611.0,286.7 611.3,281.2 611.7,275.7 612.0,270.5 612.3,265.5 612.7,260.9 613.0,256.7 613.3,253.0 613.6,249.7 614.0,247.0 614.3,244.8 614.6,243.3 615.0,242.4 615.3,242.1 615.6,242.4 615.9,243.4 616.3,245.0 616.6,247.2 616.9,249.9 617.2,253.2 617.6,257.0 617.9,261.2 618.2,265.8 618.6,270.8 618.9,276.1 619.2,281.5 619.5,287.1 619.9,292.8 620.2,298.4 620.5,304.0 620.9,309.5 621.2,314.7 621.5,319.7 621.8,324.3 622.2,328.6 622.5,332.4 622.8,335.7 623.2,338.4 623.5,340.7 623.8,342.3 624.1,343.3 624.5,343.6 624.8,343.3 625.1,342.4 625.4,340.9 625.8,338.8 626.1,336.1 626.4,332.9 626.8,329.2 627.1,325.0 627.4,320.4 627.7,315.5 628.1,310.3 628.4,304.9 628.7,299.3 629.1,293.7 629.4,288.0 629.7,282.4 630.0,277.0 630.4,271.7 630.7,266.7 631.0,262.0 631.3,257.7 631.7,253.9 632.0,250.5 632.3,247.7 632.7,245.5 633.0,243.8 633.3,242.7 633.6,242.3 634.0,242.5 634.3,243.3 634.6,244.8 635.0,246.8 635.3,249.4 635.6,252.6 635.9,256.3 636.3,260.4 636.6,264.9 636.9,269.8 637.3,275.0 637.6,280.3 637.9,285.9 638.2,291.5 638.6,297.2 638.9,302.8 639.2,308.2 639.5,313.5 639.9,318.5 640.2,323.2 640.5,327.6 640.9,331.4 641.2,334.8 641.5,337.7 641.8,340.1 642.2,341.8 642.5,342.9 642.8,343.4 643.2,343.3 643.5,342.5 643.8,341.2 644.1,339.2 644.5,336.6 644.8,333.5 645.1,329.9 645.4,325.8 645.8,321.4 646.1,316.5 646.4,311.4 646.8,306.0 647.1,300.5 647.4,294.9 647.7,289.3 648.1,283.7 648.4,278.2 648.7,272.9 649.1,267.8 649.4,263.1 649.7,258.7 650.0,254.8 650.4,251.4 650.7,248.4 651.0,246.0 651.4,244.2 651.7,243.0 652.0,242.5 652.3,242.5 652.7,243.2 653.0,244.5 653.3,246.4 653.6,248.9 654.0,252.0 654.3,255.5 654.6,259.5 655.0,264.0 655.3,268.8 655.6,273.9 655.9,279.2 656.3,284.7 656.6,290.3 656.9,295.9 657.3,301.5 657.6,307.0 657.9,312.3 658.2,317.4 658.6,322.2 658.9,326.6 659.2,330.5 659.5,334.0 659.9,337.0 660.2,339.5 660.5,341.3 660.9,342.6 661.2,343.2 661.5,343.3 661.8,342.6 662.2,341.4 662.5,339.6 662.8,337.1 663.2,334.1 663.5,330.7 663.8,326.7 664.1,322.3 664.5,317.6 664.8,312.5 665.1,307.2 665.4,301.7 665.8,296.1 666.1,290.5 666.4,284.9 666.8,279.4 667.1,274.1 667.4,269.0 667.7,264.2 668.1,259.7 668.4,255.7 668.7,252.1 669.1,249.1 669.4,246.6 669.7,244.7 670.0,243.3 670.4,242.6 670.7,242.6 671.0,243.1 671.4,244.3 671.7,246.1"/>
</g>
<text x="118.66" y="387.60" font-size="18" text-anchor="middle">0.1</text>
<text x="210.83" y="387.60" font-size="18" text-anchor="middle">0.2</text>
<text x="303.00" y="387.60" font-size="18" text-anchor="middle">0.3</text>
<text x="395.17" y="387.60" font-size="18" text-anchor="middle">0.4</text>
<text x="487.34" y="387.60" font-size="18" text-anchor="middle">0.5</text>
<text x="579.51" y="387.60" font-size="18" text-anchor="middle">0.6</text>
<text x="671.68" y="387.60" font-size="18" text-anchor="middle">0.7</text>
<text x="73.8" y="230.90" font-size="18" text-anchor="end">10</text>
<text x="73.8" y="300.00" font-size="18" text-anchor="end">0</text>
<text x="73.8" y="369.10" font-size="18" text-anchor="end">-10</text>
<text x="376.50" y="217.40" font-size="20" text-anchor="middle"><tspan font-size="17.8">(</tspan><tspan dx="0.4">b</tspan><tspan font-size="17.8" dx="0.4">)</tspan></text>
<text transform="translate(30.0,292.40) rotate(-90)" font-size="20.4" text-anchor="middle">I<tspan font-size="16" dx="1" dy="9">g</tspan><tspan dx="1.5" dy="-9" xml:space="preserve"> (A)</tspan></text>
<line x1="118.66" y1="426.7" x2="118.66" y2="564.9" stroke="#adadad" stroke-width="1.0"/>
<line x1="210.83" y1="426.7" x2="210.83" y2="564.9" stroke="#adadad" stroke-width="1.0"/>
<line x1="303.00" y1="426.7" x2="303.00" y2="564.9" stroke="#adadad" stroke-width="1.0"/>
<line x1="395.17" y1="426.7" x2="395.17" y2="564.9" stroke="#adadad" stroke-width="1.0"/>
<line x1="487.34" y1="426.7" x2="487.34" y2="564.9" stroke="#adadad" stroke-width="1.0"/>
<line x1="579.51" y1="426.7" x2="579.51" y2="564.9" stroke="#adadad" stroke-width="1.0"/>
<line x1="82.0" y1="495.80" x2="671.8" y2="495.80" stroke="#adadad" stroke-width="1.0"/>
<rect x="82.0" y="426.7" width="589.80" height="138.20" fill="none" stroke="#262626" stroke-width="1.0"/>
<line x1="118.66" y1="564.9" x2="118.66" y2="558.4" stroke="#262626" stroke-width="1.0"/>
<line x1="118.66" y1="426.7" x2="118.66" y2="433.2" stroke="#262626" stroke-width="1.0"/>
<line x1="210.83" y1="564.9" x2="210.83" y2="558.4" stroke="#262626" stroke-width="1.0"/>
<line x1="210.83" y1="426.7" x2="210.83" y2="433.2" stroke="#262626" stroke-width="1.0"/>
<line x1="303.00" y1="564.9" x2="303.00" y2="558.4" stroke="#262626" stroke-width="1.0"/>
<line x1="303.00" y1="426.7" x2="303.00" y2="433.2" stroke="#262626" stroke-width="1.0"/>
<line x1="395.17" y1="564.9" x2="395.17" y2="558.4" stroke="#262626" stroke-width="1.0"/>
<line x1="395.17" y1="426.7" x2="395.17" y2="433.2" stroke="#262626" stroke-width="1.0"/>
<line x1="487.34" y1="564.9" x2="487.34" y2="558.4" stroke="#262626" stroke-width="1.0"/>
<line x1="487.34" y1="426.7" x2="487.34" y2="433.2" stroke="#262626" stroke-width="1.0"/>
<line x1="579.51" y1="564.9" x2="579.51" y2="558.4" stroke="#262626" stroke-width="1.0"/>
<line x1="579.51" y1="426.7" x2="579.51" y2="433.2" stroke="#262626" stroke-width="1.0"/>
<line x1="82.0" y1="495.80" x2="88.5" y2="495.80" stroke="#262626" stroke-width="1.0"/>
<line x1="671.8" y1="495.80" x2="665.3" y2="495.80" stroke="#262626" stroke-width="1.0"/>
<g clip-path="url(#clipc)">
<polyline fill="none" stroke="#0000ff" stroke-width="2.25" stroke-linejoin="round" points="81.8,496.7 82.1,498.5 82.4,501.0 82.8,503.4 83.1,504.8 83.4,505.3 83.8,505.1 84.1,504.7 84.4,504.2 84.7,503.8 85.1,503.7 85.4,503.9 85.7,504.4 86.1,505.3 86.4,506.4 86.7,507.8 87.0,509.4 87.4,511.0 87.7,512.5 88.0,513.9 88.3,515.0 88.7,515.8 89.0,516.1 89.3,515.9 89.7,515.3 90.0,514.2 90.3,513.0 90.6,511.5 91.0,509.9 91.3,508.4 91.6,506.9 92.0,505.7 92.3,504.7 92.6,504.0 92.9,503.8 93.3,504.1 93.6,504.9 93.9,506.0 94.3,507.3 94.6,508.8 94.9,510.3 95.2,511.8 95.6,513.1 95.9,514.1 96.2,514.7 96.5,515.0 96.9,515.0 97.2,514.7 97.5,514.3 97.9,513.6 98.2,512.9 98.5,512.2 98.8,511.4 99.2,510.7 99.5,510.2 99.8,509.8 100.2,509.5 100.5,509.3 100.8,509.2 101.1,509.2 101.5,509.2 101.8,509.2 102.1,509.2 102.4,509.2 102.8,509.2 103.1,509.4 103.4,509.7 103.8,510.1 104.1,510.7 104.4,511.3 104.7,512.0 105.1,512.7 105.4,513.4 105.7,514.0 106.1,514.5 106.4,514.9 106.7,515.2 107.0,515.3 107.4,515.1 107.7,514.7 108.0,514.1 108.4,513.4 108.7,512.6 109.0,511.6 109.3,510.7 109.7,509.8 110.0,508.9 110.3,508.1 110.6,507.5 111.0,507.1 111.3,506.9 111.6,506.9 112.0,507.2 112.3,507.7 112.6,508.3 112.9,509.1 113.3,509.9 113.6,510.8 113.9,511.6 114.3,512.4 114.6,513.1 114.9,513.7 115.2,514.2 115.6,514.4 115.9,514.4 116.2,514.2 116.5,513.8 116.9,513.4 117.2,512.8 117.5,512.1 117.9,511.4 118.2,510.7 118.5,509.9 118.8,509.2 119.2,508.6 119.5,508.1 119.8,507.7 120.2,507.4 120.5,507.3 120.8,507.4 121.1,507.6 121.5,507.9 121.8,508.4 122.1,508.9 122.5,509.6 122.8,510.3 123.1,511.0 123.4,511.7 123.8,512.4 124.1,513.1 124.4,513.6 124.7,514.0 125.1,514.2 125.4,514.2 125.7,514.0 126.1,513.6 126.4,513.0 126.7,512.2 127.0,511.3 127.4,510.3 127.7,509.3 128.0,508.4 128.4,507.5 128.7,506.9 129.0,506.4 129.3,506.1 129.7,506.0 130.0,506.1 130.3,506.4 130.6,506.9 131.0,507.5 131.3,508.2 131.6,509.0 132.0,509.9 132.3,510.7 132.6,511.5 132.9,512.3 133.3,512.9 133.6,513.4 133.9,513.7 134.3,513.9 134.6,513.9 134.9,513.7 135.2,513.3 135.6,512.8 135.9,512.2 136.2,511.5 136.6,510.8 136.9,510.0 137.2,509.3 137.5,508.7 137.9,508.1 138.2,507.7 138.5,507.5 138.8,507.4 139.2,507.5 139.5,507.7 139.8,508.1 140.2,508.7 140.5,509.3 140.8,510.0 141.1,510.8 141.5,511.5 141.8,512.2 142.1,512.8 142.5,513.3 142.8,513.7 143.1,513.9 143.4,513.9 143.8,513.7 144.1,513.4 144.4,512.9 144.7,512.3 145.1,511.5 145.4,510.7 145.7,509.9 146.1,509.0 146.4,508.2 146.7,507.5 147.0,506.8 147.4,506.4 147.7,506.1 148.0,505.9 148.4,506.0 148.7,506.3 149.0,506.7 149.3,507.3 149.7,508.0 150.0,508.7 150.3,509.6 150.7,510.4 151.0,511.2 151.3,512.0 151.6,512.6 152.0,513.2 152.3,513.5 152.6,513.7 152.9,513.7 153.3,513.5 153.6,513.2 153.9,512.7 154.3,512.1 154.6,511.4 154.9,510.7 155.2,510.0 155.6,509.2 155.9,508.6 156.2,508.0 156.6,507.6 156.9,507.3 157.2,507.1 157.5,507.2 157.9,507.4 158.2,507.7 158.5,508.3 158.8,508.9 159.2,509.6 159.5,510.3 159.8,511.0 160.2,511.7 160.5,512.3 160.8,512.8 161.1,513.2 161.5,513.4 161.8,513.5 162.1,513.3 162.5,513.0 162.8,512.5 163.1,511.9 163.4,511.2 163.8,510.3 164.1,509.4 164.4,508.5 164.8,507.7 165.1,506.9 165.4,506.2 165.7,505.7 166.1,505.3 166.4,505.1 166.7,505.1 167.0,505.2 167.4,505.6 167.7,506.1 168.0,506.7 168.4,507.4 168.7,508.2 169.0,508.9 169.3,509.7 169.7,510.4 170.0,511.0 170.3,511.5 170.7,511.8 171.0,512.0 171.3,512.0 171.6,511.8 172.0,511.4 172.3,510.9 172.6,510.2 172.9,509.4 173.3,508.6 173.6,507.8 173.9,507.0 174.3,506.2 174.6,505.5 174.9,504.9 175.2,504.5 175.6,504.2 175.9,504.1 176.2,504.2 176.6,504.4 176.9,504.7 177.2,505.2 177.5,505.8 177.9,506.4 178.2,507.0 178.5,507.5 178.8,508.1 179.2,508.5 179.5,508.7 179.8,508.9 180.2,508.8 180.5,508.6 180.8,508.2 181.1,507.6 181.5,506.9 181.8,506.0 182.1,505.1 182.5,504.1 182.8,503.1 183.1,502.1 183.4,501.2 183.8,500.4 184.1,499.7 184.4,499.2 184.8,498.8 185.1,498.7 185.4,498.7 185.7,498.9 186.1,499.3 186.4,499.8 186.7,500.4 187.0,501.0 187.4,501.8 187.7,502.5 188.0,503.1 188.4,503.7 188.7,504.1 189.0,504.4 189.3,504.5 189.7,504.5 190.0,504.3 190.3,503.9 190.7,503.3 191.0,502.6 191.3,501.9 191.6,501.0 192.0,500.1 192.3,499.3 192.6,498.4 192.9,497.7 193.3,497.1 193.6,496.6 193.9,496.3 194.3,496.1 194.6,496.2 194.9,496.4 195.2,496.7 195.6,497.1 195.9,497.7 196.2,498.3 196.6,498.9 196.9,499.6 197.2,500.1 197.5,500.6 197.9,500.9 198.2,501.1 198.5,501.2 198.9,501.0 199.2,500.7 199.5,500.2 199.8,499.6 200.2,498.8 200.5,497.9 200.8,497.0 201.1,496.1 201.5,495.1 201.8,494.3 202.1,493.5 202.5,492.9 202.8,492.4 203.1,492.1 203.4,492.0 203.8,492.0 204.1,492.3 204.4,492.7 204.8,493.3 205.1,494.0 205.4,494.7 205.7,495.5 206.1,496.3 206.4,497.1 206.7,497.7 207.0,498.3 207.4,498.7 207.7,499.0 208.0,499.1 208.4,499.0 208.7,498.7 209.0,498.3 209.3,497.7 209.7,497.1 210.0,496.3 210.3,495.5 210.7,494.7 211.0,494.0 211.3,493.3 211.6,492.7 212.0,492.3 212.3,492.0 212.6,491.9 213.0,492.0 213.3,492.2 213.6,492.6 213.9,493.0 214.3,493.6 214.6,494.3 214.9,495.0 215.2,495.7 215.6,496.3 215.9,496.8 216.2,497.3 216.6,497.5 216.9,497.7 217.2,497.6 217.5,497.4 217.9,496.9 218.2,496.4 218.5,495.7 218.9,494.9 219.2,494.0 219.5,493.1 219.8,492.2 220.2,491.3 220.5,490.6 220.8,489.9 221.1,489.4 221.5,489.1 221.8,489.0 222.1,489.0 222.5,489.2 222.8,489.6 223.1,490.2 223.4,490.9 223.8,491.6 224.1,492.4 224.4,493.2 224.8,494.0 225.1,494.7 225.4,495.3 225.7,495.7 226.1,496.0 226.4,496.2 226.7,496.1 227.1,495.9 227.4,495.5 227.7,495.0 228.0,494.4 228.4,493.7 228.7,492.9 229.0,492.2 229.3,491.4 229.7,490.8 230.0,490.2 230.3,489.8 230.7,489.5 231.0,489.4 231.3,489.5 231.6,489.7 232.0,490.1 232.3,490.5 232.6,491.1 233.0,491.8 233.3,492.5 233.6,493.2 233.9,493.8 234.3,494.4 234.6,494.9 234.9,495.2 235.2,495.4 235.6,495.4 235.9,495.3 236.2,494.9 236.6,494.5 236.9,493.9 237.2,493.2 237.5,492.4 237.9,491.6 238.2,490.8 238.5,490.0 238.9,489.3 239.2,488.7 239.5,488.3 239.8,488.0 240.2,487.9 240.5,487.9 240.8,488.1 241.2,488.5 241.5,489.0 241.8,489.6 242.1,490.3 242.5,491.0 242.8,491.8 243.1,492.5 243.4,493.2 243.8,493.8 244.1,494.2 244.4,494.5 244.8,494.7 245.1,494.7 245.4,494.5 245.7,494.2 246.1,493.8 246.4,493.3 246.7,492.7 247.1,492.0 247.4,491.3 247.7,490.7 248.0,490.1 248.4,489.6 248.7,489.2 249.0,488.9 249.3,488.8 249.7,488.8 250.0,489.0 250.3,489.3 250.7,489.7 251.0,490.2 251.3,490.8 251.6,491.4 252.0,492.0 252.3,492.6 252.6,493.1 253.0,493.6 253.3,493.9 253.6,494.1 253.9,494.1 254.3,494.0 254.6,493.8 254.9,493.4 255.2,492.9 255.6,492.3 255.9,491.6 256.2,490.9 256.6,490.2 256.9,489.5 257.2,488.9 257.5,488.4 257.9,488.0 258.2,487.7 258.5,487.5 258.9,487.5 259.2,487.7 259.5,488.0 259.8,488.4 260.2,488.9 260.5,489.5 260.8,490.2 261.2,490.8 261.5,491.5 261.8,492.1 262.1,492.6 262.5,493.0 262.8,493.3 263.1,493.5 263.4,493.5 263.8,493.4 264.1,493.2 264.4,492.9 264.8,492.4 265.1,491.9 265.4,491.3 265.7,490.7 266.1,490.2 266.4,489.6 266.7,489.2 267.1,488.8 267.4,488.6 267.7,488.4 268.0,488.4 268.4,488.5 268.7,488.8 269.0,489.1 269.3,489.5 269.7,490.0 270.0,490.6 270.3,491.1 270.7,491.6 271.0,492.1 271.3,492.5 271.6,492.8 272.0,493.0 272.3,493.0 272.6,493.0 273.0,492.8 273.3,492.5 273.6,492.1 273.9,491.6 274.3,491.0 274.6,490.4 274.9,489.8 275.3,489.2 275.6,488.6 275.9,488.2 276.2,487.8 276.6,487.5 276.9,487.4 277.2,487.4 277.5,487.5 277.9,487.7 278.2,488.0 278.5,488.5 278.9,489.0 279.2,489.5 279.5,490.1 279.8,490.7 280.2,491.2 280.5,491.7 280.8,492.1 281.2,492.4 281.5,492.6 281.8,492.6 282.1,492.6 282.5,492.4 282.8,492.1 283.1,491.8 283.4,491.3 283.8,490.9 284.1,490.4 284.4,489.9 284.8,489.4 285.1,489.1 285.4,488.7 285.7,488.5 286.1,488.4 286.4,488.3 286.7,488.4 287.1,488.6 287.4,488.9 287.7,489.3 288.0,489.7 288.4,490.1 288.7,490.6 289.0,491.1 289.4,491.5 289.7,491.8 290.0,492.1 290.3,492.3 290.7,492.4 291.0,492.4 291.3,492.2 291.6,492.0 292.0,491.7 292.3,491.3 292.6,490.8 293.0,490.3 293.3,489.8 293.6,489.3 293.9,488.9 294.3,488.4 294.6,488.1 294.9,487.9 295.3,487.7 295.6,487.7 295.9,487.8 296.2,487.9 296.6,488.2 296.9,488.6 297.2,489.0 297.5,489.5 297.9,489.9 298.2,490.4 298.5,490.9 298.9,491.3 299.2,491.6 299.5,491.9 299.8,492.0 300.2,492.1 300.5,492.1 300.8,492.0 301.2,491.8 301.5,491.5 301.8,491.1 302.1,490.7 302.5,490.3 302.8,489.9 303.1,489.6 303.5,489.2 303.8,488.9 304.1,488.7 304.4,488.6 304.8,488.6 305.1,488.6 305.4,488.8 305.7,489.0 306.1,489.3 306.4,489.6 306.7,490.0 307.1,490.4 307.4,490.7 307.7,491.1 308.0,491.4 308.4,491.6 308.7,491.8 309.0,491.9 309.4,491.9 309.7,491.8 310.0,491.6 310.3,491.4 310.7,491.1 311.0,490.7 311.3,490.3 311.6,489.9 312.0,489.5 312.3,489.1 312.6,488.8 313.0,488.5 313.3,488.3 313.6,488.1 313.9,488.1 314.3,488.1 314.6,488.3 314.9,488.5 315.3,488.7 315.6,489.1 315.9,489.4 316.2,489.8 316.6,490.2 316.9,490.6 317.2,490.9 317.6,491.2 317.9,491.4 318.2,491.6 318.5,491.6 318.9,491.6 319.2,491.5 319.5,491.4 319.8,491.2 320.2,490.9 320.5,490.6 320.8,490.3 321.2,490.0 321.5,489.7 321.8,489.4 322.1,489.2 322.5,489.0 322.8,488.9 323.1,488.8 323.5,488.9 323.8,488.9 324.1,489.1 324.4,489.3 324.8,489.6 325.1,489.9 325.4,490.2 325.7,490.4 326.1,490.7 326.4,491.0 326.7,491.2 327.1,491.3 327.4,491.4 327.7,491.4 328.0,491.4 328.4,491.2 328.7,491.1 329.0,490.8 329.4,490.6 329.7,490.3 330.0,489.9 330.3,489.6 330.7,489.3 331.0,489.1 331.3,488.8 331.7,488.7 332.0,488.6 332.3,488.5 332.6,488.5 333.0,488.6 333.3,488.8 333.6,489.0 333.9,489.2 334.3,489.5 334.6,489.8 334.9,490.1 335.3,490.3 335.6,490.6 335.9,490.8 336.2,491.0 336.6,491.1 336.9,491.2 337.2,491.2 337.6,491.1 337.9,491.0 338.2,490.9 338.5,490.7 338.9,490.5 339.2,490.2 339.5,490.0 339.8,489.8 340.2,489.5 340.5,489.4 340.8,489.2 341.2,489.1 341.5,489.1 341.8,489.1 342.1,489.2 342.5,489.3 342.8,489.4 343.1,489.6 343.5,489.8 343.8,490.0 344.1,490.2 344.4,490.4 344.8,490.6 345.1,490.8 345.4,490.9 345.7,491.0 346.1,491.0 346.4,491.0 346.7,490.9 347.1,490.8 347.4,490.6 347.7,490.4 348.0,490.2 348.4,490.0 348.7,489.8 349.0,489.6 349.4,489.4 349.7,489.2 350.0,489.1 350.3,489.0 350.7,489.0 351.0,489.0 351.3,489.0 351.7,489.1 352.0,489.3 352.3,489.4 352.6,489.6 353.0,489.8 353.3,490.0 353.6,490.2 353.9,490.4 354.3,490.5 354.6,490.6 354.9,490.7 355.3,490.8 355.6,490.8 355.9,490.7 356.2,490.7 356.6,490.6 356.9,490.5 357.2,490.3 357.6,490.2 357.9,490.0 358.2,489.9 358.5,489.7 358.9,489.6 359.2,489.5 359.5,489.5 359.8,489.4 360.2,489.5 360.5,489.5 360.8,489.6 361.2,489.6 361.5,489.8 361.8,489.9 362.1,490.0 362.5,490.1 362.8,490.3 363.1,490.4 363.5,490.5 363.8,490.6 364.1,490.6 364.4,490.6 364.8,490.6 365.1,490.6 365.4,490.5 365.8,490.4 366.1,490.3 366.4,490.2 366.7,490.1 367.1,490.0 367.4,489.9 367.7,489.8 368.0,489.7 368.4,489.6 368.7,489.6 369.0,489.5 369.4,489.6 369.7,489.6 370.0,489.6 370.3,489.7 370.7,489.8 371.0,489.9 371.3,490.0 371.7,490.1 372.0,490.2 372.3,490.3 372.6,490.3 373.0,490.4 373.3,490.5 373.6,490.5 373.9,490.5 374.3,490.5 374.6,490.4 374.9,490.4 375.3,490.3 375.6,490.3 375.9,490.2 376.2,490.1 376.6,490.1 376.9,490.0 377.2,490.0 377.6,489.9 377.9,489.9 378.2,489.9 378.5,489.9 378.9,489.9 379.2,489.9 379.5,490.0 379.9,490.0 380.2,490.1 380.5,490.1 380.8,490.2 381.2,490.2 381.5,490.3 381.8,490.3 382.1,490.4 382.5,490.4 382.8,490.4 383.1,490.4 383.5,490.4 383.8,490.4 384.1,490.4 384.4,490.3 384.8,490.3 385.1,490.2 385.4,490.2 385.8,490.1 386.1,490.1 386.4,490.1 386.7,490.0 387.1,490.0 387.4,490.0 387.7,490.0 388.0,490.0 388.4,490.0 388.7,490.0 389.0,490.1 389.4,490.1 389.7,490.2 390.0,490.2 390.3,490.3 390.7,490.3 391.0,490.4 391.3,490.4 391.7,490.5 392.0,490.5 392.3,490.5 392.6,490.6 393.0,490.6 393.3,490.6 393.6,490.5 394.0,490.5 394.3,490.4 394.6,490.4 394.9,490.3 395.3,490.2 395.6,490.1 395.9,490.1 396.2,490.0 396.6,489.9 396.9,489.9 397.2,489.9 397.6,489.9 397.9,489.9 398.2,489.9 398.5,490.0 398.9,490.1 399.2,490.1 399.5,490.2 399.9,490.3 400.2,490.4 400.5,490.5 400.8,490.6 401.2,490.7 401.5,490.8 401.8,490.8 402.1,490.8 402.5,490.8 402.8,490.8 403.1,490.7 403.5,490.7 403.8,490.6 404.1,490.5 404.4,490.3 404.8,490.2 405.1,490.1 405.4,490.0 405.8,489.9 406.1,489.8 406.4,489.8 406.7,489.7 407.1,489.7 407.4,489.8 407.7,489.9 408.1,490.0 408.4,490.1 408.7,490.2 409.0,490.4 409.4,490.5 409.7,490.7 410.0,490.8 410.3,490.9 410.7,491.0 411.0,491.1 411.3,491.1 411.7,491.1 412.0,491.1 412.3,491.0 412.6,490.9 413.0,490.8 413.3,490.7 413.6,490.5 414.0,490.3 414.3,490.2 414.6,490.0 414.9,489.9 415.3,489.7 415.6,489.7 415.9,489.6 416.2,489.6 416.6,489.7 416.9,489.7 417.2,489.9 417.6,490.0 417.9,490.2 418.2,490.4 418.5,490.6 418.9,490.8 419.2,491.0 419.5,491.1 419.9,491.3 420.2,491.4 420.5,491.4 420.8,491.4 421.2,491.4 421.5,491.3 421.8,491.2 422.1,491.0 422.5,490.9 422.8,490.6 423.1,490.4 423.5,490.2 423.8,490.0 424.1,489.8 424.4,489.7 424.8,489.6 425.1,489.5 425.4,489.5 425.8,489.5 426.1,489.6 426.4,489.7 426.7,489.9 427.1,490.1 427.4,490.4 427.7,490.6 428.1,490.9 428.4,491.1 428.7,491.3 429.0,491.5 429.4,491.6 429.7,491.7 430.0,491.7 430.3,491.7 430.7,491.6 431.0,491.5 431.3,491.3 431.7,491.1 432.0,490.8 432.3,490.5 432.6,490.3 433.0,490.0 433.3,489.8 433.6,489.6 434.0,489.4 434.3,489.4 434.6,489.3 434.9,489.4 435.3,489.5 435.6,489.6 435.9,489.8 436.2,490.1 436.6,490.3 436.9,490.6 437.2,490.9 437.6,491.2 437.9,491.5 438.2,491.7 438.5,491.8 438.9,491.9 439.2,492.0 439.5,492.0 439.9,491.9 440.2,491.7 440.5,491.5 440.8,491.2 441.2,490.9 441.5,490.6 441.8,490.3 442.2,490.0 442.5,489.7 442.8,489.5 443.1,489.3 443.5,489.2 443.8,489.1 444.1,489.2 444.4,489.3 444.8,489.4 445.1,489.7 445.4,489.9 445.8,490.2 446.1,490.6 446.4,490.9 446.7,491.3 447.1,491.6 447.4,491.8 447.7,492.0 448.1,492.1 448.4,492.2 448.7,492.2 449.0,492.1 449.4,491.9 449.7,491.7 450.0,491.4 450.3,491.0 450.7,490.7 451.0,490.3 451.3,489.9 451.7,489.6 452.0,489.3 452.3,489.1 452.6,489.0 453.0,488.9 453.3,488.9 453.6,489.0 454.0,489.2 454.3,489.5 454.6,489.8 454.9,490.1 455.3,490.5 455.6,490.9 455.9,491.3 456.3,491.6 456.6,491.9 456.9,492.1 457.2,492.3 457.6,492.4 457.9,492.4 458.2,492.3 458.5,492.1 458.9,491.8 459.2,491.5 459.5,491.1 459.9,490.7 460.2,490.3 460.5,489.9 460.8,489.5 461.2,489.2 461.5,488.9 461.8,488.7 462.2,488.7 462.5,488.7 462.8,488.8 463.1,488.9 463.5,489.2 463.8,489.6 464.1,490.0 464.4,490.4 464.8,490.8 465.1,491.2 465.4,491.6 465.8,492.0 466.1,492.3 466.4,492.4 466.7,492.5 467.1,492.5 467.4,492.4 467.7,492.2 468.1,492.0 468.4,491.6 468.7,491.2 469.0,490.7 469.4,490.3 469.7,489.8 470.0,489.4 470.4,489.0 470.7,488.7 471.0,488.5 471.3,488.4 471.7,488.4 472.0,488.5 472.3,488.7 472.6,489.0 473.0,489.4 473.3,489.8 473.6,490.2 474.0,490.7 474.3,491.2 474.6,491.7 474.9,492.0 475.3,492.4 475.6,492.6 475.9,492.7 476.3,492.7 476.6,492.6 476.9,492.4 477.2,492.1 477.6,491.7 477.9,491.3 478.2,490.8 478.5,490.3 478.9,489.8 479.2,489.3 479.5,488.9 479.9,488.5 480.2,488.3 480.5,488.2 480.8,488.1 481.2,488.2 481.5,488.4 481.8,488.8 482.2,489.2 482.5,489.6 482.8,490.1 483.1,490.7 483.5,491.2 483.8,491.7 484.1,492.1 484.5,492.5 484.8,492.7 485.1,492.9 485.4,492.9 485.8,492.8 486.1,492.6 486.4,492.3 486.7,491.9 487.1,491.4 487.4,490.9 487.7,490.3 488.1,489.8 488.4,489.3 488.7,488.8 489.0,488.4 489.4,488.1 489.7,488.0 490.0,487.9 490.4,488.0 490.7,488.2 491.0,488.5 491.3,489.0 491.7,489.5 492.0,490.0 492.3,490.6 492.6,491.2 493.0,491.7 493.3,492.2 493.6,492.6 494.0,492.9 494.3,493.1 494.6,493.2 494.9,493.1 495.3,492.9 495.6,492.5 495.9,492.1 496.3,491.6 496.6,491.0 496.9,490.4 497.2,489.8 497.6,489.2 497.9,488.7 498.2,488.3 498.6,488.0 498.9,487.8 499.2,487.7 499.5,487.8 499.9,488.0 500.2,488.4 500.5,488.8 500.8,489.3 501.2,489.9 501.5,490.6 501.8,491.2 502.2,491.8 502.5,492.3 502.8,492.8 503.1,493.1 503.5,493.3 503.8,493.4 504.1,493.3 504.5,493.1 504.8,492.8 505.1,492.3 505.4,491.8 505.8,491.1 506.1,490.5 506.4,489.8 506.7,489.2 507.1,488.7 507.4,488.2 507.7,487.8 508.1,487.6 508.4,487.5 508.7,487.6 509.0,487.8 509.4,488.2 509.7,488.6 510.0,489.2 510.4,489.8 510.7,490.5 511.0,491.2 511.3,491.8 511.7,492.4 512.0,492.9 512.3,493.3 512.6,493.5 513.0,493.6 513.3,493.6 513.6,493.4 514.0,493.0 514.3,492.5 514.6,492.0 514.9,491.3 515.3,490.6 515.6,489.9 515.9,489.3 516.3,488.7 516.6,488.2 516.9,487.8 517.2,487.5 517.6,487.4 517.9,487.5 518.2,487.7 518.6,488.0 518.9,488.5 519.2,489.1 519.5,489.8 519.9,490.5 520.2,491.2 520.5,491.9 520.8,492.5 521.2,493.0 521.5,493.5 521.8,493.7 522.2,493.8 522.5,493.8 522.8,493.6 523.1,493.3 523.5,492.8 523.8,492.2 524.1,491.5 524.5,490.8 524.8,490.1 525.1,489.4 525.4,488.7 525.8,488.2 526.1,487.7 526.4,487.5 526.7,487.3 527.1,487.4 527.4,487.6 527.7,487.9 528.1,488.4 528.4,489.1 528.7,489.7 529.0,490.5 529.4,491.2 529.7,492.0 530.0,492.7 530.4,493.2 530.7,493.7 531.0,494.0 531.3,494.2 531.7,494.1 532.0,494.0 532.3,493.6 532.7,493.2 533.0,492.6 533.3,491.9 533.6,491.2 534.0,490.4 534.3,489.7 534.6,489.1 534.9,488.5 535.3,488.1 535.6,487.8 535.9,487.7 536.3,487.8 536.6,488.0 536.9,488.5 537.2,489.0 537.6,489.7 537.9,490.5 538.2,491.3 538.6,492.1 538.9,493.0 539.2,493.7 539.5,494.4 539.9,495.0 540.2,495.4 540.5,495.7 540.8,495.8 541.2,495.7 541.5,495.4 541.8,495.0 542.2,494.5 542.5,494.0 542.8,493.3 543.1,492.7 543.5,492.0 543.8,491.5 544.1,491.0 544.5,490.7 544.8,490.5 545.1,490.4 545.4,490.6 545.8,490.9 546.1,491.4 546.4,492.1 546.8,492.8 547.1,493.7 547.4,494.6 547.7,495.5 548.1,496.5 548.4,497.3 548.7,498.1 549.0,498.8 549.4,499.3 549.7,499.6 550.0,499.8 550.4,499.8 550.7,499.6 551.0,499.3 551.3,498.8 551.7,498.3 552.0,497.7 552.3,497.1 552.7,496.5 553.0,496.0 553.3,495.5 553.6,495.2 554.0,495.0 554.3,495.0 554.6,495.2 554.9,495.5 555.3,496.0 555.6,496.7 555.9,497.4 556.3,498.3 556.6,499.2 556.9,500.2 557.2,501.1 557.6,502.0 557.9,502.8 558.2,503.5 558.6,504.0 558.9,504.4 559.2,504.6 559.5,504.6 559.9,504.4 560.2,504.1 560.5,503.7 560.9,503.1 561.2,502.5 561.5,501.9 561.8,501.3 562.2,500.7 562.5,500.2 562.8,499.8 563.1,499.6 563.5,499.5 563.8,499.5 564.1,499.8 564.5,500.2 564.8,500.8 565.1,501.4 565.4,502.2 565.8,503.1 566.1,503.9 566.4,504.8 566.8,505.6 567.1,506.3 567.4,506.9 567.7,507.3 568.1,507.6 568.4,507.8 568.7,507.7 569.0,507.5 569.4,507.1 569.7,506.7 570.0,506.1 570.4,505.4 570.7,504.8 571.0,504.1 571.3,503.5 571.7,502.9 572.0,502.5 572.3,502.2 572.7,502.1 573.0,502.1 573.3,502.4 573.6,502.7 574.0,503.3 574.3,503.9 574.6,504.7 575.0,505.5 575.3,506.4 575.6,507.2 575.9,508.0 576.3,508.7 576.6,509.3 576.9,509.8 577.2,510.1 577.6,510.2 577.9,510.2 578.2,510.0 578.6,509.7 578.9,509.2 579.2,508.6 579.5,507.9 579.9,507.2 580.2,506.5 580.5,505.8 580.9,505.2 581.2,504.8 581.5,504.4 581.8,504.2 582.2,504.2 582.5,504.3 582.8,504.6 583.1,505.1 583.5,505.7 583.8,506.4 584.1,507.1 584.5,507.9 584.8,508.7 585.1,509.4 585.4,510.1 585.8,510.7 586.1,511.1 586.4,511.4 586.8,511.5 587.1,511.4 587.4,511.2 587.7,510.8 588.1,510.3 588.4,509.7 588.7,509.0 589.0,508.3 589.4,507.6 589.7,506.9 590.0,506.3 590.4,505.7 590.7,505.4 591.0,505.1 591.3,505.1 591.7,505.2 592.0,505.5 592.3,505.9 592.7,506.4 593.0,507.1 593.3,507.8 593.6,508.6 594.0,509.4 594.3,510.1 594.6,510.8 595.0,511.4 595.3,511.8 595.6,512.1 595.9,512.2 596.3,512.1 596.6,511.9 596.9,511.5 597.2,511.0 597.6,510.4 597.9,509.7 598.2,509.0 598.6,508.2 598.9,507.5 599.2,506.9 599.5,506.4 599.9,506.0 600.2,505.7 600.5,505.7 600.9,505.7 601.2,506.0 601.5,506.4 601.8,506.9 602.2,507.6 602.5,508.3 602.8,509.1 603.1,509.8 603.5,510.6 603.8,511.2 604.1,511.8 604.5,512.3 604.8,512.5 605.1,512.7 605.4,512.6 605.8,512.4 606.1,512.1 606.4,511.6 606.8,511.0 607.1,510.3 607.4,509.5 607.7,508.8 608.1,508.1 608.4,507.4 608.7,506.9 609.1,506.5 609.4,506.2 609.7,506.1 610.0,506.1 610.4,506.4 610.7,506.7 611.0,507.3 611.3,507.9 611.7,508.6 612.0,509.3 612.3,510.1 612.7,510.8 613.0,511.5 613.3,512.1 613.6,512.5 614.0,512.8 614.3,512.9 614.6,512.9 615.0,512.7 615.3,512.4 615.6,511.9 615.9,511.3 616.3,510.6 616.6,509.8 616.9,509.1 617.2,508.4 617.6,507.7 617.9,507.1 618.2,506.7 618.6,506.4 618.9,506.3 619.2,506.3 619.5,506.5 619.9,506.9 620.2,507.3 620.5,508.0 620.9,508.6 621.2,509.4 621.5,510.1 621.8,510.9 622.2,511.5 622.5,512.1 622.8,512.6 623.2,512.9 623.5,513.0 623.8,513.0 624.1,512.8 624.5,512.5 624.8,512.0 625.1,511.4 625.4,510.7 625.8,510.0 626.1,509.2 626.4,508.5 626.8,507.8 627.1,507.3 627.4,506.8 627.7,506.5 628.1,506.3 628.4,506.4 628.7,506.5 629.1,506.9 629.4,507.3 629.7,507.9 630.0,508.6 630.4,509.3 630.7,510.1 631.0,510.8 631.3,511.5 631.7,512.1 632.0,512.6 632.3,512.9 632.7,513.0 633.0,513.0 633.3,512.9 633.6,512.6 634.0,512.1 634.3,511.5 634.6,510.8 635.0,510.1 635.3,509.4 635.6,508.6 635.9,507.9 636.3,507.4 636.6,506.9 636.9,506.6 637.3,506.4 637.6,506.4 637.9,506.5 638.2,506.8 638.6,507.3 638.9,507.9 639.2,508.6 639.5,509.3 639.9,510.0 640.2,510.8 640.5,511.5 640.9,512.0 641.2,512.5 641.5,512.9 641.8,513.1 642.2,513.1 642.5,512.9 642.8,512.6 643.2,512.2 643.5,511.6 643.8,510.9 644.1,510.2 644.5,509.5 644.8,508.7 645.1,508.0 645.4,507.4 645.8,506.9 646.1,506.6 646.4,506.4 646.8,506.4 647.1,506.5 647.4,506.8 647.7,507.3 648.1,507.8 648.4,508.5 648.7,509.2 649.1,510.0 649.4,510.7 649.7,511.4 650.0,512.0 650.4,512.5 650.7,512.8 651.0,513.0 651.4,513.1 651.7,513.0 652.0,512.7 652.3,512.2 652.7,511.7 653.0,511.0 653.3,510.3 653.6,509.5 654.0,508.8 654.3,508.1 654.6,507.5 655.0,507.0 655.3,506.6 655.6,506.4 655.9,506.4 656.3,506.5 656.6,506.8 656.9,507.2 657.3,507.8 657.6,508.4 657.9,509.2 658.2,509.9 658.6,510.6 658.9,511.3 659.2,511.9 659.5,512.5 659.9,512.8 660.2,513.0 660.5,513.1 660.9,513.0 661.2,512.7 661.5,512.3 661.8,511.7 662.2,511.1 662.5,510.4 662.8,509.6 663.2,508.9 663.5,508.2 663.8,507.6 664.1,507.1 664.5,506.7 664.8,506.5 665.1,506.4 665.4,506.5 665.8,506.8 666.1,507.2 666.4,507.7 666.8,508.4 667.1,509.1 667.4,509.8 667.7,510.6 668.1,511.3 668.4,511.9 668.7,512.4 669.1,512.8 669.4,513.0 669.7,513.1 670.0,513.0 670.4,512.8 670.7,512.3 671.0,511.8 671.4,511.2 671.7,510.5"/>
</g>
<text x="118.66" y="590.50" font-size="18" text-anchor="middle">0.1</text>
<text x="210.83" y="590.50" font-size="18" text-anchor="middle">0.2</text>
<text x="303.00" y="590.50" font-size="18" text-anchor="middle">0.3</text>
<text x="395.17" y="590.50" font-size="18" text-anchor="middle">0.4</text>
<text x="487.34" y="590.50" font-size="18" text-anchor="middle">0.5</text>
<text x="579.51" y="590.50" font-size="18" text-anchor="middle">0.6</text>
<text x="671.68" y="590.50" font-size="18" text-anchor="middle">0.7</text>
<text x="73.8" y="433.80" font-size="18" text-anchor="end">450</text>
<text x="73.8" y="502.90" font-size="18" text-anchor="end">400</text>
<text x="73.8" y="572.00" font-size="18" text-anchor="end">350</text>
<text x="376.50" y="420.30" font-size="20" text-anchor="middle"><tspan font-size="17.8">(</tspan><tspan dx="0.4">c</tspan><tspan font-size="17.8" dx="0.4">)</tspan></text>
<text transform="translate(27.6,495.30) rotate(-90)" font-size="20.4" text-anchor="middle">V<tspan font-size="16" dx="1" dy="9">dc</tspan><tspan dx="1.5" dy="-9" xml:space="preserve"> (V)</tspan></text>
<line x1="118.66" y1="631.4" x2="118.66" y2="743.5" stroke="#adadad" stroke-width="1.0"/>
<line x1="210.83" y1="631.4" x2="210.83" y2="743.5" stroke="#adadad" stroke-width="1.0"/>
<line x1="303.00" y1="631.4" x2="303.00" y2="743.5" stroke="#adadad" stroke-width="1.0"/>
<line x1="395.17" y1="631.4" x2="395.17" y2="743.5" stroke="#adadad" stroke-width="1.0"/>
<line x1="487.34" y1="631.4" x2="487.34" y2="743.5" stroke="#adadad" stroke-width="1.0"/>
<line x1="579.51" y1="631.4" x2="579.51" y2="743.5" stroke="#adadad" stroke-width="1.0"/>
<line x1="82.0" y1="642.61" x2="671.8" y2="642.61" stroke="#adadad" stroke-width="1.0"/>
<line x1="82.0" y1="687.45" x2="671.8" y2="687.45" stroke="#adadad" stroke-width="1.0"/>
<line x1="82.0" y1="732.29" x2="671.8" y2="732.29" stroke="#adadad" stroke-width="1.0"/>
<rect x="82.0" y="631.4" width="589.80" height="112.10" fill="none" stroke="#262626" stroke-width="1.0"/>
<line x1="118.66" y1="743.5" x2="118.66" y2="737.0" stroke="#262626" stroke-width="1.0"/>
<line x1="118.66" y1="631.4" x2="118.66" y2="637.9" stroke="#262626" stroke-width="1.0"/>
<line x1="210.83" y1="743.5" x2="210.83" y2="737.0" stroke="#262626" stroke-width="1.0"/>
<line x1="210.83" y1="631.4" x2="210.83" y2="637.9" stroke="#262626" stroke-width="1.0"/>
<line x1="303.00" y1="743.5" x2="303.00" y2="737.0" stroke="#262626" stroke-width="1.0"/>
<line x1="303.00" y1="631.4" x2="303.00" y2="637.9" stroke="#262626" stroke-width="1.0"/>
<line x1="395.17" y1="743.5" x2="395.17" y2="737.0" stroke="#262626" stroke-width="1.0"/>
<line x1="395.17" y1="631.4" x2="395.17" y2="637.9" stroke="#262626" stroke-width="1.0"/>
<line x1="487.34" y1="743.5" x2="487.34" y2="737.0" stroke="#262626" stroke-width="1.0"/>
<line x1="487.34" y1="631.4" x2="487.34" y2="637.9" stroke="#262626" stroke-width="1.0"/>
<line x1="579.51" y1="743.5" x2="579.51" y2="737.0" stroke="#262626" stroke-width="1.0"/>
<line x1="579.51" y1="631.4" x2="579.51" y2="637.9" stroke="#262626" stroke-width="1.0"/>
<line x1="82.0" y1="642.61" x2="88.5" y2="642.61" stroke="#262626" stroke-width="1.0"/>
<line x1="671.8" y1="642.61" x2="665.3" y2="642.61" stroke="#262626" stroke-width="1.0"/>
<line x1="82.0" y1="687.45" x2="88.5" y2="687.45" stroke="#262626" stroke-width="1.0"/>
<line x1="671.8" y1="687.45" x2="665.3" y2="687.45" stroke="#262626" stroke-width="1.0"/>
<line x1="82.0" y1="732.29" x2="88.5" y2="732.29" stroke="#262626" stroke-width="1.0"/>
<line x1="671.8" y1="732.29" x2="665.3" y2="732.29" stroke="#262626" stroke-width="1.0"/>
<g clip-path="url(#clipd)">
<polyline fill="none" stroke="#0000ff" stroke-width="2.15" stroke-linejoin="round" points="81.8,735.1 82.1,735.1 82.4,735.0 82.8,735.0 83.1,735.0 83.4,734.9 83.8,734.8 84.1,734.8 84.4,734.7 84.7,734.7 85.1,734.7 85.4,734.6 85.7,734.6 86.1,734.6 86.4,734.6 86.7,734.7 87.0,734.7 87.4,734.8 87.7,734.8 88.0,734.9 88.3,734.9 88.7,735.0 89.0,735.1 89.3,735.1 89.7,735.2 90.0,735.2 90.3,735.2 90.6,735.3 91.0,735.3 91.3,735.2 91.6,735.2 92.0,735.2 92.3,735.1 92.6,735.1 92.9,735.0 93.3,735.0 93.6,734.9 93.9,734.9 94.3,734.8 94.6,734.8 94.9,734.8 95.2,734.8 95.6,734.8 95.9,734.8 96.2,734.9 96.5,734.9 96.9,735.0 97.2,735.0 97.5,735.1 97.9,735.2 98.2,735.2 98.5,735.3 98.8,735.3 99.2,735.4 99.5,735.4 99.8,735.4 100.2,735.4 100.5,735.4 100.8,735.4 101.1,735.3 101.5,735.3 101.8,735.2 102.1,735.2 102.4,735.1 102.8,735.1 103.1,735.0 103.4,735.0 103.8,735.0 104.1,734.9 104.4,734.9 104.7,734.9 105.1,735.0 105.4,735.0 105.7,735.0 106.1,735.1 106.4,735.2 106.7,735.2 107.0,735.3 107.4,735.3 107.7,735.4 108.0,735.4 108.4,735.5 108.7,735.5 109.0,735.5 109.3,735.5 109.7,735.5 110.0,735.5 110.3,735.4 110.6,735.4 111.0,735.3 111.3,735.3 111.6,735.2 112.0,735.2 112.3,735.1 112.6,735.1 112.9,735.0 113.3,735.0 113.6,735.0 113.9,735.0 114.3,735.0 114.6,735.1 114.9,735.1 115.2,735.2 115.6,735.2 115.9,735.3 116.2,735.3 116.5,735.4 116.9,735.5 117.2,735.5 117.5,735.5 117.9,735.6 118.2,735.6 118.5,735.6 118.8,735.6 119.2,735.5 119.5,735.5 119.8,735.5 120.2,735.4 120.5,735.3 120.8,735.3 121.1,735.2 121.5,735.2 121.8,735.1 122.1,735.1 122.5,735.1 122.8,735.1 123.1,735.1 123.4,735.1 123.8,735.1 124.1,735.2 124.4,735.2 124.7,735.3 125.1,735.3 125.4,735.4 125.7,735.4 126.1,735.5 126.4,735.5 126.7,735.6 127.0,735.6 127.4,735.6 127.7,735.6 128.0,735.6 128.4,735.6 128.7,735.5 129.0,735.5 129.3,735.4 129.7,735.4 130.0,735.3 130.3,735.3 130.6,735.2 131.0,735.2 131.3,735.1 131.6,735.1 132.0,735.1 132.3,735.1 132.6,735.1 132.9,735.1 133.3,735.2 133.6,735.2 133.9,735.3 134.3,735.3 134.6,735.4 134.9,735.5 135.2,735.5 135.6,735.6 135.9,735.6 136.2,735.6 136.6,735.6 136.9,735.6 137.2,735.6 137.5,735.6 137.9,735.6 138.2,735.5 138.5,735.5 138.8,735.4 139.2,735.4 139.5,735.3 139.8,735.3 140.2,735.2 140.5,735.2 140.8,735.1 141.1,735.1 141.5,735.1 141.8,735.1 142.1,735.2 142.5,735.2 142.8,735.3 143.1,735.3 143.4,735.4 143.8,735.4 144.1,735.5 144.4,735.5 144.7,735.6 145.1,735.6 145.4,735.7 145.7,735.7 146.1,735.7 146.4,735.7 146.7,735.6 147.0,735.6 147.4,735.6 147.7,735.5 148.0,735.5 148.4,735.4 148.7,735.3 149.0,735.3 149.3,735.2 149.7,735.2 150.0,735.2 150.3,735.1 150.7,735.1 151.0,735.2 151.3,735.2 151.6,735.2 152.0,735.3 152.3,735.3 152.6,735.4 152.9,735.4 153.3,735.5 153.6,735.6 153.9,735.6 154.3,735.6 154.6,735.7 154.9,735.7 155.2,735.7 155.6,735.7 155.9,735.7 156.2,735.6 156.6,735.6 156.9,735.5 157.2,735.5 157.5,735.4 157.9,735.4 158.2,735.3 158.5,735.2 158.8,735.2 159.2,735.2 159.5,735.2 159.8,735.2 160.2,735.2 160.5,735.2 160.8,735.2 161.1,735.3 161.5,735.3 161.8,735.4 162.1,735.4 162.5,735.5 162.8,735.6 163.1,735.6 163.4,735.6 163.8,735.7 164.1,735.7 164.4,735.7 164.8,735.7 165.1,735.7 165.4,735.6 165.7,735.6 166.1,735.5 166.4,735.5 166.7,735.4 167.0,735.4 167.4,735.3 167.7,735.2 168.0,735.2 168.4,735.2 168.7,735.1 169.0,735.1 169.3,735.1 169.7,735.2 170.0,735.2 170.3,735.2 170.7,735.3 171.0,735.3 171.3,735.4 171.6,735.5 172.0,735.5 172.3,735.6 172.6,735.6 172.9,735.6 173.3,735.6 173.6,735.6 173.9,735.6 174.3,735.6 174.6,735.6 174.9,735.5 175.2,735.5 175.6,735.4 175.9,735.3 176.2,735.3 176.6,735.2 176.9,735.1 177.2,735.1 177.5,735.1 177.9,735.0 178.2,735.0 178.5,735.0 178.8,735.0 179.2,735.0 179.5,735.1 179.8,735.1 180.2,735.1 180.5,735.2 180.8,735.2 181.1,735.3 181.5,735.3 181.8,735.3 182.1,735.3 182.5,735.3 182.8,735.3 183.1,735.3 183.4,735.2 183.8,735.2 184.1,735.1 184.4,735.0 184.8,735.0 185.1,734.9 185.4,734.8 185.7,734.7 186.1,734.6 186.4,734.5 186.7,734.5 187.0,734.4 187.4,734.4 187.7,734.3 188.0,734.3 188.4,734.3 188.7,734.3 189.0,734.3 189.3,734.3 189.7,734.3 190.0,734.4 190.3,734.4 190.7,734.4 191.0,734.4 191.3,734.4 191.6,734.3 192.0,734.3 192.3,734.2 192.6,734.2 192.9,734.1 193.3,734.0 193.6,733.9 193.9,733.8 194.3,733.7 194.6,733.5 194.9,733.4 195.2,733.3 195.6,733.2 195.9,733.1 196.2,733.0 196.6,733.0 196.9,732.9 197.2,732.9 197.5,732.8 197.9,732.8 198.2,732.8 198.5,732.8 198.9,732.8 199.2,732.8 199.5,732.8 199.8,732.8 200.2,732.7 200.5,732.7 200.8,732.7 201.1,732.6 201.5,732.5 201.8,732.5 202.1,732.4 202.5,732.2 202.8,732.1 203.1,732.0 203.4,731.9 203.8,731.7 204.1,731.6 204.4,731.5 204.8,731.4 205.1,731.3 205.4,731.2 205.7,731.1 206.1,731.0 206.4,731.0 206.7,730.9 207.0,730.9 207.4,730.8 207.7,730.8 208.0,730.8 208.4,730.8 208.7,730.8 209.0,730.8 209.3,730.7 209.7,730.7 210.0,730.6 210.3,730.6 210.7,730.5 211.0,730.4 211.3,730.3 211.6,730.2 212.0,730.1 212.3,730.0 212.6,729.8 213.0,729.7 213.3,729.6 213.6,729.4 213.9,729.3 214.3,729.2 214.6,729.1 214.9,729.0 215.2,728.9 215.6,728.9 215.9,728.8 216.2,728.8 216.6,728.8 216.9,728.7 217.2,728.7 217.5,728.7 217.9,728.7 218.2,728.7 218.5,728.6 218.9,728.6 219.2,728.6 219.5,728.5 219.8,728.4 220.2,728.3 220.5,728.2 220.8,728.1 221.1,728.0 221.5,727.9 221.8,727.7 222.1,727.6 222.5,727.5 222.8,727.3 223.1,727.2 223.4,727.1 223.8,727.0 224.1,726.9 224.4,726.8 224.8,726.8 225.1,726.7 225.4,726.7 225.7,726.6 226.1,726.6 226.4,726.6 226.7,726.6 227.1,726.6 227.4,726.5 227.7,726.5 228.0,726.5 228.4,726.4 228.7,726.4 229.0,726.3 229.3,726.2 229.7,726.1 230.0,726.0 230.3,725.9 230.7,725.7 231.0,725.6 231.3,725.5 231.6,725.3 232.0,725.2 232.3,725.1 232.6,725.0 233.0,724.8 233.3,724.8 233.6,724.7 233.9,724.6 234.3,724.6 234.6,724.5 234.9,724.5 235.2,724.5 235.6,724.4 235.9,724.4 236.2,724.4 236.6,724.4 236.9,724.3 237.2,724.3 237.5,724.3 237.9,724.2 238.2,724.1 238.5,724.0 238.9,723.9 239.2,723.8 239.5,723.7 239.8,723.6 240.2,723.4 240.5,723.3 240.8,723.2 241.2,723.0 241.5,722.9 241.8,722.8 242.1,722.7 242.5,722.6 242.8,722.5 243.1,722.4 243.4,722.4 243.8,722.3 244.1,722.3 244.4,722.3 244.8,722.2 245.1,722.2 245.4,722.2 245.7,722.2 246.1,722.2 246.4,722.1 246.7,722.1 247.1,722.0 247.4,721.9 247.7,721.8 248.0,721.7 248.4,721.6 248.7,721.5 249.0,721.4 249.3,721.2 249.7,721.1 250.0,721.0 250.3,720.8 250.7,720.7 251.0,720.6 251.3,720.5 251.6,720.4 252.0,720.3 252.3,720.2 252.6,720.2 253.0,720.1 253.3,720.1 253.6,720.1 253.9,720.1 254.3,720.0 254.6,720.0 254.9,720.0 255.2,720.0 255.6,719.9 255.9,719.9 256.2,719.8 256.6,719.8 256.9,719.7 257.2,719.6 257.5,719.5 257.9,719.3 258.2,719.2 258.5,719.1 258.9,718.9 259.2,718.8 259.5,718.7 259.8,718.5 260.2,718.4 260.5,718.3 260.8,718.2 261.2,718.1 261.5,718.1 261.8,718.0 262.1,718.0 262.5,717.9 262.8,717.9 263.1,717.9 263.4,717.9 263.8,717.8 264.1,717.8 264.4,717.8 264.8,717.8 265.1,717.7 265.4,717.7 265.7,717.6 266.1,717.5 266.4,717.4 266.7,717.3 267.1,717.2 267.4,717.1 267.7,716.9 268.0,716.8 268.4,716.6 268.7,716.5 269.0,716.4 269.3,716.3 269.7,716.2 270.0,716.1 270.3,716.0 270.7,715.9 271.0,715.8 271.3,715.8 271.6,715.8 272.0,715.7 272.3,715.7 272.6,715.7 273.0,715.7 273.3,715.7 273.6,715.6 273.9,715.6 274.3,715.6 274.6,715.5 274.9,715.4 275.3,715.3 275.6,715.3 275.9,715.1 276.2,715.0 276.6,714.9 276.9,714.8 277.2,714.6 277.5,714.5 277.9,714.4 278.2,714.2 278.5,714.1 278.9,714.0 279.2,713.9 279.5,713.8 279.8,713.7 280.2,713.7 280.5,713.6 280.8,713.6 281.2,713.6 281.5,713.5 281.8,713.5 282.1,713.5 282.5,713.5 282.8,713.5 283.1,713.4 283.4,713.4 283.8,713.3 284.1,713.3 284.4,713.2 284.8,713.1 285.1,713.0 285.4,712.9 285.7,712.7 286.1,712.6 286.4,712.5 286.7,712.3 287.1,712.2 287.4,712.0 287.7,711.9 288.0,711.8 288.4,711.7 288.7,711.6 289.0,711.5 289.4,711.5 289.7,711.4 290.0,711.4 290.3,711.4 290.7,711.3 291.0,711.3 291.3,711.3 291.6,711.3 292.0,711.2 292.3,711.2 292.6,711.2 293.0,711.1 293.3,711.0 293.6,711.0 293.9,710.9 294.3,710.8 294.6,710.6 294.9,710.5 295.3,710.4 295.6,710.2 295.9,710.1 296.2,710.0 296.6,709.8 296.9,709.7 297.2,709.6 297.5,709.5 297.9,709.4 298.2,709.3 298.5,709.2 298.9,709.2 299.2,709.1 299.5,709.1 299.8,709.1 300.2,709.1 300.5,709.0 300.8,709.0 301.2,709.0 301.5,709.0 301.8,708.9 302.1,708.9 302.5,708.8 302.8,708.7 303.1,708.6 303.5,708.5 303.8,708.4 304.1,708.3 304.4,708.1 304.8,708.0 305.1,707.8 305.4,707.7 305.7,707.6 306.1,707.4 306.4,707.3 306.7,707.2 307.1,707.1 307.4,707.0 307.7,706.9 308.0,706.9 308.4,706.8 308.7,706.8 309.0,706.8 309.4,706.7 309.7,706.7 310.0,706.7 310.3,706.7 310.7,706.6 311.0,706.6 311.3,706.5 311.6,706.5 312.0,706.4 312.3,706.3 312.6,706.2 313.0,706.0 313.3,705.9 313.6,705.8 313.9,705.6 314.3,705.5 314.6,705.3 314.9,705.2 315.3,705.1 315.6,705.0 315.9,704.8 316.2,704.7 316.6,704.7 316.9,704.6 317.2,704.5 317.6,704.5 317.9,704.4 318.2,704.4 318.5,704.4 318.9,704.3 319.2,704.3 319.5,704.3 319.8,704.2 320.2,704.2 320.5,704.1 320.8,704.1 321.2,704.0 321.5,703.9 321.8,703.8 322.1,703.7 322.5,703.5 322.8,703.4 323.1,703.2 323.5,703.1 323.8,703.0 324.1,702.8 324.4,702.7 324.8,702.5 325.1,702.4 325.4,702.3 325.7,702.2 326.1,702.2 326.4,702.1 326.7,702.0 327.1,702.0 327.4,702.0 327.7,701.9 328.0,701.9 328.4,701.9 328.7,701.9 329.0,701.8 329.4,701.8 329.7,701.7 330.0,701.6 330.3,701.6 330.7,701.5 331.0,701.4 331.3,701.2 331.7,701.1 332.0,701.0 332.3,700.8 332.6,700.7 333.0,700.5 333.3,700.4 333.6,700.2 333.9,700.1 334.3,700.0 334.6,699.9 334.9,699.8 335.3,699.7 335.6,699.7 335.9,699.6 336.2,699.6 336.6,699.5 336.9,699.5 337.2,699.5 337.6,699.4 337.9,699.4 338.2,699.4 338.5,699.3 338.9,699.3 339.2,699.2 339.5,699.1 339.8,699.0 340.2,698.9 340.5,698.8 340.8,698.7 341.2,698.5 341.5,698.4 341.8,698.2 342.1,698.1 342.5,697.9 342.8,697.8 343.1,697.7 343.5,697.6 343.8,697.5 344.1,697.4 344.4,697.3 344.8,697.2 345.1,697.2 345.4,697.1 345.7,697.1 346.1,697.0 346.4,697.0 346.7,697.0 347.1,697.0 347.4,696.9 347.7,696.9 348.0,696.8 348.4,696.8 348.7,696.7 349.0,696.6 349.4,696.5 349.7,696.4 350.0,696.2 350.3,696.1 350.7,695.9 351.0,695.8 351.3,695.7 351.7,695.5 352.0,695.4 352.3,695.2 352.6,695.1 353.0,695.0 353.3,694.9 353.6,694.8 353.9,694.8 354.3,694.7 354.6,694.7 354.9,694.6 355.3,694.6 355.6,694.6 355.9,694.5 356.2,694.5 356.6,694.5 356.9,694.4 357.2,694.4 357.6,694.3 357.9,694.2 358.2,694.1 358.5,694.0 358.9,693.9 359.2,693.8 359.5,693.6 359.8,693.5 360.2,693.4 360.5,693.2 360.8,693.1 361.2,692.9 361.5,692.8 361.8,692.7 362.1,692.6 362.5,692.5 362.8,692.4 363.1,692.3 363.5,692.2 363.8,692.2 364.1,692.2 364.4,692.1 364.8,692.1 365.1,692.1 365.4,692.0 365.8,692.0 366.1,692.0 366.4,691.9 366.7,691.8 367.1,691.8 367.4,691.7 367.7,691.6 368.0,691.4 368.4,691.3 368.7,691.2 369.0,691.0 369.4,690.9 369.7,690.7 370.0,690.6 370.3,690.5 370.7,690.3 371.0,690.2 371.3,690.1 371.7,690.0 372.0,689.9 372.3,689.8 372.6,689.8 373.0,689.7 373.3,689.7 373.6,689.7 373.9,689.6 374.3,689.6 374.6,689.6 374.9,689.5 375.3,689.5 375.6,689.4 375.9,689.4 376.2,689.3 376.6,689.2 376.9,689.1 377.2,689.0 377.6,688.9 377.9,688.7 378.2,688.6 378.5,688.5 378.9,688.3 379.2,688.2 379.5,688.0 379.9,687.9 380.2,687.8 380.5,687.7 380.8,687.6 381.2,687.5 381.5,687.4 381.8,687.3 382.1,687.3 382.5,687.3 382.8,687.2 383.1,687.2 383.5,687.2 383.8,687.2 384.1,687.1 384.4,687.1 384.8,687.0 385.1,687.0 385.4,686.9 385.8,686.8 386.1,686.7 386.4,686.6 386.7,686.5 387.1,686.4 387.4,686.2 387.7,686.1 388.0,685.9 388.4,685.8 388.7,685.6 389.0,685.5 389.4,685.3 389.7,685.2 390.0,685.1 390.3,685.0 390.7,684.9 391.0,684.9 391.3,684.8 391.7,684.8 392.0,684.8 392.3,684.8 392.6,684.8 393.0,684.9 393.3,684.9 393.6,684.9 394.0,684.9 394.3,684.9 394.6,684.8 394.9,684.8 395.3,684.7 395.6,684.5 395.9,684.4 396.2,684.2 396.6,684.0 396.9,683.8 397.2,683.6 397.6,683.4 397.9,683.2 398.2,682.9 398.5,682.8 398.9,682.6 399.2,682.5 399.5,682.4 399.9,682.3 400.2,682.3 400.5,682.3 400.8,682.3 401.2,682.4 401.5,682.5 401.8,682.6 402.1,682.7 402.5,682.8 402.8,682.9 403.1,682.9 403.5,682.9 403.8,682.9 404.1,682.9 404.4,682.8 404.8,682.6 405.1,682.4 405.4,682.2 405.8,681.9 406.1,681.7 406.4,681.4 406.7,681.1 407.1,680.8 407.4,680.5 407.7,680.3 408.1,680.0 408.4,679.9 408.7,679.8 409.0,679.7 409.4,679.7 409.7,679.8 410.0,679.9 410.3,680.0 410.7,680.2 411.0,680.4 411.3,680.6 411.7,680.7 412.0,680.9 412.3,681.0 412.6,681.1 413.0,681.1 413.3,681.0 413.6,680.9 414.0,680.8 414.3,680.5 414.6,680.2 414.9,679.9 415.3,679.6 415.6,679.2 415.9,678.8 416.2,678.4 416.6,678.1 416.9,677.8 417.2,677.6 417.6,677.4 417.9,677.3 418.2,677.2 418.5,677.2 418.9,677.3 419.2,677.5 419.5,677.7 419.9,677.9 420.2,678.2 420.5,678.4 420.8,678.7 421.2,678.9 421.5,679.1 421.8,679.2 422.1,679.3 422.5,679.2 422.8,679.1 423.1,678.9 423.5,678.7 423.8,678.3 424.1,677.9 424.4,677.5 424.8,677.0 425.1,676.6 425.4,676.1 425.8,675.7 426.1,675.4 426.4,675.1 426.7,674.9 427.1,674.7 427.4,674.7 427.7,674.7 428.1,674.9 428.4,675.1 428.7,675.3 429.0,675.6 429.4,676.0 429.7,676.3 430.0,676.6 430.3,676.9 430.7,677.2 431.0,677.3 431.3,677.4 431.7,677.4 432.0,677.3 432.3,677.1 432.6,676.8 433.0,676.4 433.3,675.9 433.6,675.4 434.0,674.9 434.3,674.4 434.6,673.8 434.9,673.3 435.3,672.9 435.6,672.6 435.9,672.3 436.2,672.2 436.6,672.1 436.9,672.2 437.2,672.3 437.6,672.6 437.9,672.9 438.2,673.3 438.5,673.7 438.9,674.1 439.2,674.5 439.5,674.9 439.9,675.2 440.2,675.4 440.5,675.5 440.8,675.5 441.2,675.4 441.5,675.2 441.8,674.9 442.2,674.4 442.5,673.9 442.8,673.3 443.1,672.7 443.5,672.1 443.8,671.5 444.1,670.9 444.4,670.4 444.8,670.0 445.1,669.7 445.4,669.6 445.8,669.5 446.1,669.6 446.4,669.8 446.7,670.0 447.1,670.4 447.4,670.9 447.7,671.4 448.1,671.9 448.4,672.3 448.7,672.8 449.0,673.1 449.4,673.4 449.7,673.6 450.0,673.6 450.3,673.5 450.7,673.3 451.0,672.9 451.3,672.4 451.7,671.8 452.0,671.2 452.3,670.5 452.6,669.8 453.0,669.1 453.3,668.5 453.6,667.9 454.0,667.4 454.3,667.1 454.6,666.9 454.9,666.8 455.3,666.9 455.6,667.1 455.9,667.4 456.3,667.9 456.6,668.4 456.9,669.0 457.2,669.5 457.6,670.1 457.9,670.6 458.2,671.0 458.5,671.4 458.9,671.6 459.2,671.6 459.5,671.5 459.9,671.3 460.2,670.9 460.5,670.4 460.8,669.8 461.2,669.0 461.5,668.3 461.8,667.5 462.2,666.7 462.5,666.0 462.8,665.4 463.1,664.8 463.5,664.5 463.8,664.2 464.1,664.1 464.4,664.2 464.8,664.4 465.1,664.8 465.4,665.3 465.8,665.9 466.1,666.5 466.4,667.2 466.7,667.8 467.1,668.4 467.4,668.9 467.7,669.3 468.1,669.5 468.4,669.6 468.7,669.6 469.0,669.3 469.4,668.9 469.7,668.4 470.0,667.7 470.4,666.9 470.7,666.1 471.0,665.2 471.3,664.3 471.7,663.5 472.0,662.8 472.3,662.2 472.6,661.8 473.0,661.5 473.3,661.4 473.6,661.5 474.0,661.7 474.3,662.2 474.6,662.7 474.9,663.3 475.3,664.0 475.6,664.8 475.9,665.5 476.3,666.2 476.6,666.8 476.9,667.2 477.2,667.5 477.6,667.6 477.9,667.6 478.2,667.3 478.5,666.9 478.9,666.3 479.2,665.6 479.5,664.8 479.9,663.9 480.2,662.9 480.5,662.0 480.8,661.1 481.2,660.3 481.5,659.7 481.8,659.2 482.2,658.8 482.5,658.7 482.8,658.8 483.1,659.1 483.5,659.5 483.8,660.1 484.1,660.8 484.5,661.6 484.8,662.4 485.1,663.2 485.4,664.0 485.8,664.6 486.1,665.1 486.4,665.5 486.7,665.7 487.1,665.6 487.4,665.4 487.7,665.0 488.1,664.3 488.4,663.6 488.7,662.7 489.0,661.7 489.4,660.7 489.7,659.7 490.0,658.7 490.4,657.8 490.7,657.1 491.0,656.6 491.3,656.2 491.7,656.1 492.0,656.1 492.3,656.4 492.6,656.9 493.0,657.5 493.3,658.3 493.6,659.1 494.0,660.0 494.3,660.9 494.6,661.7 494.9,662.5 495.3,663.1 495.6,663.5 495.9,663.7 496.3,663.7 496.6,663.5 496.9,663.0 497.2,662.4 497.6,661.6 497.9,660.6 498.2,659.6 498.6,658.5 498.9,657.4 499.2,656.3 499.5,655.4 499.9,654.6 500.2,654.0 500.5,653.6 500.8,653.4 501.2,653.4 501.5,653.7 501.8,654.2 502.2,654.9 502.5,655.7 502.8,656.6 503.1,657.6 503.5,658.6 503.8,659.5 504.1,660.3 504.5,661.0 504.8,661.5 505.1,661.7 505.4,661.8 505.8,661.5 506.1,661.1 506.4,660.4 506.7,659.6 507.1,658.6 507.4,657.4 507.7,656.3 508.1,655.1 508.4,654.0 508.7,652.9 509.0,652.1 509.4,651.4 509.7,651.0 510.0,650.8 510.4,650.8 510.7,651.1 511.0,651.6 511.3,652.3 511.7,653.2 512.0,654.2 512.3,655.2 512.6,656.3 513.0,657.3 513.3,658.1 513.6,658.9 514.0,659.4 514.3,659.7 514.6,659.8 514.9,659.6 515.3,659.1 515.6,658.5 515.9,657.6 516.3,656.5 516.6,655.3 516.9,654.1 517.2,652.9 517.6,651.7 517.9,650.6 518.2,649.7 518.6,648.9 518.9,648.4 519.2,648.2 519.5,648.2 519.9,648.5 520.2,649.0 520.5,649.8 520.8,650.7 521.2,651.7 521.5,652.8 521.8,653.9 522.2,655.0 522.5,655.9 522.8,656.7 523.1,657.3 523.5,657.7 523.8,657.8 524.1,657.6 524.5,657.2 524.8,656.5 525.1,655.6 525.4,654.5 525.8,653.3 526.1,652.0 526.4,650.7 526.7,649.4 527.1,648.3 527.4,647.3 527.7,646.5 528.1,646.0 528.4,645.7 528.7,645.7 529.0,646.0 529.4,646.5 529.7,647.2 530.0,648.2 530.4,649.3 530.7,650.4 531.0,651.6 531.3,652.7 531.7,653.7 532.0,654.6 532.3,655.2 532.7,655.6 533.0,655.8 533.3,655.6 533.6,655.2 534.0,654.5 534.3,653.6 534.6,652.5 534.9,651.2 535.3,649.9 535.6,648.5 535.9,647.2 536.3,646.0 536.6,645.0 536.9,644.1 537.2,643.5 537.6,643.2 537.9,643.2 538.2,643.5 538.6,644.0 538.9,644.8 539.2,645.7 539.5,646.8 539.9,648.0 540.2,649.2 540.5,650.4 540.8,651.5 541.2,652.4 541.5,653.1 541.8,653.5 542.2,653.7 542.5,653.6 542.8,653.1 543.1,652.5 543.5,651.6 543.8,650.4 544.1,649.2 544.5,647.8 544.8,646.5 545.1,645.1 545.4,643.9 545.8,642.9 546.1,642.0 546.4,641.4 546.8,641.1 547.1,641.0 547.4,641.3 547.7,641.8 548.1,642.6 548.4,643.5 548.7,644.7 549.0,645.9 549.4,647.1 549.7,648.3 550.0,649.4 550.4,650.3 550.7,651.1 551.0,651.6 551.3,651.8 551.7,651.7 552.0,651.4 552.3,650.7 552.7,649.9 553.0,648.8 553.3,647.6 553.6,646.3 554.0,644.9 554.3,643.6 554.6,642.4 554.9,641.4 555.3,640.5 555.6,639.9 555.9,639.6 556.3,639.5 556.6,639.8 556.9,640.3 557.2,641.0 557.6,642.0 557.9,643.1 558.2,644.3 558.6,645.6 558.9,646.8 559.2,647.9 559.5,648.9 559.9,649.7 560.2,650.2 560.5,650.5 560.9,650.5 561.2,650.2 561.5,649.6 561.8,648.8 562.2,647.8 562.5,646.6 562.8,645.4 563.1,644.0 563.5,642.8 563.8,641.6 564.1,640.5 564.5,639.7 564.8,639.1 565.1,638.8 565.4,638.7 565.8,638.9 566.1,639.5 566.4,640.2 566.8,641.2 567.1,642.3 567.4,643.5 567.7,644.8 568.1,646.0 568.4,647.2 568.7,648.2 569.0,649.0 569.4,649.6 569.7,649.9 570.0,649.9 570.4,649.7 570.7,649.2 571.0,648.4 571.3,647.4 571.7,646.3 572.0,645.1 572.3,643.8 572.7,642.5 573.0,641.4 573.3,640.3 573.6,639.5 574.0,638.9 574.3,638.5 574.6,638.4 575.0,638.7 575.3,639.1 575.6,639.9 575.9,640.8 576.3,641.9 576.6,643.1 576.9,644.4 577.2,645.7 577.6,646.8 577.9,647.9 578.2,648.7 578.6,649.3 578.9,649.7 579.2,649.8 579.5,649.6 579.9,649.1 580.2,648.3 580.5,647.4 580.9,646.3 581.2,645.1 581.5,643.8 581.8,642.6 582.2,641.4 582.5,640.4 582.8,639.5 583.1,638.9 583.5,638.5 583.8,638.4 584.1,638.6 584.5,639.1 584.8,639.8 585.1,640.7 585.4,641.8 585.8,643.0 586.1,644.2 586.4,645.5 586.8,646.7 587.1,647.7 587.4,648.6 587.7,649.2 588.1,649.6 588.4,649.7 588.7,649.6 589.0,649.1 589.4,648.4 589.7,647.5 590.0,646.4 590.4,645.2 590.7,644.0 591.0,642.7 591.3,641.5 591.7,640.5 592.0,639.6 592.3,638.9 592.7,638.5 593.0,638.4 593.3,638.6 593.6,639.0 594.0,639.7 594.3,640.6 594.6,641.7 595.0,642.8 595.3,644.1 595.6,645.4 595.9,646.5 596.3,647.6 596.6,648.5 596.9,649.2 597.2,649.6 597.6,649.7 597.9,649.6 598.2,649.1 598.6,648.5 598.9,647.6 599.2,646.5 599.5,645.3 599.9,644.1 600.2,642.9 600.5,641.7 600.9,640.6 601.2,639.7 601.5,639.0 601.8,638.6 602.2,638.4 602.5,638.6 602.8,639.0 603.1,639.6 603.5,640.5 603.8,641.5 604.1,642.7 604.5,644.0 604.8,645.2 605.1,646.4 605.4,647.5 605.8,648.4 606.1,649.1 606.4,649.5 606.8,649.7 607.1,649.6 607.4,649.2 607.7,648.6 608.1,647.7 608.4,646.6 608.7,645.5 609.1,644.2 609.4,643.0 609.7,641.8 610.0,640.7 610.4,639.8 610.7,639.1 611.0,638.6 611.3,638.5 611.7,638.6 612.0,638.9 612.3,639.5 612.7,640.4 613.0,641.4 613.3,642.6 613.6,643.8 614.0,645.1 614.3,646.3 614.6,647.4 615.0,648.3 615.3,649.0 615.6,649.5 615.9,649.7 616.3,649.6 616.6,649.2 616.9,648.6 617.2,647.8 617.6,646.8 617.9,645.6 618.2,644.4 618.6,643.1 618.9,641.9 619.2,640.8 619.5,639.9 619.9,639.2 620.2,638.7 620.5,638.5 620.9,638.5 621.2,638.9 621.5,639.5 621.8,640.3 622.2,641.3 622.5,642.5 622.8,643.7 623.2,644.9 623.5,646.1 623.8,647.2 624.1,648.2 624.5,648.9 624.8,649.4 625.1,649.6 625.4,649.6 625.8,649.3 626.1,648.7 626.4,647.9 626.8,646.9 627.1,645.7 627.4,644.5 627.7,643.3 628.1,642.1 628.4,641.0 628.7,640.0 629.1,639.3 629.4,638.7 629.7,638.5 630.0,638.5 630.4,638.8 630.7,639.4 631.0,640.2 631.3,641.2 631.7,642.3 632.0,643.6 632.3,644.8 632.7,646.0 633.0,647.1 633.3,648.1 633.6,648.8 634.0,649.4 634.3,649.6 634.6,649.6 635.0,649.3 635.3,648.8 635.6,648.0 635.9,647.0 636.3,645.9 636.6,644.6 636.9,643.4 637.3,642.2 637.6,641.1 637.9,640.1 638.2,639.3 638.6,638.8 638.9,638.5 639.2,638.5 639.5,638.8 639.9,639.3 640.2,640.1 640.5,641.1 640.9,642.2 641.2,643.4 641.5,644.7 641.8,645.9 642.2,647.0 642.5,648.0 642.8,648.8 643.2,649.3 643.5,649.6 643.8,649.6 644.1,649.3 644.5,648.8 644.8,648.1 645.1,647.1 645.4,646.0 645.8,644.8 646.1,643.5 646.4,642.3 646.8,641.2 647.1,640.2 647.4,639.4 647.7,638.9 648.1,638.5 648.4,638.5 648.7,638.8 649.1,639.3 649.4,640.0 649.7,641.0 650.0,642.1 650.4,643.3 650.7,644.5 651.0,645.7 651.4,646.9 651.7,647.9 652.0,648.7 652.3,649.3 652.7,649.6 653.0,649.6 653.3,649.4 653.6,648.9 654.0,648.2 654.3,647.2 654.6,646.1 655.0,644.9 655.3,643.7 655.6,642.5 655.9,641.3 656.3,640.3 656.6,639.5 656.9,638.9 657.3,638.6 657.6,638.5 657.9,638.7 658.2,639.2 658.6,639.9 658.9,640.9 659.2,642.0 659.5,643.2 659.9,644.4 660.2,645.6 660.5,646.8 660.9,647.8 661.2,648.6 661.5,649.2 661.8,649.5 662.2,649.6 662.5,649.4 662.8,648.9 663.2,648.2 663.5,647.3 663.8,646.2 664.1,645.0 664.5,643.8 664.8,642.6 665.1,641.4 665.4,640.4 665.8,639.6 666.1,639.0 666.4,638.6 666.8,638.5 667.1,638.7 667.4,639.2 667.7,639.9 668.1,640.8 668.4,641.8 668.7,643.0 669.1,644.3 669.4,645.5 669.7,646.6 670.0,647.7 670.4,648.5 670.7,649.1 671.0,649.5 671.4,649.6 671.7,649.4"/>
<polyline fill="none" stroke="#ff0000" stroke-width="2.15" stroke-linejoin="round" points="81.8,687.4 82.1,688.7 82.4,689.8 82.8,690.8 83.1,691.7 83.4,692.3 83.8,692.8 84.1,692.9 84.4,692.8 84.7,692.4 85.1,691.7 85.4,690.9 85.7,689.9 86.1,688.7 86.4,687.5 86.7,686.3 87.0,685.2 87.4,684.1 87.7,683.2 88.0,682.6 88.3,682.2 88.7,682.0 89.0,682.1 89.3,682.5 89.7,683.1 90.0,684.0 90.3,685.0 90.6,686.1 91.0,687.3 91.3,688.5 91.6,689.7 92.0,690.7 92.3,691.6 92.6,692.3 92.9,692.7 93.3,692.9 93.6,692.8 93.9,692.4 94.3,691.8 94.6,691.0 94.9,690.0 95.2,688.9 95.6,687.6 95.9,686.4 96.2,685.3 96.5,684.2 96.9,683.3 97.2,682.6 97.5,682.2 97.9,682.0 98.2,682.1 98.5,682.4 98.8,683.0 99.2,683.9 99.5,684.9 99.8,686.0 100.2,687.2 100.5,688.4 100.8,689.6 101.1,690.6 101.5,691.5 101.8,692.2 102.1,692.7 102.4,692.9 102.8,692.8 103.1,692.5 103.4,691.9 103.8,691.1 104.1,690.1 104.4,689.0 104.7,687.8 105.1,686.6 105.4,685.4 105.7,684.3 106.1,683.4 106.4,682.7 106.7,682.2 107.0,682.0 107.4,682.1 107.7,682.4 108.0,683.0 108.4,683.8 108.7,684.7 109.0,685.9 109.3,687.1 109.7,688.3 110.0,689.4 110.3,690.5 110.6,691.4 111.0,692.2 111.3,692.6 111.6,692.9 112.0,692.8 112.3,692.5 112.6,692.0 112.9,691.2 113.3,690.2 113.6,689.1 113.9,687.9 114.3,686.7 114.6,685.5 114.9,684.4 115.2,683.5 115.6,682.8 115.9,682.3 116.2,682.0 116.5,682.1 116.9,682.3 117.2,682.9 117.5,683.7 117.9,684.6 118.2,685.7 118.5,686.9 118.8,688.1 119.2,689.3 119.5,690.4 119.8,691.3 120.2,692.1 120.5,692.6 120.8,692.9 121.1,692.9 121.5,692.6 121.8,692.0 122.1,691.3 122.5,690.3 122.8,689.2 123.1,688.0 123.4,686.8 123.8,685.6 124.1,684.6 124.4,683.6 124.7,682.8 125.1,682.3 125.4,682.0 125.7,682.0 126.1,682.3 126.4,682.8 126.7,683.6 127.0,684.5 127.4,685.6 127.7,686.8 128.0,688.0 128.4,689.2 128.7,690.3 129.0,691.2 129.3,692.0 129.7,692.6 130.0,692.8 130.3,692.9 130.6,692.6 131.0,692.1 131.3,691.4 131.6,690.4 132.0,689.4 132.3,688.2 132.6,687.0 132.9,685.8 133.3,684.7 133.6,683.7 133.9,682.9 134.3,682.4 134.6,682.1 134.9,682.0 135.2,682.3 135.6,682.8 135.9,683.5 136.2,684.4 136.6,685.5 136.9,686.7 137.2,687.9 137.5,689.1 137.9,690.2 138.2,691.1 138.5,691.9 138.8,692.5 139.2,692.8 139.5,692.9 139.8,692.7 140.2,692.2 140.5,691.5 140.8,690.5 141.1,689.5 141.5,688.3 141.8,687.1 142.1,685.9 142.5,684.8 142.8,683.8 143.1,683.0 143.4,682.4 143.8,682.1 144.1,682.0 144.4,682.2 144.7,682.7 145.1,683.4 145.4,684.3 145.7,685.4 146.1,686.5 146.4,687.7 146.7,688.9 147.0,690.1 147.4,691.0 147.7,691.9 148.0,692.5 148.4,692.8 148.7,692.9 149.0,692.7 149.3,692.2 149.7,691.5 150.0,690.7 150.3,689.6 150.7,688.4 151.0,687.2 151.3,686.0 151.6,684.9 152.0,683.9 152.3,683.1 152.6,682.5 152.9,682.1 153.3,682.0 153.6,682.2 153.9,682.6 154.3,683.3 154.6,684.2 154.9,685.2 155.2,686.4 155.6,687.6 155.9,688.8 156.2,689.9 156.6,690.9 156.9,691.8 157.2,692.4 157.5,692.8 157.9,692.9 158.2,692.7 158.5,692.3 158.8,691.6 159.2,690.8 159.5,689.7 159.8,688.6 160.2,687.4 160.5,686.2 160.8,685.0 161.1,684.0 161.5,683.2 161.8,682.5 162.1,682.2 162.5,682.0 162.8,682.2 163.1,682.6 163.4,683.2 163.8,684.1 164.1,685.1 164.4,686.3 164.8,687.5 165.1,688.7 165.4,689.8 165.7,690.8 166.1,691.7 166.4,692.3 166.7,692.7 167.0,692.9 167.4,692.7 167.7,692.3 168.0,691.7 168.4,690.8 168.7,689.8 169.0,688.7 169.3,687.5 169.7,686.3 170.0,685.2 170.3,684.1 170.7,683.3 171.0,682.6 171.3,682.2 171.6,682.1 172.0,682.2 172.3,682.6 172.6,683.2 172.9,684.0 173.3,685.0 173.6,686.1 173.9,687.3 174.3,688.5 174.6,689.7 174.9,690.7 175.2,691.6 175.6,692.2 175.9,692.7 176.2,692.8 176.6,692.7 176.9,692.4 177.2,691.8 177.5,690.9 177.9,689.9 178.2,688.8 178.5,687.6 178.8,686.4 179.2,685.3 179.5,684.3 179.8,683.4 180.2,682.7 180.5,682.3 180.8,682.1 181.1,682.2 181.5,682.5 181.8,683.1 182.1,683.9 182.5,684.9 182.8,686.0 183.1,687.2 183.4,688.4 183.8,689.5 184.1,690.6 184.4,691.5 184.8,692.1 185.1,692.6 185.4,692.8 185.7,692.7 186.1,692.4 186.4,691.8 186.7,691.0 187.0,690.0 187.4,688.9 187.7,687.8 188.0,686.6 188.4,685.4 188.7,684.4 189.0,683.5 189.3,682.8 189.7,682.3 190.0,682.1 190.3,682.2 190.7,682.5 191.0,683.1 191.3,683.9 191.6,684.8 192.0,685.9 192.3,687.1 192.6,688.3 192.9,689.4 193.3,690.4 193.6,691.3 193.9,692.0 194.3,692.5 194.6,692.7 194.9,692.7 195.2,692.4 195.6,691.8 195.9,691.1 196.2,690.1 196.6,689.0 196.9,687.9 197.2,686.7 197.5,685.6 197.9,684.5 198.2,683.6 198.5,682.9 198.9,682.4 199.2,682.2 199.5,682.2 199.8,682.5 200.2,683.1 200.5,683.8 200.8,684.7 201.1,685.8 201.5,687.0 201.8,688.1 202.1,689.3 202.5,690.3 202.8,691.2 203.1,691.9 203.4,692.4 203.8,692.6 204.1,692.6 204.4,692.3 204.8,691.8 205.1,691.1 205.4,690.2 205.7,689.1 206.1,688.0 206.4,686.8 206.7,685.7 207.0,684.7 207.4,683.8 207.7,683.1 208.0,682.6 208.4,682.3 208.7,682.3 209.0,682.6 209.3,683.1 209.7,683.8 210.0,684.7 210.3,685.7 210.7,686.8 211.0,688.0 211.3,689.1 211.6,690.1 212.0,691.0 212.3,691.8 212.6,692.3 213.0,692.5 213.3,692.5 213.6,692.3 213.9,691.8 214.3,691.1 214.6,690.2 214.9,689.2 215.2,688.1 215.6,687.0 215.9,685.9 216.2,684.9 216.6,684.0 216.9,683.2 217.2,682.7 217.5,682.5 217.9,682.4 218.2,682.7 218.5,683.1 218.9,683.8 219.2,684.7 219.5,685.7 219.8,686.7 220.2,687.9 220.5,688.9 220.8,690.0 221.1,690.8 221.5,691.6 221.8,692.1 222.1,692.4 222.5,692.4 222.8,692.2 223.1,691.7 223.4,691.1 223.8,690.2 224.1,689.3 224.4,688.2 224.8,687.1 225.1,686.0 225.4,685.0 225.7,684.2 226.1,683.4 226.4,682.9 226.7,682.6 227.1,682.6 227.4,682.8 227.7,683.2 228.0,683.8 228.4,684.7 228.7,685.6 229.0,686.6 229.3,687.7 229.7,688.8 230.0,689.8 230.3,690.6 230.7,691.4 231.0,691.9 231.3,692.2 231.6,692.2 232.0,692.0 232.3,691.6 232.6,691.0 233.0,690.2 233.3,689.3 233.6,688.3 233.9,687.2 234.3,686.2 234.6,685.2 234.9,684.4 235.2,683.7 235.6,683.1 235.9,682.8 236.2,682.8 236.6,682.9 236.9,683.3 237.2,683.9 237.5,684.7 237.9,685.6 238.2,686.6 238.5,687.6 238.9,688.6 239.2,689.6 239.5,690.4 239.8,691.1 240.2,691.6 240.5,691.9 240.8,692.0 241.2,691.9 241.5,691.5 241.8,690.9 242.1,690.2 242.5,689.3 242.8,688.4 243.1,687.4 243.4,686.4 243.8,685.4 244.1,684.6 244.4,683.9 244.8,683.4 245.1,683.1 245.4,683.0 245.7,683.1 246.1,683.5 246.4,684.0 246.7,684.7 247.1,685.6 247.4,686.5 247.7,687.5 248.0,688.5 248.4,689.4 248.7,690.2 249.0,690.9 249.3,691.4 249.7,691.7 250.0,691.8 250.3,691.7 250.7,691.3 251.0,690.8 251.3,690.1 251.6,689.3 252.0,688.4 252.3,687.5 252.6,686.5 253.0,685.6 253.3,684.8 253.6,684.2 253.9,683.7 254.3,683.4 254.6,683.3 254.9,683.4 255.2,683.7 255.6,684.2 255.9,684.8 256.2,685.6 256.6,686.5 256.9,687.4 257.2,688.3 257.5,689.2 257.9,689.9 258.2,690.6 258.5,691.1 258.9,691.4 259.2,691.5 259.5,691.4 259.8,691.1 260.2,690.7 260.5,690.0 260.8,689.3 261.2,688.5 261.5,687.6 261.8,686.7 262.1,685.8 262.5,685.1 262.8,684.4 263.1,684.0 263.4,683.7 263.8,683.5 264.1,683.6 264.4,683.9 264.8,684.3 265.1,684.9 265.4,685.6 265.7,686.4 266.1,687.3 266.4,688.1 266.7,689.0 267.1,689.7 267.4,690.3 267.7,690.8 268.0,691.1 268.4,691.2 268.7,691.2 269.0,690.9 269.3,690.5 269.7,689.9 270.0,689.2 270.3,688.5 270.7,687.7 271.0,686.8 271.3,686.0 271.6,685.3 272.0,684.7 272.3,684.3 272.6,684.0 273.0,683.8 273.3,683.9 273.6,684.1 273.9,684.5 274.3,685.0 274.6,685.7 274.9,686.4 275.3,687.2 275.6,688.0 275.9,688.8 276.2,689.5 276.6,690.0 276.9,690.5 277.2,690.8 277.5,690.9 277.9,690.9 278.2,690.7 278.5,690.3 278.9,689.8 279.2,689.2 279.5,688.5 279.8,687.7 280.2,687.0 280.5,686.2 280.8,685.6 281.2,685.0 281.5,684.6 281.8,684.3 282.1,684.1 282.5,684.2 282.8,684.3 283.1,684.7 283.4,685.2 283.8,685.8 284.1,686.4 284.4,687.2 284.8,687.9 285.1,688.6 285.4,689.2 285.7,689.8 286.1,690.2 286.4,690.5 286.7,690.6 287.1,690.6 287.4,690.4 287.7,690.1 288.0,689.6 288.4,689.1 288.7,688.5 289.0,687.8 289.4,687.1 289.7,686.4 290.0,685.8 290.3,685.3 290.7,684.9 291.0,684.6 291.3,684.4 291.6,684.4 292.0,684.6 292.3,684.9 292.6,685.3 293.0,685.9 293.3,686.5 293.6,687.1 293.9,687.8 294.3,688.4 294.6,689.0 294.9,689.5 295.3,689.9 295.6,690.2 295.9,690.3 296.2,690.3 296.6,690.2 296.9,689.9 297.2,689.5 297.5,689.0 297.9,688.4 298.2,687.8 298.5,687.2 298.9,686.6 299.2,686.0 299.5,685.5 299.8,685.1 300.2,684.9 300.5,684.7 300.8,684.7 301.2,684.9 301.5,685.1 301.8,685.5 302.1,686.0 302.5,686.5 302.8,687.1 303.1,687.7 303.5,688.2 303.8,688.8 304.1,689.2 304.4,689.6 304.8,689.9 305.1,690.0 305.4,690.0 305.7,689.9 306.1,689.7 306.4,689.3 306.7,688.9 307.1,688.4 307.4,687.8 307.7,687.3 308.0,686.7 308.4,686.2 308.7,685.8 309.0,685.4 309.4,685.2 309.7,685.1 310.0,685.0 310.3,685.1 310.7,685.4 311.0,685.7 311.3,686.1 311.6,686.6 312.0,687.1 312.3,687.6 312.6,688.1 313.0,688.6 313.3,689.0 313.6,689.3 313.9,689.6 314.3,689.7 314.6,689.7 314.9,689.6 315.3,689.4 315.6,689.1 315.9,688.7 316.2,688.3 316.6,687.8 316.9,687.3 317.2,686.9 317.6,686.4 317.9,686.0 318.2,685.7 318.5,685.5 318.9,685.4 319.2,685.3 319.5,685.4 319.8,685.6 320.2,685.9 320.5,686.2 320.8,686.6 321.2,687.1 321.5,687.5 321.8,688.0 322.1,688.4 322.5,688.7 322.8,689.0 323.1,689.3 323.5,689.4 323.8,689.4 324.1,689.3 324.4,689.2 324.8,688.9 325.1,688.6 325.4,688.2 325.7,687.8 326.1,687.4 326.4,687.0 326.7,686.6 327.1,686.3 327.4,686.0 327.7,685.8 328.0,685.7 328.4,685.7 328.7,685.7 329.0,685.9 329.4,686.1 329.7,686.4 330.0,686.7 330.3,687.1 330.7,687.5 331.0,687.8 331.3,688.2 331.7,688.5 332.0,688.8 332.3,688.9 332.6,689.1 333.0,689.1 333.3,689.0 333.6,688.9 333.9,688.7 334.3,688.4 334.6,688.1 334.9,687.8 335.3,687.5 335.6,687.1 335.9,686.8 336.2,686.5 336.6,686.3 336.9,686.1 337.2,686.0 337.6,686.0 337.9,686.0 338.2,686.1 338.5,686.3 338.9,686.5 339.2,686.8 339.5,687.1 339.8,687.4 340.2,687.7 340.5,688.0 340.8,688.3 341.2,688.5 341.5,688.7 341.8,688.7 342.1,688.8 342.5,688.7 342.8,688.6 343.1,688.5 343.5,688.3 343.8,688.0 344.1,687.8 344.4,687.5 344.8,687.2 345.1,686.9 345.4,686.7 345.7,686.5 346.1,686.4 346.4,686.3 346.7,686.3 347.1,686.3 347.4,686.4 347.7,686.5 348.0,686.7 348.4,686.9 348.7,687.2 349.0,687.4 349.4,687.6 349.7,687.9 350.0,688.1 350.3,688.2 350.7,688.4 351.0,688.4 351.3,688.5 351.7,688.4 352.0,688.4 352.3,688.2 352.6,688.1 353.0,687.9 353.3,687.7 353.6,687.5 353.9,687.3 354.3,687.1 354.6,686.9 354.9,686.8 355.3,686.7 355.6,686.6 355.9,686.6 356.2,686.6 356.6,686.7 356.9,686.8 357.2,686.9 357.6,687.1 357.9,687.2 358.2,687.4 358.5,687.6 358.9,687.7 359.2,687.9 359.5,688.0 359.8,688.1 360.2,688.1 360.5,688.1 360.8,688.1 361.2,688.1 361.5,688.0 361.8,687.9 362.1,687.8 362.5,687.6 362.8,687.5 363.1,687.4 363.5,687.2 363.8,687.1 364.1,687.0 364.4,687.0 364.8,686.9 365.1,686.9 365.4,686.9 365.8,687.0 366.1,687.0 366.4,687.1 366.7,687.2 367.1,687.3 367.4,687.4 367.7,687.5 368.0,687.6 368.4,687.7 368.7,687.8 369.0,687.8 369.4,687.8 369.7,687.8 370.0,687.8 370.3,687.8 370.7,687.7 371.0,687.7 371.3,687.6 371.7,687.6 372.0,687.5 372.3,687.4 372.6,687.4 373.0,687.3 373.3,687.3 373.6,687.2 373.9,687.2 374.3,687.2 374.6,687.2 374.9,687.3 375.3,687.3 375.6,687.3 375.9,687.4 376.2,687.4 376.6,687.4 376.9,687.5 377.2,687.5 377.6,687.5 377.9,687.6 378.2,687.6 378.5,687.6 378.9,687.6 379.2,687.6 379.5,687.6 379.9,687.6 380.2,687.6 380.5,687.5 380.8,687.5 381.2,687.5 381.5,687.4 381.8,687.4 382.1,687.4 382.5,687.3 382.8,687.3 383.1,687.3 383.5,687.3 383.8,687.3 384.1,687.3 384.4,687.3 384.8,687.3 385.1,687.4 385.4,687.4 385.8,687.4 386.1,687.5 386.4,687.5 386.7,687.5 387.1,687.6 387.4,687.6 387.7,687.6 388.0,687.6 388.4,687.6 388.7,687.6 389.0,687.6 389.4,687.6 389.7,687.6 390.0,687.5 390.3,687.5 390.7,687.4 391.0,687.4 391.3,687.4 391.7,687.3 392.0,687.3 392.3,687.3 392.6,687.3 393.0,687.3 393.3,687.3 393.6,687.3 394.0,687.3 394.3,687.3 394.6,687.4 394.9,687.4 395.3,687.5 395.6,687.5 395.9,687.5 396.2,687.6 396.6,687.6 396.9,687.6 397.2,687.6 397.6,687.6 397.9,687.6 398.2,687.6 398.5,687.6 398.9,687.6 399.2,687.5 399.5,687.5 399.9,687.4 400.2,687.4 400.5,687.4 400.8,687.3 401.2,687.3 401.5,687.3 401.8,687.3 402.1,687.3 402.5,687.3 402.8,687.3 403.1,687.3 403.5,687.3 403.8,687.4 404.1,687.4 404.4,687.5 404.8,687.5 405.1,687.5 405.4,687.6 405.8,687.6 406.1,687.6 406.4,687.6 406.7,687.6 407.1,687.6 407.4,687.6 407.7,687.6 408.1,687.6 408.4,687.5 408.7,687.5 409.0,687.4 409.4,687.4 409.7,687.4 410.0,687.3 410.3,687.3 410.7,687.3 411.0,687.3 411.3,687.3 411.7,687.3 412.0,687.3 412.3,687.3 412.6,687.3 413.0,687.4 413.3,687.4 413.6,687.5 414.0,687.5 414.3,687.5 414.6,687.6 414.9,687.6 415.3,687.6 415.6,687.6 415.9,687.6 416.2,687.6 416.6,687.6 416.9,687.6 417.2,687.6 417.6,687.5 417.9,687.5 418.2,687.4 418.5,687.4 418.9,687.4 419.2,687.3 419.5,687.3 419.9,687.3 420.2,687.3 420.5,687.3 420.8,687.3 421.2,687.3 421.5,687.3 421.8,687.3 422.1,687.4 422.5,687.4 422.8,687.4 423.1,687.5 423.5,687.5 423.8,687.6 424.1,687.6 424.4,687.6 424.8,687.6 425.1,687.6 425.4,687.6 425.8,687.6 426.1,687.6 426.4,687.6 426.7,687.5 427.1,687.5 427.4,687.5 427.7,687.4 428.1,687.4 428.4,687.3 428.7,687.3 429.0,687.3 429.4,687.3 429.7,687.3 430.0,687.3 430.3,687.3 430.7,687.3 431.0,687.3 431.3,687.4 431.7,687.4 432.0,687.4 432.3,687.5 432.6,687.5 433.0,687.6 433.3,687.6 433.6,687.6 434.0,687.6 434.3,687.6 434.6,687.6 434.9,687.6 435.3,687.6 435.6,687.6 435.9,687.5 436.2,687.5 436.6,687.5 436.9,687.4 437.2,687.4 437.6,687.3 437.9,687.3 438.2,687.3 438.5,687.3 438.9,687.3 439.2,687.3 439.5,687.3 439.9,687.3 440.2,687.3 440.5,687.4 440.8,687.4 441.2,687.4 441.5,687.5 441.8,687.5 442.2,687.6 442.5,687.6 442.8,687.6 443.1,687.6 443.5,687.6 443.8,687.6 444.1,687.6 444.4,687.6 444.8,687.6 445.1,687.5 445.4,687.5 445.8,687.5 446.1,687.4 446.4,687.4 446.7,687.3 447.1,687.3 447.4,687.3 447.7,687.3 448.1,687.3 448.4,687.3 448.7,687.3 449.0,687.3 449.4,687.3 449.7,687.4 450.0,687.4 450.3,687.4 450.7,687.5 451.0,687.5 451.3,687.5 451.7,687.6 452.0,687.6 452.3,687.6 452.6,687.6 453.0,687.6 453.3,687.6 453.6,687.6 454.0,687.6 454.3,687.5 454.6,687.5 454.9,687.5 455.3,687.4 455.6,687.4 455.9,687.4 456.3,687.3 456.6,687.3 456.9,687.3 457.2,687.3 457.6,687.3 457.9,687.3 458.2,687.3 458.5,687.3 458.9,687.4 459.2,687.4 459.5,687.4 459.9,687.5 460.2,687.5 460.5,687.5 460.8,687.6 461.2,687.6 461.5,687.6 461.8,687.6 462.2,687.6 462.5,687.6 462.8,687.6 463.1,687.6 463.5,687.5 463.8,687.5 464.1,687.5 464.4,687.4 464.8,687.4 465.1,687.4 465.4,687.3 465.8,687.3 466.1,687.3 466.4,687.3 466.7,687.3 467.1,687.3 467.4,687.3 467.7,687.3 468.1,687.4 468.4,687.4 468.7,687.4 469.0,687.5 469.4,687.5 469.7,687.5 470.0,687.6 470.4,687.6 470.7,687.6 471.0,687.6 471.3,687.6 471.7,687.6 472.0,687.6 472.3,687.6 472.6,687.6 473.0,687.5 473.3,687.5 473.6,687.4 474.0,687.4 474.3,687.4 474.6,687.3 474.9,687.3 475.3,687.3 475.6,687.3 475.9,687.3 476.3,687.3 476.6,687.3 476.9,687.3 477.2,687.3 477.6,687.4 477.9,687.4 478.2,687.5 478.5,687.5 478.9,687.5 479.2,687.6 479.5,687.6 479.9,687.6 480.2,687.6 480.5,687.6 480.8,687.6 481.2,687.6 481.5,687.6 481.8,687.6 482.2,687.5 482.5,687.5 482.8,687.4 483.1,687.4 483.5,687.4 483.8,687.3 484.1,687.3 484.5,687.3 484.8,687.3 485.1,687.3 485.4,687.3 485.8,687.3 486.1,687.3 486.4,687.3 486.7,687.4 487.1,687.4 487.4,687.5 487.7,687.5 488.1,687.5 488.4,687.6 488.7,687.6 489.0,687.6 489.4,687.6 489.7,687.6 490.0,687.6 490.4,687.6 490.7,687.6 491.0,687.6 491.3,687.5 491.7,687.5 492.0,687.4 492.3,687.4 492.6,687.4 493.0,687.3 493.3,687.3 493.6,687.3 494.0,687.3 494.3,687.3 494.6,687.3 494.9,687.3 495.3,687.3 495.6,687.3 495.9,687.4 496.3,687.4 496.6,687.5 496.9,687.5 497.2,687.5 497.6,687.6 497.9,687.6 498.2,687.6 498.6,687.6 498.9,687.6 499.2,687.6 499.5,687.6 499.9,687.6 500.2,687.6 500.5,687.5 500.8,687.5 501.2,687.4 501.5,687.4 501.8,687.4 502.2,687.3 502.5,687.3 502.8,687.3 503.1,687.3 503.5,687.3 503.8,687.3 504.1,687.3 504.5,687.3 504.8,687.3 505.1,687.4 505.4,687.4 505.8,687.4 506.1,687.5 506.4,687.5 506.7,687.6 507.1,687.6 507.4,687.6 507.7,687.6 508.1,687.6 508.4,687.6 508.7,687.6 509.0,687.6 509.4,687.6 509.7,687.5 510.0,687.5 510.4,687.5 510.7,687.4 511.0,687.4 511.3,687.3 511.7,687.3 512.0,687.3 512.3,687.3 512.6,687.3 513.0,687.3 513.3,687.3 513.6,687.3 514.0,687.3 514.3,687.4 514.6,687.4 514.9,687.4 515.3,687.5 515.6,687.5 515.9,687.6 516.3,687.6 516.6,687.6 516.9,687.6 517.2,687.6 517.6,687.6 517.9,687.6 518.2,687.6 518.6,687.6 518.9,687.5 519.2,687.5 519.5,687.5 519.9,687.4 520.2,687.4 520.5,687.3 520.8,687.3 521.2,687.3 521.5,687.3 521.8,687.3 522.2,687.3 522.5,687.3 522.8,687.3 523.1,687.3 523.5,687.4 523.8,687.4 524.1,687.4 524.5,687.5 524.8,687.5 525.1,687.6 525.4,687.6 525.8,687.6 526.1,687.6 526.4,687.6 526.7,687.6 527.1,687.6 527.4,687.6 527.7,687.6 528.1,687.5 528.4,687.5 528.7,687.5 529.0,687.4 529.4,687.4 529.7,687.3 530.0,687.3 530.4,687.3 530.7,687.3 531.0,687.3 531.3,687.3 531.7,687.3 532.0,687.3 532.3,687.3 532.7,687.4 533.0,687.4 533.3,687.4 533.6,687.5 534.0,687.5 534.3,687.5 534.6,687.6 534.9,687.6 535.3,687.6 535.6,687.6 535.9,687.6 536.3,687.6 536.6,687.6 536.9,687.6 537.2,687.5 537.6,687.5 537.9,687.5 538.2,687.4 538.6,687.4 538.9,687.4 539.2,687.3 539.5,687.3 539.9,687.3 540.2,687.3 540.5,687.3 540.8,687.3 541.2,687.3 541.5,687.3 541.8,687.4 542.2,687.4 542.5,687.4 542.8,687.5 543.1,687.5 543.5,687.5 543.8,687.6 544.1,687.6 544.5,687.6 544.8,687.6 545.1,687.6 545.4,687.6 545.8,687.6 546.1,687.6 546.4,687.5 546.8,687.5 547.1,687.5 547.4,687.4 547.7,687.4 548.1,687.4 548.4,687.3 548.7,687.3 549.0,687.3 549.4,687.3 549.7,687.3 550.0,687.3 550.4,687.3 550.7,687.3 551.0,687.4 551.3,687.4 551.7,687.4 552.0,687.5 552.3,687.5 552.7,687.5 553.0,687.6 553.3,687.6 553.6,687.6 554.0,687.6 554.3,687.6 554.6,687.6 554.9,687.6 555.3,687.6 555.6,687.5 555.9,687.5 556.3,687.5 556.6,687.4 556.9,687.4 557.2,687.4 557.6,687.3 557.9,687.3 558.2,687.3 558.6,687.3 558.9,687.3 559.2,687.3 559.5,687.3 559.9,687.3 560.2,687.3 560.5,687.4 560.9,687.4 561.2,687.5 561.5,687.5 561.8,687.5 562.2,687.6 562.5,687.6 562.8,687.6 563.1,687.6 563.5,687.6 563.8,687.6 564.1,687.6 564.5,687.6 564.8,687.6 565.1,687.5 565.4,687.5 565.8,687.4 566.1,687.4 566.4,687.4 566.8,687.3 567.1,687.3 567.4,687.3 567.7,687.3 568.1,687.3 568.4,687.3 568.7,687.3 569.0,687.3 569.4,687.3 569.7,687.4 570.0,687.4 570.4,687.5 570.7,687.5 571.0,687.5 571.3,687.6 571.7,687.6 572.0,687.6 572.3,687.6 572.7,687.6 573.0,687.6 573.3,687.6 573.6,687.6 574.0,687.6 574.3,687.5 574.6,687.5 575.0,687.4 575.3,687.4 575.6,687.4 575.9,687.3 576.3,687.3 576.6,687.3 576.9,687.3 577.2,687.3 577.6,687.3 577.9,687.3 578.2,687.3 578.6,687.3 578.9,687.4 579.2,687.4 579.5,687.5 579.9,687.5 580.2,687.5 580.5,687.6 580.9,687.6 581.2,687.6 581.5,687.6 581.8,687.6 582.2,687.6 582.5,687.6 582.8,687.6 583.1,687.6 583.5,687.5 583.8,687.5 584.1,687.4 584.5,687.4 584.8,687.4 585.1,687.3 585.4,687.3 585.8,687.3 586.1,687.3 586.4,687.3 586.8,687.3 587.1,687.3 587.4,687.3 587.7,687.3 588.1,687.4 588.4,687.4 588.7,687.4 589.0,687.5 589.4,687.5 589.7,687.6 590.0,687.6 590.4,687.6 590.7,687.6 591.0,687.6 591.3,687.6 591.7,687.6 592.0,687.6 592.3,687.6 592.7,687.5 593.0,687.5 593.3,687.5 593.6,687.4 594.0,687.4 594.3,687.3 594.6,687.3 595.0,687.3 595.3,687.3 595.6,687.3 595.9,687.3 596.3,687.3 596.6,687.3 596.9,687.3 597.2,687.4 597.6,687.4 597.9,687.4 598.2,687.5 598.6,687.5 598.9,687.6 599.2,687.6 599.5,687.6 599.9,687.6 600.2,687.6 600.5,687.6 600.9,687.6 601.2,687.6 601.5,687.6 601.8,687.5 602.2,687.5 602.5,687.5 602.8,687.4 603.1,687.4 603.5,687.3 603.8,687.3 604.1,687.3 604.5,687.3 604.8,687.3 605.1,687.3 605.4,687.3 605.8,687.3 606.1,687.3 606.4,687.4 606.8,687.4 607.1,687.4 607.4,687.5 607.7,687.5 608.1,687.6 608.4,687.6 608.7,687.6 609.1,687.6 609.4,687.6 609.7,687.6 610.0,687.6 610.4,687.6 610.7,687.6 611.0,687.5 611.3,687.5 611.7,687.5 612.0,687.4 612.3,687.4 612.7,687.3 613.0,687.3 613.3,687.3 613.6,687.3 614.0,687.3 614.3,687.3 614.6,687.3 615.0,687.3 615.3,687.3 615.6,687.4 615.9,687.4 616.3,687.4 616.6,687.5 616.9,687.5 617.2,687.6 617.6,687.6 617.9,687.6 618.2,687.6 618.6,687.6 618.9,687.6 619.2,687.6 619.5,687.6 619.9,687.6 620.2,687.5 620.5,687.5 620.9,687.5 621.2,687.4 621.5,687.4 621.8,687.4 622.2,687.3 622.5,687.3 622.8,687.3 623.2,687.3 623.5,687.3 623.8,687.3 624.1,687.3 624.5,687.3 624.8,687.4 625.1,687.4 625.4,687.4 625.8,687.5 626.1,687.5 626.4,687.5 626.8,687.6 627.1,687.6 627.4,687.6 627.7,687.6 628.1,687.6 628.4,687.6 628.7,687.6 629.1,687.6 629.4,687.5 629.7,687.5 630.0,687.5 630.4,687.4 630.7,687.4 631.0,687.4 631.3,687.3 631.7,687.3 632.0,687.3 632.3,687.3 632.7,687.3 633.0,687.3 633.3,687.3 633.6,687.3 634.0,687.4 634.3,687.4 634.6,687.4 635.0,687.5 635.3,687.5 635.6,687.5 635.9,687.6 636.3,687.6 636.6,687.6 636.9,687.6 637.3,687.6 637.6,687.6 637.9,687.6 638.2,687.6 638.6,687.5 638.9,687.5 639.2,687.5 639.5,687.4 639.9,687.4 640.2,687.4 640.5,687.3 640.9,687.3 641.2,687.3 641.5,687.3 641.8,687.3 642.2,687.3 642.5,687.3 642.8,687.3 643.2,687.3 643.5,687.4 643.8,687.4 644.1,687.5 644.5,687.5 644.8,687.5 645.1,687.6 645.4,687.6 645.8,687.6 646.1,687.6 646.4,687.6 646.8,687.6 647.1,687.6 647.4,687.6 647.7,687.6 648.1,687.5 648.4,687.5 648.7,687.4 649.1,687.4 649.4,687.4 649.7,687.3 650.0,687.3 650.4,687.3 650.7,687.3 651.0,687.3 651.4,687.3 651.7,687.3 652.0,687.3 652.3,687.3 652.7,687.4 653.0,687.4 653.3,687.5 653.6,687.5 654.0,687.5 654.3,687.6 654.6,687.6 655.0,687.6 655.3,687.6 655.6,687.6 655.9,687.6 656.3,687.6 656.6,687.6 656.9,687.6 657.3,687.5 657.6,687.5 657.9,687.4 658.2,687.4 658.6,687.4 658.9,687.3 659.2,687.3 659.5,687.3 659.9,687.3 660.2,687.3 660.5,687.3 660.9,687.3 661.2,687.3 661.5,687.3 661.8,687.4 662.2,687.4 662.5,687.5 662.8,687.5 663.2,687.5 663.5,687.6 663.8,687.6 664.1,687.6 664.5,687.6 664.8,687.6 665.1,687.6 665.4,687.6 665.8,687.6 666.1,687.6 666.4,687.5 666.8,687.5 667.1,687.4 667.4,687.4 667.7,687.4 668.1,687.3 668.4,687.3 668.7,687.3 669.1,687.3 669.4,687.3 669.7,687.3 670.0,687.3 670.4,687.3 670.7,687.3 671.0,687.4 671.4,687.4 671.7,687.5"/>
</g>
<text x="118.66" y="769.10" font-size="18" text-anchor="middle">0.1</text>
<text x="210.83" y="769.10" font-size="18" text-anchor="middle">0.2</text>
<text x="303.00" y="769.10" font-size="18" text-anchor="middle">0.3</text>
<text x="395.17" y="769.10" font-size="18" text-anchor="middle">0.4</text>
<text x="487.34" y="769.10" font-size="18" text-anchor="middle">0.5</text>
<text x="579.51" y="769.10" font-size="18" text-anchor="middle">0.6</text>
<text x="671.68" y="769.10" font-size="18" text-anchor="middle">0.7</text>
<text x="73.8" y="649.71" font-size="18" text-anchor="end">2000</text>
<text x="73.8" y="694.55" font-size="18" text-anchor="end">0</text>
<text x="73.8" y="739.39" font-size="18" text-anchor="end">-2000</text>
<text x="376.50" y="625.00" font-size="20" text-anchor="middle"><tspan font-size="17.8">(</tspan><tspan dx="0.4">d</tspan><tspan font-size="17.8" dx="0.4">)</tspan></text>
<text transform="translate(21.7,686.95) rotate(-90)" font-size="20.4" text-anchor="middle">PQ (VA)</text>
<text x="379.3" y="793.5" font-size="20.4" text-anchor="middle">Time(s)</text>
<rect x="588.4" y="699.7" width="78.2" height="41.8" fill="#ffffff" stroke="#262626" stroke-width="1.0"/>
<line x1="594.3" y1="711.1" x2="648.9" y2="711.1" stroke="#0000ff" stroke-width="2.2"/>
<line x1="594.3" y1="729.85" x2="648.9" y2="729.85" stroke="#ff0000" stroke-width="2.2"/>
<text x="653.1" y="717" font-size="15.2">p</text>
<text x="653.1" y="735.4" font-size="15.2">q</text>
</svg>
</body></html>
